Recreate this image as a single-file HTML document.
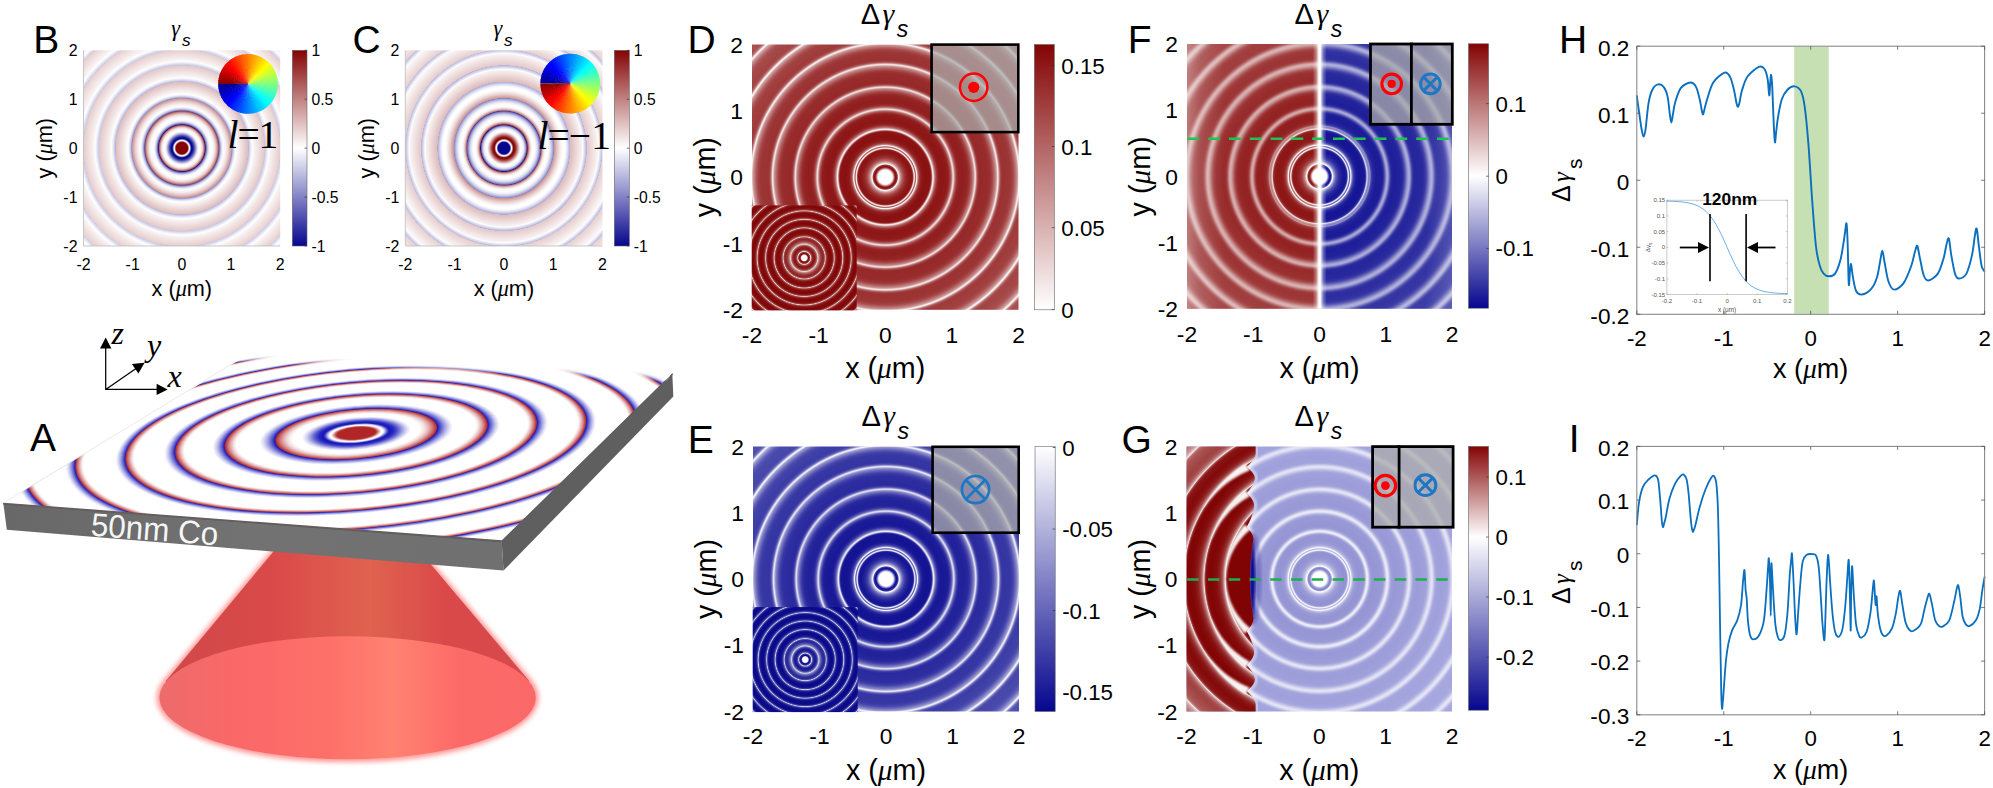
<!DOCTYPE html><html><head><meta charset="utf-8"><title>Figure</title><style>html,body{margin:0;padding:0;background:#fff}svg{display:block}</style></head><body><svg width="1993" height="788" viewBox="0 0 1993 788"><defs><radialGradient id="gB" gradientUnits="userSpaceOnUse" cx="181.85" cy="148.15" r="140.64"><stop offset="0.0000" stop-color="#840404"/><stop offset="0.0412" stop-color="#840404"/><stop offset="0.0427" stop-color="#8c1414"/><stop offset="0.0526" stop-color="#f9f3f3"/><stop offset="0.0540" stop-color="#fdfdfe"/><stop offset="0.0555" stop-color="#f2f2f9"/><stop offset="0.0569" stop-color="#dfdff1"/><stop offset="0.0583" stop-color="#c7c7e6"/><stop offset="0.0640" stop-color="#4d4dae"/><stop offset="0.0654" stop-color="#3232a2"/><stop offset="0.0668" stop-color="#1c1c98"/><stop offset="0.0683" stop-color="#0d0d91"/><stop offset="0.0697" stop-color="#06068e"/><stop offset="0.0739" stop-color="#0a0a90"/><stop offset="0.0796" stop-color="#1c1c98"/><stop offset="0.0867" stop-color="#4242a9"/><stop offset="0.1067" stop-color="#c9c9e7"/><stop offset="0.1138" stop-color="#ededf7"/><stop offset="0.1195" stop-color="#fdfdfe"/><stop offset="0.1280" stop-color="#fefdfd"/><stop offset="0.1365" stop-color="#f9f3f3"/><stop offset="0.1436" stop-color="#eedddd"/><stop offset="0.1493" stop-color="#e0bfbf"/><stop offset="0.1550" stop-color="#cb9494"/><stop offset="0.1593" stop-color="#b66a6a"/><stop offset="0.1635" stop-color="#9c3535"/><stop offset="0.1650" stop-color="#922121"/><stop offset="0.1664" stop-color="#171796"/><stop offset="0.1721" stop-color="#5e5eb6"/><stop offset="0.1778" stop-color="#9696cf"/><stop offset="0.1834" stop-color="#c0c0e2"/><stop offset="0.1891" stop-color="#ddddf0"/><stop offset="0.1962" stop-color="#f4f4fa"/><stop offset="0.2048" stop-color="#fefeff"/><stop offset="0.2190" stop-color="#fdfafa"/><stop offset="0.2304" stop-color="#f5eaea"/><stop offset="0.2403" stop-color="#e7cdcd"/><stop offset="0.2489" stop-color="#d4a7a7"/><stop offset="0.2560" stop-color="#be7b7b"/><stop offset="0.2631" stop-color="#a34343"/><stop offset="0.2645" stop-color="#5252b0"/><stop offset="0.2702" stop-color="#8b8bca"/><stop offset="0.2759" stop-color="#b7b7de"/><stop offset="0.2816" stop-color="#d7d7ed"/><stop offset="0.2887" stop-color="#f0f0f8"/><stop offset="0.2958" stop-color="#fefeff"/><stop offset="0.3157" stop-color="#f5eaea"/><stop offset="0.3328" stop-color="#e5caca"/><stop offset="0.3498" stop-color="#cf9c9c"/><stop offset="0.3541" stop-color="#c88e8e"/><stop offset="0.3555" stop-color="#8c8ccb"/><stop offset="0.3640" stop-color="#c0c0e3"/><stop offset="0.3726" stop-color="#e5e5f3"/><stop offset="0.3811" stop-color="#fafafd"/><stop offset="0.3840" stop-color="#ffffff"/><stop offset="0.4707" stop-color="#debcbc"/><stop offset="0.4721" stop-color="#b5b5dd"/><stop offset="0.4863" stop-color="#e0e0f1"/><stop offset="0.5006" stop-color="#fefeff"/><stop offset="0.5162" stop-color="#f8f1f1"/><stop offset="0.5873" stop-color="#e4c8c8"/><stop offset="0.5887" stop-color="#c4c4e4"/><stop offset="0.6072" stop-color="#ebebf6"/><stop offset="0.6172" stop-color="#fefefe"/><stop offset="0.6314" stop-color="#f8f1f1"/><stop offset="0.6982" stop-color="#e7cdcd"/><stop offset="0.6997" stop-color="#c7c7e5"/><stop offset="0.7181" stop-color="#ebebf6"/><stop offset="0.7295" stop-color="#ffffff"/><stop offset="0.7423" stop-color="#f9f3f3"/><stop offset="0.8134" stop-color="#e8d0d0"/><stop offset="0.8148" stop-color="#c9c9e6"/><stop offset="0.8333" stop-color="#ececf6"/><stop offset="0.8447" stop-color="#ffffff"/><stop offset="0.8575" stop-color="#f9f3f3"/><stop offset="0.9300" stop-color="#e8cfcf"/><stop offset="0.9315" stop-color="#cbcbe8"/><stop offset="0.9499" stop-color="#eeeef7"/><stop offset="0.9599" stop-color="#fefeff"/><stop offset="0.9741" stop-color="#f9f2f2"/><stop offset="0.9997" stop-color="#f2e5e5"/></radialGradient>
<linearGradient id="cbB" gradientUnits="userSpaceOnUse" x1="0.00" y1="50.30" x2="0.00" y2="246.00"><stop offset="0.0000" stop-color="#840404"/><stop offset="0.5000" stop-color="#ffffff"/><stop offset="1.0000" stop-color="#06068e"/></linearGradient>
<radialGradient id="gC" gradientUnits="userSpaceOnUse" cx="503.90" cy="148.15" r="141.00"><stop offset="0.0000" stop-color="#06068e"/><stop offset="0.0411" stop-color="#06068e"/><stop offset="0.0426" stop-color="#131394"/><stop offset="0.0525" stop-color="#f0f0f8"/><stop offset="0.0539" stop-color="#fefefe"/><stop offset="0.0553" stop-color="#f9f3f3"/><stop offset="0.0567" stop-color="#f1e1e1"/><stop offset="0.0582" stop-color="#e5c9c9"/><stop offset="0.0638" stop-color="#a94f4f"/><stop offset="0.0652" stop-color="#9b3434"/><stop offset="0.0667" stop-color="#901d1d"/><stop offset="0.0681" stop-color="#880c0c"/><stop offset="0.0695" stop-color="#840404"/><stop offset="0.0738" stop-color="#860808"/><stop offset="0.0794" stop-color="#8f1a1a"/><stop offset="0.0865" stop-color="#a13f3f"/><stop offset="0.1064" stop-color="#e4c7c7"/><stop offset="0.1135" stop-color="#f6ecec"/><stop offset="0.1192" stop-color="#fefcfc"/><stop offset="0.1262" stop-color="#fefeff"/><stop offset="0.1348" stop-color="#f6f6fb"/><stop offset="0.1418" stop-color="#e4e4f3"/><stop offset="0.1475" stop-color="#cacae7"/><stop offset="0.1532" stop-color="#a4a4d6"/><stop offset="0.1574" stop-color="#7e7ec4"/><stop offset="0.1617" stop-color="#4e4eaf"/><stop offset="0.1660" stop-color="#141494"/><stop offset="0.1674" stop-color="#932222"/><stop offset="0.1731" stop-color="#b56767"/><stop offset="0.1787" stop-color="#cf9d9d"/><stop offset="0.1844" stop-color="#e3c5c5"/><stop offset="0.1901" stop-color="#f0e1e1"/><stop offset="0.1972" stop-color="#faf6f6"/><stop offset="0.2057" stop-color="#ffffff"/><stop offset="0.2199" stop-color="#fafafd"/><stop offset="0.2312" stop-color="#e8e8f5"/><stop offset="0.2411" stop-color="#cbcbe7"/><stop offset="0.2496" stop-color="#a3a3d5"/><stop offset="0.2567" stop-color="#7777c1"/><stop offset="0.2638" stop-color="#3e3ea7"/><stop offset="0.2653" stop-color="#ae5959"/><stop offset="0.2709" stop-color="#c99191"/><stop offset="0.2766" stop-color="#debbbb"/><stop offset="0.2823" stop-color="#eddada"/><stop offset="0.2894" stop-color="#f8f1f1"/><stop offset="0.2979" stop-color="#fefefe"/><stop offset="0.3121" stop-color="#fdfdfe"/><stop offset="0.3234" stop-color="#eeeef7"/><stop offset="0.3362" stop-color="#cdcde8"/><stop offset="0.3489" stop-color="#9d9dd3"/><stop offset="0.3546" stop-color="#8484c7"/><stop offset="0.3560" stop-color="#ca9393"/><stop offset="0.3816" stop-color="#e7cdcd"/><stop offset="0.4028" stop-color="#f8f0f0"/><stop offset="0.4184" stop-color="#ffffff"/><stop offset="0.4355" stop-color="#fdfdfe"/><stop offset="0.4497" stop-color="#e2e2f2"/><stop offset="0.4709" stop-color="#a9a9d8"/><stop offset="0.4723" stop-color="#debbbb"/><stop offset="0.5532" stop-color="#f9f2f2"/><stop offset="0.5589" stop-color="#ffffff"/><stop offset="0.5844" stop-color="#babae0"/><stop offset="0.5872" stop-color="#b2b2dc"/><stop offset="0.5887" stop-color="#e4c8c8"/><stop offset="0.6653" stop-color="#f9f3f3"/><stop offset="0.6709" stop-color="#ffffff"/><stop offset="0.6979" stop-color="#babae0"/><stop offset="0.6993" stop-color="#e6cdcd"/><stop offset="0.7816" stop-color="#fbf8f8"/><stop offset="0.7858" stop-color="#fefefe"/><stop offset="0.8142" stop-color="#babae0"/><stop offset="0.8156" stop-color="#e8d0d0"/><stop offset="0.8965" stop-color="#fbf7f7"/><stop offset="0.9007" stop-color="#fefeff"/><stop offset="0.9291" stop-color="#bcbce0"/><stop offset="0.9305" stop-color="#e8d0d0"/><stop offset="1.0000" stop-color="#f8f0f0"/></radialGradient>
<linearGradient id="cbC" gradientUnits="userSpaceOnUse" x1="0.00" y1="50.30" x2="0.00" y2="246.00"><stop offset="0.0000" stop-color="#840404"/><stop offset="0.5000" stop-color="#ffffff"/><stop offset="1.0000" stop-color="#06068e"/></linearGradient>
<radialGradient id="gD" gradientUnits="userSpaceOnUse" cx="885.25" cy="177.15" r="190.55"><stop offset="0.0000" stop-color="#ffffff"/><stop offset="0.0357" stop-color="#fffefe"/><stop offset="0.0378" stop-color="#f9f3f3"/><stop offset="0.0399" stop-color="#eedcdc"/><stop offset="0.0430" stop-color="#d7acac"/><stop offset="0.0493" stop-color="#a24141"/><stop offset="0.0514" stop-color="#942626"/><stop offset="0.0535" stop-color="#8c1414"/><stop offset="0.0556" stop-color="#890f0f"/><stop offset="0.0598" stop-color="#911f1f"/><stop offset="0.0619" stop-color="#992f2f"/><stop offset="0.0630" stop-color="#9f3a3a"/><stop offset="0.0640" stop-color="#a74b4b"/><stop offset="0.0651" stop-color="#b86f6f"/><stop offset="0.0672" stop-color="#e1c2c2"/><stop offset="0.0682" stop-color="#f3e6e6"/><stop offset="0.0693" stop-color="#fdfbfb"/><stop offset="0.0703" stop-color="#fefefe"/><stop offset="0.0714" stop-color="#f6eded"/><stop offset="0.0766" stop-color="#dbb5b5"/><stop offset="0.0819" stop-color="#c68b8b"/><stop offset="0.0882" stop-color="#b46565"/><stop offset="0.0966" stop-color="#a34343"/><stop offset="0.1071" stop-color="#962a2a"/><stop offset="0.1218" stop-color="#8e1818"/><stop offset="0.1364" stop-color="#8b1212"/><stop offset="0.1417" stop-color="#8f1a1a"/><stop offset="0.1438" stop-color="#932323"/><stop offset="0.1448" stop-color="#992f2f"/><stop offset="0.1459" stop-color="#a44545"/><stop offset="0.1469" stop-color="#b26363"/><stop offset="0.1490" stop-color="#d7acac"/><stop offset="0.1501" stop-color="#e7cece"/><stop offset="0.1511" stop-color="#f2e5e5"/><stop offset="0.1522" stop-color="#f6ecec"/><stop offset="0.1532" stop-color="#f1e2e2"/><stop offset="0.1543" stop-color="#e5caca"/><stop offset="0.1564" stop-color="#c58888"/><stop offset="0.1574" stop-color="#b76c6c"/><stop offset="0.1585" stop-color="#b16060"/><stop offset="0.1595" stop-color="#b46666"/><stop offset="0.1606" stop-color="#c07e7e"/><stop offset="0.1627" stop-color="#e2c4c4"/><stop offset="0.1637" stop-color="#f1e3e3"/><stop offset="0.1648" stop-color="#faf5f5"/><stop offset="0.1658" stop-color="#fbf6f6"/><stop offset="0.1669" stop-color="#f2e5e5"/><stop offset="0.1690" stop-color="#d5a9a9"/><stop offset="0.1721" stop-color="#be7979"/><stop offset="0.1753" stop-color="#ad5858"/><stop offset="0.1795" stop-color="#9f3b3b"/><stop offset="0.1847" stop-color="#952626"/><stop offset="0.1931" stop-color="#8d1717"/><stop offset="0.2099" stop-color="#8a1010"/><stop offset="0.2351" stop-color="#8b1313"/><stop offset="0.2383" stop-color="#8f1b1b"/><stop offset="0.2404" stop-color="#972a2a"/><stop offset="0.2414" stop-color="#9d3636"/><stop offset="0.2425" stop-color="#a54747"/><stop offset="0.2446" stop-color="#bb7474"/><stop offset="0.2477" stop-color="#e3c6c6"/><stop offset="0.2488" stop-color="#eddbdb"/><stop offset="0.2498" stop-color="#f4e8e8"/><stop offset="0.2509" stop-color="#f6ecec"/><stop offset="0.2519" stop-color="#f4e8e8"/><stop offset="0.2530" stop-color="#efdede"/><stop offset="0.2582" stop-color="#c88e8e"/><stop offset="0.2614" stop-color="#b86d6d"/><stop offset="0.2676" stop-color="#a34444"/><stop offset="0.2739" stop-color="#962929"/><stop offset="0.2813" stop-color="#8f1a1a"/><stop offset="0.2960" stop-color="#8d1515"/><stop offset="0.3264" stop-color="#8f1b1b"/><stop offset="0.3338" stop-color="#952626"/><stop offset="0.3401" stop-color="#a13e3e"/><stop offset="0.3453" stop-color="#b15f5f"/><stop offset="0.3485" stop-color="#bf7c7c"/><stop offset="0.3516" stop-color="#d4a8a8"/><stop offset="0.3537" stop-color="#e4c7c7"/><stop offset="0.3548" stop-color="#ead3d3"/><stop offset="0.3558" stop-color="#eddbdb"/><stop offset="0.3569" stop-color="#eedddd"/><stop offset="0.3579" stop-color="#ecd8d8"/><stop offset="0.3600" stop-color="#e1c1c1"/><stop offset="0.3642" stop-color="#c38484"/><stop offset="0.3674" stop-color="#b46565"/><stop offset="0.3726" stop-color="#a34444"/><stop offset="0.3779" stop-color="#992e2e"/><stop offset="0.3852" stop-color="#922121"/><stop offset="0.4041" stop-color="#911e1e"/><stop offset="0.4303" stop-color="#942424"/><stop offset="0.4408" stop-color="#9b3232"/><stop offset="0.4503" stop-color="#a84e4e"/><stop offset="0.4618" stop-color="#c18080"/><stop offset="0.4650" stop-color="#cd9999"/><stop offset="0.4692" stop-color="#e6cccc"/><stop offset="0.4702" stop-color="#ebd7d7"/><stop offset="0.4713" stop-color="#eedddd"/><stop offset="0.4723" stop-color="#efdede"/><stop offset="0.4734" stop-color="#ecd9d9"/><stop offset="0.4744" stop-color="#e7cece"/><stop offset="0.4797" stop-color="#bf7d7d"/><stop offset="0.4828" stop-color="#ae5959"/><stop offset="0.4860" stop-color="#a34343"/><stop offset="0.4902" stop-color="#9a3232"/><stop offset="0.4965" stop-color="#962828"/><stop offset="0.5416" stop-color="#982c2c"/><stop offset="0.5542" stop-color="#9d3636"/><stop offset="0.5636" stop-color="#a74b4b"/><stop offset="0.5783" stop-color="#c18080"/><stop offset="0.5825" stop-color="#cc9797"/><stop offset="0.5857" stop-color="#dcb7b7"/><stop offset="0.5888" stop-color="#eedcdc"/><stop offset="0.5899" stop-color="#f1e3e3"/><stop offset="0.5909" stop-color="#f3e6e6"/><stop offset="0.5920" stop-color="#f1e3e3"/><stop offset="0.5930" stop-color="#eddada"/><stop offset="0.5951" stop-color="#debcbc"/><stop offset="0.5983" stop-color="#c58989"/><stop offset="0.6014" stop-color="#b46565"/><stop offset="0.6046" stop-color="#a84e4e"/><stop offset="0.6088" stop-color="#a03c3c"/><stop offset="0.6151" stop-color="#9b3232"/><stop offset="0.6529" stop-color="#9c3535"/><stop offset="0.6665" stop-color="#a24040"/><stop offset="0.6759" stop-color="#ac5656"/><stop offset="0.6906" stop-color="#c68b8b"/><stop offset="0.6938" stop-color="#ce9c9c"/><stop offset="0.6969" stop-color="#ddb9b9"/><stop offset="0.7001" stop-color="#efdfdf"/><stop offset="0.7011" stop-color="#f4e9e9"/><stop offset="0.7022" stop-color="#f7eeee"/><stop offset="0.7032" stop-color="#f7eeee"/><stop offset="0.7043" stop-color="#f4e9e9"/><stop offset="0.7064" stop-color="#e7cfcf"/><stop offset="0.7106" stop-color="#c78d8d"/><stop offset="0.7137" stop-color="#b66b6b"/><stop offset="0.7179" stop-color="#a95050"/><stop offset="0.7232" stop-color="#a14040"/><stop offset="0.7326" stop-color="#9f3a3a"/><stop offset="0.7725" stop-color="#a24141"/><stop offset="0.7841" stop-color="#a84e4e"/><stop offset="0.7935" stop-color="#b46565"/><stop offset="0.8071" stop-color="#cd9898"/><stop offset="0.8103" stop-color="#d6acac"/><stop offset="0.8134" stop-color="#e7cece"/><stop offset="0.8155" stop-color="#f3e7e7"/><stop offset="0.8166" stop-color="#f8f0f0"/><stop offset="0.8176" stop-color="#faf5f5"/><stop offset="0.8187" stop-color="#faf5f5"/><stop offset="0.8197" stop-color="#f7efef"/><stop offset="0.8218" stop-color="#ead5d5"/><stop offset="0.8260" stop-color="#cb9494"/><stop offset="0.8292" stop-color="#ba7373"/><stop offset="0.8334" stop-color="#ae5959"/><stop offset="0.8386" stop-color="#a64949"/><stop offset="0.8481" stop-color="#a34444"/><stop offset="0.8880" stop-color="#a64a4a"/><stop offset="0.8995" stop-color="#ac5757"/><stop offset="0.9100" stop-color="#b97171"/><stop offset="0.9226" stop-color="#cf9e9e"/><stop offset="0.9258" stop-color="#d9b1b1"/><stop offset="0.9289" stop-color="#e9d1d1"/><stop offset="0.9310" stop-color="#f4e9e9"/><stop offset="0.9331" stop-color="#faf6f6"/><stop offset="0.9342" stop-color="#faf5f5"/><stop offset="0.9352" stop-color="#f7efef"/><stop offset="0.9373" stop-color="#ebd6d6"/><stop offset="0.9415" stop-color="#cd9999"/><stop offset="0.9446" stop-color="#be7a7a"/><stop offset="0.9488" stop-color="#b26161"/><stop offset="0.9541" stop-color="#aa5353"/><stop offset="0.9646" stop-color="#a84e4e"/><stop offset="1.0003" stop-color="#aa5252"/></radialGradient>
<clipPath id="ciD"><rect x="751.70" y="205.40" width="105.00" height="105.00"/></clipPath>
<radialGradient id="giD" gradientUnits="userSpaceOnUse" cx="804.20" cy="257.90" r="75.60"><stop offset="0.0000" stop-color="#ffffff"/><stop offset="0.0337" stop-color="#ffffff"/><stop offset="0.0357" stop-color="#fefcfc"/><stop offset="0.0377" stop-color="#f7efef"/><stop offset="0.0397" stop-color="#ebd8d8"/><stop offset="0.0417" stop-color="#dcbbbb"/><stop offset="0.0476" stop-color="#a85555"/><stop offset="0.0496" stop-color="#993737"/><stop offset="0.0516" stop-color="#8c1e1e"/><stop offset="0.0536" stop-color="#840f0f"/><stop offset="0.0556" stop-color="#820a0a"/><stop offset="0.0635" stop-color="#871515"/><stop offset="0.0694" stop-color="#912727"/><stop offset="0.0734" stop-color="#9c3e3e"/><stop offset="0.0754" stop-color="#a54e4e"/><stop offset="0.0774" stop-color="#b06464"/><stop offset="0.0794" stop-color="#bd7f7f"/><stop offset="0.0813" stop-color="#cfa1a1"/><stop offset="0.0833" stop-color="#e6cece"/><stop offset="0.0853" stop-color="#f3e7e7"/><stop offset="0.0873" stop-color="#e3c7c7"/><stop offset="0.0913" stop-color="#c99595"/><stop offset="0.0952" stop-color="#b67070"/><stop offset="0.0992" stop-color="#a85555"/><stop offset="0.1052" stop-color="#9a3939"/><stop offset="0.1131" stop-color="#8f2424"/><stop offset="0.1230" stop-color="#891818"/><stop offset="0.1349" stop-color="#891818"/><stop offset="0.1468" stop-color="#902525"/><stop offset="0.1567" stop-color="#9c3c3c"/><stop offset="0.1647" stop-color="#ac5c5c"/><stop offset="0.1706" stop-color="#be8181"/><stop offset="0.1746" stop-color="#cfa1a1"/><stop offset="0.1786" stop-color="#e4caca"/><stop offset="0.1806" stop-color="#ead5d5"/><stop offset="0.1885" stop-color="#d2a7a7"/><stop offset="0.1984" stop-color="#bc7b7b"/><stop offset="0.2103" stop-color="#a95656"/><stop offset="0.2242" stop-color="#9a3939"/><stop offset="0.2401" stop-color="#912727"/><stop offset="0.2520" stop-color="#902626"/><stop offset="0.2599" stop-color="#963232"/><stop offset="0.2639" stop-color="#9d4040"/><stop offset="0.2679" stop-color="#a95656"/><stop offset="0.2698" stop-color="#b16666"/><stop offset="0.2718" stop-color="#bb7b7b"/><stop offset="0.2738" stop-color="#c89494"/><stop offset="0.2758" stop-color="#d8b3b3"/><stop offset="0.2778" stop-color="#eddbdb"/><stop offset="0.2817" stop-color="#d1a5a5"/><stop offset="0.2857" stop-color="#bd7d7d"/><stop offset="0.2897" stop-color="#ad5f5f"/><stop offset="0.2956" stop-color="#9d4040"/><stop offset="0.3036" stop-color="#902626"/><stop offset="0.3135" stop-color="#881515"/><stop offset="0.3313" stop-color="#820a0a"/><stop offset="0.3591" stop-color="#810909"/><stop offset="0.3710" stop-color="#861212"/><stop offset="0.3790" stop-color="#8f2323"/><stop offset="0.3829" stop-color="#973434"/><stop offset="0.3869" stop-color="#a44d4d"/><stop offset="0.3889" stop-color="#ad5f5f"/><stop offset="0.3909" stop-color="#b87474"/><stop offset="0.3929" stop-color="#c68f8f"/><stop offset="0.3948" stop-color="#d7b0b0"/><stop offset="0.3968" stop-color="#ecd9d9"/><stop offset="0.3988" stop-color="#dbb9b9"/><stop offset="0.4008" stop-color="#cd9d9d"/><stop offset="0.4048" stop-color="#b77272"/><stop offset="0.4087" stop-color="#a75252"/><stop offset="0.4147" stop-color="#973434"/><stop offset="0.4226" stop-color="#8b1c1c"/><stop offset="0.4345" stop-color="#830d0d"/><stop offset="0.4563" stop-color="#800606"/><stop offset="0.4762" stop-color="#820a0a"/><stop offset="0.4861" stop-color="#881515"/><stop offset="0.4921" stop-color="#902525"/><stop offset="0.4960" stop-color="#993737"/><stop offset="0.5000" stop-color="#a75252"/><stop offset="0.5020" stop-color="#b06565"/><stop offset="0.5040" stop-color="#bc7c7c"/><stop offset="0.5060" stop-color="#cb9999"/><stop offset="0.5079" stop-color="#ddbdbd"/><stop offset="0.5099" stop-color="#e6cece"/><stop offset="0.5119" stop-color="#d6afaf"/><stop offset="0.5139" stop-color="#c99595"/><stop offset="0.5179" stop-color="#b46c6c"/><stop offset="0.5218" stop-color="#a54e4e"/><stop offset="0.5278" stop-color="#963131"/><stop offset="0.5357" stop-color="#8b1b1b"/><stop offset="0.5476" stop-color="#830c0c"/><stop offset="0.5714" stop-color="#800606"/><stop offset="0.5913" stop-color="#830c0c"/><stop offset="0.5992" stop-color="#881717"/><stop offset="0.6052" stop-color="#912828"/><stop offset="0.6091" stop-color="#9b3b3b"/><stop offset="0.6131" stop-color="#aa5858"/><stop offset="0.6151" stop-color="#b46c6c"/><stop offset="0.6171" stop-color="#c18585"/><stop offset="0.6190" stop-color="#d1a4a4"/><stop offset="0.6210" stop-color="#e4cbcb"/><stop offset="0.6230" stop-color="#e0c3c3"/><stop offset="0.6250" stop-color="#d1a6a6"/><stop offset="0.6290" stop-color="#ba7878"/><stop offset="0.6329" stop-color="#a95757"/><stop offset="0.6389" stop-color="#983636"/><stop offset="0.6448" stop-color="#8e2222"/><stop offset="0.6548" stop-color="#861111"/><stop offset="0.6726" stop-color="#800707"/><stop offset="0.6984" stop-color="#810808"/><stop offset="0.7103" stop-color="#861212"/><stop offset="0.7163" stop-color="#8c1f1f"/><stop offset="0.7222" stop-color="#993737"/><stop offset="0.7262" stop-color="#a75252"/><stop offset="0.7282" stop-color="#b06565"/><stop offset="0.7302" stop-color="#bc7c7c"/><stop offset="0.7321" stop-color="#cb9999"/><stop offset="0.7341" stop-color="#ddbdbd"/><stop offset="0.7361" stop-color="#e6cece"/><stop offset="0.7381" stop-color="#d6afaf"/><stop offset="0.7401" stop-color="#c99595"/><stop offset="0.7440" stop-color="#b46c6c"/><stop offset="0.7480" stop-color="#a54e4e"/><stop offset="0.7540" stop-color="#963131"/><stop offset="0.7619" stop-color="#8b1b1b"/><stop offset="0.7738" stop-color="#830c0c"/><stop offset="0.7976" stop-color="#800606"/><stop offset="0.8194" stop-color="#820a0a"/><stop offset="0.8294" stop-color="#871414"/><stop offset="0.8353" stop-color="#8f2323"/><stop offset="0.8393" stop-color="#973434"/><stop offset="0.8433" stop-color="#a44d4d"/><stop offset="0.8452" stop-color="#ad5e5e"/><stop offset="0.8472" stop-color="#b87474"/><stop offset="0.8492" stop-color="#c68f8f"/><stop offset="0.8512" stop-color="#d7b0b0"/><stop offset="0.8532" stop-color="#ecd9d9"/><stop offset="0.8552" stop-color="#dbb9b9"/><stop offset="0.8571" stop-color="#cd9d9d"/><stop offset="0.8611" stop-color="#b77171"/><stop offset="0.8651" stop-color="#a75252"/><stop offset="0.8710" stop-color="#973333"/><stop offset="0.8790" stop-color="#8b1c1c"/><stop offset="0.8909" stop-color="#830d0d"/><stop offset="0.9127" stop-color="#800606"/><stop offset="0.9325" stop-color="#820a0a"/><stop offset="0.9425" stop-color="#881515"/><stop offset="0.9484" stop-color="#902525"/><stop offset="0.9524" stop-color="#993737"/><stop offset="0.9563" stop-color="#a75252"/><stop offset="0.9583" stop-color="#b06565"/><stop offset="0.9603" stop-color="#bc7c7c"/><stop offset="0.9623" stop-color="#cb9999"/><stop offset="0.9643" stop-color="#ddbdbd"/><stop offset="0.9663" stop-color="#e6cece"/><stop offset="0.9683" stop-color="#d6afaf"/><stop offset="0.9702" stop-color="#c99595"/><stop offset="0.9742" stop-color="#b46c6c"/><stop offset="0.9782" stop-color="#a54e4e"/><stop offset="0.9841" stop-color="#963131"/><stop offset="0.9921" stop-color="#8b1b1b"/><stop offset="1.0000" stop-color="#851010"/></radialGradient>
<linearGradient id="cbD" gradientUnits="userSpaceOnUse" x1="0.00" y1="44.50" x2="0.00" y2="309.80"><stop offset="0.0000" stop-color="#840404"/><stop offset="1.0000" stop-color="#ffffff"/></linearGradient>
<radialGradient id="gE" gradientUnits="userSpaceOnUse" cx="886.00" cy="579.00" r="190.19"><stop offset="0.0000" stop-color="#ffffff"/><stop offset="0.0358" stop-color="#fefeff"/><stop offset="0.0379" stop-color="#f2f2f9"/><stop offset="0.0400" stop-color="#dbdbef"/><stop offset="0.0431" stop-color="#acacd9"/><stop offset="0.0484" stop-color="#5151b0"/><stop offset="0.0515" stop-color="#26269d"/><stop offset="0.0536" stop-color="#151595"/><stop offset="0.0557" stop-color="#111193"/><stop offset="0.0599" stop-color="#22229b"/><stop offset="0.0620" stop-color="#3232a2"/><stop offset="0.0631" stop-color="#3d3da7"/><stop offset="0.0641" stop-color="#5050af"/><stop offset="0.0652" stop-color="#7474c0"/><stop offset="0.0673" stop-color="#c8c8e6"/><stop offset="0.0684" stop-color="#e9e9f5"/><stop offset="0.0694" stop-color="#fdfdfe"/><stop offset="0.0705" stop-color="#fdfdfe"/><stop offset="0.0715" stop-color="#ebebf6"/><stop offset="0.0768" stop-color="#b5b5dd"/><stop offset="0.0831" stop-color="#8484c7"/><stop offset="0.0904" stop-color="#5c5cb5"/><stop offset="0.0988" stop-color="#3e3ea7"/><stop offset="0.1104" stop-color="#26269c"/><stop offset="0.1272" stop-color="#161695"/><stop offset="0.1378" stop-color="#151595"/><stop offset="0.1420" stop-color="#1d1d98"/><stop offset="0.1441" stop-color="#26269d"/><stop offset="0.1451" stop-color="#3636a4"/><stop offset="0.1462" stop-color="#4e4eae"/><stop offset="0.1472" stop-color="#6d6dbd"/><stop offset="0.1493" stop-color="#b7b7de"/><stop offset="0.1504" stop-color="#d6d6ec"/><stop offset="0.1514" stop-color="#e9e9f5"/><stop offset="0.1525" stop-color="#ebebf6"/><stop offset="0.1535" stop-color="#ddddf0"/><stop offset="0.1546" stop-color="#c2c2e3"/><stop offset="0.1567" stop-color="#8080c6"/><stop offset="0.1577" stop-color="#6868ba"/><stop offset="0.1588" stop-color="#6161b7"/><stop offset="0.1598" stop-color="#6c6cbc"/><stop offset="0.1609" stop-color="#8888c9"/><stop offset="0.1630" stop-color="#cecee9"/><stop offset="0.1640" stop-color="#eaeaf5"/><stop offset="0.1651" stop-color="#f7f7fb"/><stop offset="0.1661" stop-color="#f3f3fa"/><stop offset="0.1672" stop-color="#dedef0"/><stop offset="0.1683" stop-color="#bcbce1"/><stop offset="0.1693" stop-color="#a4a4d6"/><stop offset="0.1725" stop-color="#7676c1"/><stop offset="0.1756" stop-color="#5757b3"/><stop offset="0.1798" stop-color="#3b3ba6"/><stop offset="0.1851" stop-color="#27279d"/><stop offset="0.1935" stop-color="#181896"/><stop offset="0.2103" stop-color="#121293"/><stop offset="0.2345" stop-color="#141494"/><stop offset="0.2377" stop-color="#1a1a97"/><stop offset="0.2398" stop-color="#26269d"/><stop offset="0.2419" stop-color="#3e3ea8"/><stop offset="0.2429" stop-color="#5151b0"/><stop offset="0.2450" stop-color="#8181c6"/><stop offset="0.2471" stop-color="#b8b8df"/><stop offset="0.2482" stop-color="#d0d0ea"/><stop offset="0.2492" stop-color="#e2e2f2"/><stop offset="0.2503" stop-color="#ebebf6"/><stop offset="0.2513" stop-color="#ebebf6"/><stop offset="0.2524" stop-color="#e4e4f3"/><stop offset="0.2545" stop-color="#c8c8e6"/><stop offset="0.2576" stop-color="#9696d0"/><stop offset="0.2608" stop-color="#7373c0"/><stop offset="0.2660" stop-color="#4f4faf"/><stop offset="0.2724" stop-color="#3030a1"/><stop offset="0.2787" stop-color="#1f1f9a"/><stop offset="0.2892" stop-color="#181896"/><stop offset="0.3260" stop-color="#1c1c98"/><stop offset="0.3334" stop-color="#27279d"/><stop offset="0.3397" stop-color="#3e3ea7"/><stop offset="0.3449" stop-color="#5d5db6"/><stop offset="0.3481" stop-color="#7979c2"/><stop offset="0.3512" stop-color="#a3a3d5"/><stop offset="0.3544" stop-color="#d0d0ea"/><stop offset="0.3554" stop-color="#d9d9ee"/><stop offset="0.3565" stop-color="#ddddf0"/><stop offset="0.3575" stop-color="#dbdbef"/><stop offset="0.3586" stop-color="#d3d3eb"/><stop offset="0.3607" stop-color="#b8b8df"/><stop offset="0.3638" stop-color="#8a8aca"/><stop offset="0.3670" stop-color="#6969bb"/><stop offset="0.3723" stop-color="#4747ac"/><stop offset="0.3786" stop-color="#2e2ea0"/><stop offset="0.3859" stop-color="#22229b"/><stop offset="0.4112" stop-color="#21219a"/><stop offset="0.4322" stop-color="#28289d"/><stop offset="0.4417" stop-color="#3636a4"/><stop offset="0.4511" stop-color="#5252b1"/><stop offset="0.4616" stop-color="#8080c5"/><stop offset="0.4648" stop-color="#9898d0"/><stop offset="0.4701" stop-color="#d6d6ec"/><stop offset="0.4711" stop-color="#dcdcef"/><stop offset="0.4722" stop-color="#dedef0"/><stop offset="0.4732" stop-color="#dadaee"/><stop offset="0.4743" stop-color="#d1d1ea"/><stop offset="0.4764" stop-color="#b2b2dc"/><stop offset="0.4795" stop-color="#8080c5"/><stop offset="0.4827" stop-color="#5c5cb5"/><stop offset="0.4858" stop-color="#4545ab"/><stop offset="0.4900" stop-color="#3434a3"/><stop offset="0.4963" stop-color="#2a2a9e"/><stop offset="0.5416" stop-color="#2e2ea0"/><stop offset="0.5542" stop-color="#3838a5"/><stop offset="0.5636" stop-color="#4c4cae"/><stop offset="0.5784" stop-color="#8181c6"/><stop offset="0.5826" stop-color="#9898d0"/><stop offset="0.5857" stop-color="#b9b9df"/><stop offset="0.5889" stop-color="#ddddf0"/><stop offset="0.5899" stop-color="#e4e4f3"/><stop offset="0.5910" stop-color="#e6e6f4"/><stop offset="0.5920" stop-color="#e3e3f2"/><stop offset="0.5931" stop-color="#d9d9ee"/><stop offset="0.5952" stop-color="#bbbbe0"/><stop offset="0.5983" stop-color="#8989ca"/><stop offset="0.6015" stop-color="#6666b9"/><stop offset="0.6047" stop-color="#4f4faf"/><stop offset="0.6089" stop-color="#3d3da7"/><stop offset="0.6152" stop-color="#3434a3"/><stop offset="0.6530" stop-color="#3737a4"/><stop offset="0.6657" stop-color="#4141a9"/><stop offset="0.6751" stop-color="#5555b2"/><stop offset="0.6898" stop-color="#8989c9"/><stop offset="0.6940" stop-color="#9e9ed3"/><stop offset="0.6972" stop-color="#bdbde1"/><stop offset="0.7004" stop-color="#e2e2f2"/><stop offset="0.7014" stop-color="#ebebf6"/><stop offset="0.7025" stop-color="#efeff8"/><stop offset="0.7035" stop-color="#eeeef7"/><stop offset="0.7046" stop-color="#e7e7f4"/><stop offset="0.7067" stop-color="#cbcbe7"/><stop offset="0.7109" stop-color="#8a8aca"/><stop offset="0.7140" stop-color="#6969bb"/><stop offset="0.7182" stop-color="#5050b0"/><stop offset="0.7235" stop-color="#4141a9"/><stop offset="0.7330" stop-color="#3c3ca6"/><stop offset="0.7719" stop-color="#4242a9"/><stop offset="0.7834" stop-color="#4e4eaf"/><stop offset="0.7929" stop-color="#6565b9"/><stop offset="0.8076" stop-color="#9c9cd2"/><stop offset="0.8108" stop-color="#b1b1dc"/><stop offset="0.8160" stop-color="#ececf6"/><stop offset="0.8171" stop-color="#f3f3f9"/><stop offset="0.8181" stop-color="#f6f6fb"/><stop offset="0.8192" stop-color="#f3f3f9"/><stop offset="0.8202" stop-color="#eaeaf6"/><stop offset="0.8223" stop-color="#cdcde8"/><stop offset="0.8255" stop-color="#9c9cd2"/><stop offset="0.8286" stop-color="#7979c2"/><stop offset="0.8318" stop-color="#6262b8"/><stop offset="0.8360" stop-color="#5151b0"/><stop offset="0.8423" stop-color="#4747ab"/><stop offset="0.8844" stop-color="#4a4aad"/><stop offset="0.8980" stop-color="#5656b2"/><stop offset="0.9086" stop-color="#6d6dbd"/><stop offset="0.9233" stop-color="#a2a2d5"/><stop offset="0.9264" stop-color="#b7b7df"/><stop offset="0.9317" stop-color="#efeff8"/><stop offset="0.9328" stop-color="#f5f5fa"/><stop offset="0.9338" stop-color="#f6f6fb"/><stop offset="0.9349" stop-color="#f2f2f9"/><stop offset="0.9370" stop-color="#dbdbef"/><stop offset="0.9412" stop-color="#9e9ed3"/><stop offset="0.9443" stop-color="#7d7dc4"/><stop offset="0.9485" stop-color="#6464b8"/><stop offset="0.9538" stop-color="#5454b2"/><stop offset="0.9632" stop-color="#4f4faf"/><stop offset="1.0001" stop-color="#5454b1"/></radialGradient>
<clipPath id="ciE"><rect x="752.70" y="607.10" width="105.00" height="105.00"/></clipPath>
<radialGradient id="giE" gradientUnits="userSpaceOnUse" cx="805.20" cy="659.60" r="75.60"><stop offset="0.0000" stop-color="#ffffff"/><stop offset="0.0337" stop-color="#ffffff"/><stop offset="0.0357" stop-color="#fcfcfe"/><stop offset="0.0377" stop-color="#efeff7"/><stop offset="0.0397" stop-color="#d8d8ed"/><stop offset="0.0417" stop-color="#bbbbdf"/><stop offset="0.0476" stop-color="#5656af"/><stop offset="0.0496" stop-color="#3838a0"/><stop offset="0.0516" stop-color="#202095"/><stop offset="0.0536" stop-color="#11118e"/><stop offset="0.0556" stop-color="#0c0c8b"/><stop offset="0.0635" stop-color="#161690"/><stop offset="0.0694" stop-color="#292999"/><stop offset="0.0734" stop-color="#4040a4"/><stop offset="0.0754" stop-color="#5050ac"/><stop offset="0.0774" stop-color="#6565b6"/><stop offset="0.0794" stop-color="#8080c2"/><stop offset="0.0813" stop-color="#a2a2d3"/><stop offset="0.0833" stop-color="#cecee8"/><stop offset="0.0853" stop-color="#e7e7f4"/><stop offset="0.0873" stop-color="#c8c8e5"/><stop offset="0.0913" stop-color="#9696cd"/><stop offset="0.0952" stop-color="#7171bb"/><stop offset="0.1012" stop-color="#4b4ba9"/><stop offset="0.1071" stop-color="#34349e"/><stop offset="0.1151" stop-color="#222296"/><stop offset="0.1270" stop-color="#191991"/><stop offset="0.1409" stop-color="#1f1f94"/><stop offset="0.1508" stop-color="#2e2e9c"/><stop offset="0.1587" stop-color="#4444a6"/><stop offset="0.1647" stop-color="#5e5eb2"/><stop offset="0.1706" stop-color="#8282c3"/><stop offset="0.1746" stop-color="#a2a2d3"/><stop offset="0.1786" stop-color="#cacae6"/><stop offset="0.1806" stop-color="#d5d5eb"/><stop offset="0.1885" stop-color="#a7a7d5"/><stop offset="0.1984" stop-color="#7c7cc1"/><stop offset="0.2103" stop-color="#5757af"/><stop offset="0.2242" stop-color="#3b3ba2"/><stop offset="0.2401" stop-color="#292999"/><stop offset="0.2520" stop-color="#282898"/><stop offset="0.2599" stop-color="#33339e"/><stop offset="0.2639" stop-color="#4141a5"/><stop offset="0.2679" stop-color="#5858af"/><stop offset="0.2698" stop-color="#6868b7"/><stop offset="0.2718" stop-color="#7c7cc0"/><stop offset="0.2738" stop-color="#9595cc"/><stop offset="0.2758" stop-color="#b4b4db"/><stop offset="0.2778" stop-color="#dbdbee"/><stop offset="0.2817" stop-color="#a6a6d5"/><stop offset="0.2857" stop-color="#7e7ec2"/><stop offset="0.2897" stop-color="#6060b3"/><stop offset="0.2956" stop-color="#4141a5"/><stop offset="0.3036" stop-color="#282898"/><stop offset="0.3155" stop-color="#151590"/><stop offset="0.3353" stop-color="#0a0a8a"/><stop offset="0.3611" stop-color="#0b0b8b"/><stop offset="0.3730" stop-color="#171790"/><stop offset="0.3790" stop-color="#252597"/><stop offset="0.3829" stop-color="#35359f"/><stop offset="0.3869" stop-color="#4f4fab"/><stop offset="0.3889" stop-color="#6060b3"/><stop offset="0.3909" stop-color="#7575bd"/><stop offset="0.3929" stop-color="#9090ca"/><stop offset="0.3948" stop-color="#b1b1da"/><stop offset="0.3968" stop-color="#dadaed"/><stop offset="0.3988" stop-color="#b9b9de"/><stop offset="0.4008" stop-color="#9e9ed1"/><stop offset="0.4048" stop-color="#7373bc"/><stop offset="0.4087" stop-color="#5454ad"/><stop offset="0.4147" stop-color="#35359f"/><stop offset="0.4226" stop-color="#1e1e94"/><stop offset="0.4345" stop-color="#0f0f8d"/><stop offset="0.4563" stop-color="#080889"/><stop offset="0.4762" stop-color="#0c0c8b"/><stop offset="0.4861" stop-color="#171791"/><stop offset="0.4921" stop-color="#272798"/><stop offset="0.4960" stop-color="#3939a1"/><stop offset="0.5000" stop-color="#5454ad"/><stop offset="0.5020" stop-color="#6666b6"/><stop offset="0.5040" stop-color="#7d7dc1"/><stop offset="0.5060" stop-color="#9a9acf"/><stop offset="0.5079" stop-color="#bdbde0"/><stop offset="0.5099" stop-color="#cecee8"/><stop offset="0.5119" stop-color="#afafd9"/><stop offset="0.5159" stop-color="#7f7fc2"/><stop offset="0.5198" stop-color="#5d5db2"/><stop offset="0.5258" stop-color="#3b3ba1"/><stop offset="0.5317" stop-color="#262698"/><stop offset="0.5417" stop-color="#14148f"/><stop offset="0.5575" stop-color="#0a0a8a"/><stop offset="0.5833" stop-color="#0a0a8a"/><stop offset="0.5952" stop-color="#12128e"/><stop offset="0.6032" stop-color="#232396"/><stop offset="0.6091" stop-color="#3c3ca2"/><stop offset="0.6131" stop-color="#5959b0"/><stop offset="0.6151" stop-color="#6d6dba"/><stop offset="0.6171" stop-color="#8686c6"/><stop offset="0.6190" stop-color="#a5a5d4"/><stop offset="0.6210" stop-color="#cbcbe6"/><stop offset="0.6230" stop-color="#c3c3e3"/><stop offset="0.6250" stop-color="#a6a6d5"/><stop offset="0.6290" stop-color="#7979bf"/><stop offset="0.6329" stop-color="#5858b0"/><stop offset="0.6389" stop-color="#3838a0"/><stop offset="0.6448" stop-color="#242497"/><stop offset="0.6548" stop-color="#13138f"/><stop offset="0.6726" stop-color="#09098a"/><stop offset="0.6984" stop-color="#0a0a8a"/><stop offset="0.7103" stop-color="#14148f"/><stop offset="0.7163" stop-color="#212195"/><stop offset="0.7222" stop-color="#3939a1"/><stop offset="0.7262" stop-color="#5454ad"/><stop offset="0.7282" stop-color="#6666b6"/><stop offset="0.7302" stop-color="#7d7dc1"/><stop offset="0.7321" stop-color="#9a9acf"/><stop offset="0.7341" stop-color="#bdbde0"/><stop offset="0.7361" stop-color="#cecee8"/><stop offset="0.7381" stop-color="#afafd9"/><stop offset="0.7421" stop-color="#7f7fc2"/><stop offset="0.7460" stop-color="#5d5db2"/><stop offset="0.7520" stop-color="#3b3ba1"/><stop offset="0.7579" stop-color="#262698"/><stop offset="0.7679" stop-color="#14148f"/><stop offset="0.7857" stop-color="#09098a"/><stop offset="0.8155" stop-color="#0a0a8a"/><stop offset="0.8274" stop-color="#13138f"/><stop offset="0.8353" stop-color="#252597"/><stop offset="0.8393" stop-color="#35359f"/><stop offset="0.8433" stop-color="#4e4eab"/><stop offset="0.8452" stop-color="#6060b3"/><stop offset="0.8472" stop-color="#7575bd"/><stop offset="0.8492" stop-color="#9090ca"/><stop offset="0.8512" stop-color="#b1b1da"/><stop offset="0.8532" stop-color="#dadaed"/><stop offset="0.8552" stop-color="#b9b9de"/><stop offset="0.8571" stop-color="#9e9ed1"/><stop offset="0.8611" stop-color="#7373bc"/><stop offset="0.8651" stop-color="#5454ad"/><stop offset="0.8710" stop-color="#35359f"/><stop offset="0.8790" stop-color="#1e1e94"/><stop offset="0.8909" stop-color="#0f0f8d"/><stop offset="0.9127" stop-color="#080889"/><stop offset="0.9325" stop-color="#0c0c8b"/><stop offset="0.9425" stop-color="#171791"/><stop offset="0.9484" stop-color="#272798"/><stop offset="0.9524" stop-color="#3939a1"/><stop offset="0.9563" stop-color="#5454ad"/><stop offset="0.9583" stop-color="#6666b6"/><stop offset="0.9603" stop-color="#7d7dc1"/><stop offset="0.9623" stop-color="#9a9acf"/><stop offset="0.9643" stop-color="#bdbde0"/><stop offset="0.9663" stop-color="#cecee8"/><stop offset="0.9683" stop-color="#afafd9"/><stop offset="0.9722" stop-color="#7f7fc2"/><stop offset="0.9762" stop-color="#5d5db2"/><stop offset="0.9821" stop-color="#3b3ba1"/><stop offset="0.9881" stop-color="#262698"/><stop offset="0.9980" stop-color="#14148f"/><stop offset="1.0000" stop-color="#12128e"/></radialGradient>
<linearGradient id="cbE" gradientUnits="userSpaceOnUse" x1="0.00" y1="446.50" x2="0.00" y2="711.50"><stop offset="0.0000" stop-color="#ffffff"/><stop offset="1.0000" stop-color="#06068e"/></linearGradient>
<radialGradient id="gFr" gradientUnits="userSpaceOnUse" cx="1319.60" cy="176.30" r="189.47"><stop offset="0.0000" stop-color="#ffffff"/><stop offset="0.0359" stop-color="#fefefe"/><stop offset="0.0380" stop-color="#f8f1f1"/><stop offset="0.0401" stop-color="#eddada"/><stop offset="0.0433" stop-color="#d5a9a9"/><stop offset="0.0486" stop-color="#a95050"/><stop offset="0.0507" stop-color="#9b3232"/><stop offset="0.0528" stop-color="#901d1d"/><stop offset="0.0549" stop-color="#8c1414"/><stop offset="0.0570" stop-color="#8f1919"/><stop offset="0.0602" stop-color="#982d2d"/><stop offset="0.0612" stop-color="#9d3838"/><stop offset="0.0623" stop-color="#a84e4e"/><stop offset="0.0633" stop-color="#ba7272"/><stop offset="0.0654" stop-color="#e2c4c4"/><stop offset="0.0665" stop-color="#f3e7e7"/><stop offset="0.0676" stop-color="#fdfcfc"/><stop offset="0.0686" stop-color="#fefdfd"/><stop offset="0.0707" stop-color="#efdede"/><stop offset="0.0749" stop-color="#d8b0b0"/><stop offset="0.0802" stop-color="#c38585"/><stop offset="0.0866" stop-color="#b16060"/><stop offset="0.0950" stop-color="#a14040"/><stop offset="0.1056" stop-color="#962929"/><stop offset="0.1214" stop-color="#8e1919"/><stop offset="0.1351" stop-color="#8d1616"/><stop offset="0.1404" stop-color="#901d1d"/><stop offset="0.1436" stop-color="#972a2a"/><stop offset="0.1446" stop-color="#9b3232"/><stop offset="0.1457" stop-color="#a34343"/><stop offset="0.1467" stop-color="#b15f5f"/><stop offset="0.1499" stop-color="#e5c9c9"/><stop offset="0.1509" stop-color="#f1e2e2"/><stop offset="0.1520" stop-color="#f6ecec"/><stop offset="0.1531" stop-color="#f3e6e6"/><stop offset="0.1541" stop-color="#e8d1d1"/><stop offset="0.1562" stop-color="#ca9292"/><stop offset="0.1573" stop-color="#bc7676"/><stop offset="0.1583" stop-color="#b36464"/><stop offset="0.1594" stop-color="#b56868"/><stop offset="0.1604" stop-color="#c07f7f"/><stop offset="0.1636" stop-color="#f0e0e0"/><stop offset="0.1647" stop-color="#faf4f4"/><stop offset="0.1657" stop-color="#fbf7f7"/><stop offset="0.1668" stop-color="#f4e9e9"/><stop offset="0.1689" stop-color="#d7adad"/><stop offset="0.1721" stop-color="#c07e7e"/><stop offset="0.1752" stop-color="#b05d5d"/><stop offset="0.1794" stop-color="#a14040"/><stop offset="0.1847" stop-color="#972b2b"/><stop offset="0.1932" stop-color="#901c1c"/><stop offset="0.2101" stop-color="#8c1515"/><stop offset="0.2333" stop-color="#8e1919"/><stop offset="0.2396" stop-color="#942424"/><stop offset="0.2428" stop-color="#9c3434"/><stop offset="0.2438" stop-color="#a03d3d"/><stop offset="0.2449" stop-color="#aa5151"/><stop offset="0.2459" stop-color="#b86e6e"/><stop offset="0.2481" stop-color="#d8b0b0"/><stop offset="0.2491" stop-color="#e6cbcb"/><stop offset="0.2502" stop-color="#eddada"/><stop offset="0.2512" stop-color="#eddada"/><stop offset="0.2523" stop-color="#e6cccc"/><stop offset="0.2533" stop-color="#dcb7b7"/><stop offset="0.2565" stop-color="#cb9595"/><stop offset="0.2586" stop-color="#c48686"/><stop offset="0.2607" stop-color="#c28383"/><stop offset="0.2649" stop-color="#c88f8f"/><stop offset="0.2660" stop-color="#c78d8d"/><stop offset="0.2671" stop-color="#c48787"/><stop offset="0.2702" stop-color="#b16060"/><stop offset="0.2723" stop-color="#a54848"/><stop offset="0.2766" stop-color="#9c3636"/><stop offset="0.2839" stop-color="#952727"/><stop offset="0.2998" stop-color="#911e1e"/><stop offset="0.3272" stop-color="#911f1f"/><stop offset="0.3346" stop-color="#962929"/><stop offset="0.3399" stop-color="#a13f3f"/><stop offset="0.3452" stop-color="#b46565"/><stop offset="0.3515" stop-color="#cd9898"/><stop offset="0.3547" stop-color="#d4a7a7"/><stop offset="0.3578" stop-color="#d5a9a9"/><stop offset="0.3610" stop-color="#cf9d9d"/><stop offset="0.3663" stop-color="#bc7676"/><stop offset="0.3726" stop-color="#a44646"/><stop offset="0.3768" stop-color="#9a3232"/><stop offset="0.3832" stop-color="#942525"/><stop offset="0.4022" stop-color="#932222"/><stop offset="0.4317" stop-color="#962828"/><stop offset="0.4412" stop-color="#9c3535"/><stop offset="0.4486" stop-color="#a84d4d"/><stop offset="0.4644" stop-color="#cf9d9d"/><stop offset="0.4697" stop-color="#d6abab"/><stop offset="0.4729" stop-color="#d7adad"/><stop offset="0.4761" stop-color="#d2a3a3"/><stop offset="0.4803" stop-color="#c48686"/><stop offset="0.4866" stop-color="#ac5656"/><stop offset="0.4908" stop-color="#a13f3f"/><stop offset="0.4961" stop-color="#9a3030"/><stop offset="0.5056" stop-color="#972b2b"/><stop offset="0.5468" stop-color="#9a3030"/><stop offset="0.5573" stop-color="#a03d3d"/><stop offset="0.5658" stop-color="#ac5555"/><stop offset="0.5827" stop-color="#d1a0a0"/><stop offset="0.5879" stop-color="#d7aeae"/><stop offset="0.5922" stop-color="#d8b0b0"/><stop offset="0.5964" stop-color="#d1a2a2"/><stop offset="0.6080" stop-color="#ae5959"/><stop offset="0.6133" stop-color="#a34343"/><stop offset="0.6196" stop-color="#9d3737"/><stop offset="0.6365" stop-color="#9c3434"/><stop offset="0.6608" stop-color="#9e3a3a"/><stop offset="0.6703" stop-color="#a54747"/><stop offset="0.6787" stop-color="#b15f5f"/><stop offset="0.6946" stop-color="#d3a4a4"/><stop offset="0.6998" stop-color="#d9b2b2"/><stop offset="0.7041" stop-color="#dab3b3"/><stop offset="0.7083" stop-color="#d3a6a6"/><stop offset="0.7209" stop-color="#ae5b5b"/><stop offset="0.7262" stop-color="#a54848"/><stop offset="0.7336" stop-color="#a03e3e"/><stop offset="0.7674" stop-color="#a13f3f"/><stop offset="0.7811" stop-color="#a54747"/><stop offset="0.7896" stop-color="#ad5959"/><stop offset="0.7980" stop-color="#bd7878"/><stop offset="0.8096" stop-color="#d6aaaa"/><stop offset="0.8159" stop-color="#ddbaba"/><stop offset="0.8202" stop-color="#ddb9b9"/><stop offset="0.8244" stop-color="#d5aaaa"/><stop offset="0.8360" stop-color="#b36464"/><stop offset="0.8413" stop-color="#aa5151"/><stop offset="0.8487" stop-color="#a54747"/><stop offset="0.8814" stop-color="#a54747"/><stop offset="0.8962" stop-color="#a95050"/><stop offset="0.9046" stop-color="#b16060"/><stop offset="0.9130" stop-color="#c07e7e"/><stop offset="0.9257" stop-color="#dab4b4"/><stop offset="0.9310" stop-color="#e0c0c0"/><stop offset="0.9352" stop-color="#e0c0c0"/><stop offset="0.9394" stop-color="#d9b2b2"/><stop offset="0.9510" stop-color="#b86e6e"/><stop offset="0.9563" stop-color="#ae5b5b"/><stop offset="0.9637" stop-color="#a95050"/><stop offset="0.9943" stop-color="#a94f4f"/><stop offset="0.9996" stop-color="#a95050"/></radialGradient>
<radialGradient id="gFb" gradientUnits="userSpaceOnUse" cx="1319.60" cy="176.30" r="189.47"><stop offset="0.0000" stop-color="#ffffff"/><stop offset="0.0359" stop-color="#fefefe"/><stop offset="0.0380" stop-color="#f1f1f9"/><stop offset="0.0401" stop-color="#dadaee"/><stop offset="0.0433" stop-color="#aaaad8"/><stop offset="0.0486" stop-color="#5151b0"/><stop offset="0.0507" stop-color="#3333a2"/><stop offset="0.0528" stop-color="#1e1e99"/><stop offset="0.0549" stop-color="#151595"/><stop offset="0.0570" stop-color="#1b1b97"/><stop offset="0.0602" stop-color="#2e2ea0"/><stop offset="0.0612" stop-color="#3838a5"/><stop offset="0.0623" stop-color="#4f4faf"/><stop offset="0.0633" stop-color="#7272bf"/><stop offset="0.0654" stop-color="#c5c5e4"/><stop offset="0.0665" stop-color="#e7e7f4"/><stop offset="0.0676" stop-color="#fcfcfd"/><stop offset="0.0686" stop-color="#fdfdfe"/><stop offset="0.0707" stop-color="#dedef0"/><stop offset="0.0749" stop-color="#b1b1db"/><stop offset="0.0802" stop-color="#8585c8"/><stop offset="0.0866" stop-color="#6060b7"/><stop offset="0.0950" stop-color="#4040a8"/><stop offset="0.1056" stop-color="#29299e"/><stop offset="0.1214" stop-color="#191997"/><stop offset="0.1351" stop-color="#161695"/><stop offset="0.1404" stop-color="#1d1d98"/><stop offset="0.1436" stop-color="#2a2a9e"/><stop offset="0.1446" stop-color="#3232a2"/><stop offset="0.1457" stop-color="#4343aa"/><stop offset="0.1467" stop-color="#5f5fb6"/><stop offset="0.1499" stop-color="#c9c9e7"/><stop offset="0.1509" stop-color="#e2e2f2"/><stop offset="0.1520" stop-color="#ececf7"/><stop offset="0.1531" stop-color="#e6e6f4"/><stop offset="0.1541" stop-color="#d1d1ea"/><stop offset="0.1562" stop-color="#9292cd"/><stop offset="0.1573" stop-color="#7676c1"/><stop offset="0.1583" stop-color="#6464b9"/><stop offset="0.1594" stop-color="#6868ba"/><stop offset="0.1604" stop-color="#7f7fc5"/><stop offset="0.1636" stop-color="#e0e0f1"/><stop offset="0.1647" stop-color="#f4f4fa"/><stop offset="0.1657" stop-color="#f7f7fb"/><stop offset="0.1668" stop-color="#e9e9f5"/><stop offset="0.1689" stop-color="#adadda"/><stop offset="0.1721" stop-color="#7d7dc4"/><stop offset="0.1752" stop-color="#5c5cb5"/><stop offset="0.1794" stop-color="#4040a8"/><stop offset="0.1847" stop-color="#2b2b9f"/><stop offset="0.1932" stop-color="#1b1b98"/><stop offset="0.2101" stop-color="#141494"/><stop offset="0.2333" stop-color="#171796"/><stop offset="0.2396" stop-color="#23239b"/><stop offset="0.2428" stop-color="#3333a2"/><stop offset="0.2438" stop-color="#3c3ca6"/><stop offset="0.2449" stop-color="#4f4faf"/><stop offset="0.2459" stop-color="#6d6dbd"/><stop offset="0.2481" stop-color="#afafdb"/><stop offset="0.2491" stop-color="#cbcbe7"/><stop offset="0.2502" stop-color="#dadaee"/><stop offset="0.2512" stop-color="#dadaee"/><stop offset="0.2523" stop-color="#cbcbe7"/><stop offset="0.2533" stop-color="#b6b6de"/><stop offset="0.2565" stop-color="#9494ce"/><stop offset="0.2586" stop-color="#8585c8"/><stop offset="0.2607" stop-color="#8282c6"/><stop offset="0.2649" stop-color="#8e8ecc"/><stop offset="0.2660" stop-color="#8c8ccb"/><stop offset="0.2671" stop-color="#8686c8"/><stop offset="0.2692" stop-color="#6d6dbd"/><stop offset="0.2723" stop-color="#4747ab"/><stop offset="0.2766" stop-color="#3434a3"/><stop offset="0.2839" stop-color="#25259c"/><stop offset="0.2998" stop-color="#1c1c98"/><stop offset="0.3272" stop-color="#1c1c98"/><stop offset="0.3346" stop-color="#26269d"/><stop offset="0.3388" stop-color="#3737a4"/><stop offset="0.3441" stop-color="#5a5ab4"/><stop offset="0.3515" stop-color="#9797d0"/><stop offset="0.3547" stop-color="#a6a6d7"/><stop offset="0.3578" stop-color="#a8a8d7"/><stop offset="0.3610" stop-color="#9c9cd2"/><stop offset="0.3663" stop-color="#7474c0"/><stop offset="0.3716" stop-color="#4a4aad"/><stop offset="0.3758" stop-color="#3232a2"/><stop offset="0.3811" stop-color="#24249b"/><stop offset="0.3916" stop-color="#1e1e99"/><stop offset="0.4307" stop-color="#23239b"/><stop offset="0.4402" stop-color="#2e2ea0"/><stop offset="0.4476" stop-color="#4444aa"/><stop offset="0.4560" stop-color="#6e6ebd"/><stop offset="0.4644" stop-color="#9a9ad1"/><stop offset="0.4697" stop-color="#aaaad8"/><stop offset="0.4729" stop-color="#ababd9"/><stop offset="0.4761" stop-color="#a0a0d4"/><stop offset="0.4803" stop-color="#8383c7"/><stop offset="0.4866" stop-color="#5151b0"/><stop offset="0.4908" stop-color="#3a3aa6"/><stop offset="0.4961" stop-color="#2b2b9f"/><stop offset="0.5056" stop-color="#25259c"/><stop offset="0.5457" stop-color="#2a2a9e"/><stop offset="0.5563" stop-color="#3535a3"/><stop offset="0.5647" stop-color="#4b4bae"/><stop offset="0.5742" stop-color="#7676c1"/><stop offset="0.5827" stop-color="#9d9dd3"/><stop offset="0.5879" stop-color="#acacd9"/><stop offset="0.5922" stop-color="#adadda"/><stop offset="0.5953" stop-color="#a4a4d6"/><stop offset="0.6006" stop-color="#8585c7"/><stop offset="0.6080" stop-color="#5353b1"/><stop offset="0.6133" stop-color="#3d3da7"/><stop offset="0.6196" stop-color="#3030a1"/><stop offset="0.6354" stop-color="#2d2d9f"/><stop offset="0.6608" stop-color="#3232a2"/><stop offset="0.6703" stop-color="#3f3fa8"/><stop offset="0.6787" stop-color="#5959b4"/><stop offset="0.6946" stop-color="#a1a1d4"/><stop offset="0.6998" stop-color="#aeaeda"/><stop offset="0.7041" stop-color="#b0b0db"/><stop offset="0.7083" stop-color="#a2a2d5"/><stop offset="0.7199" stop-color="#5959b4"/><stop offset="0.7252" stop-color="#4343aa"/><stop offset="0.7315" stop-color="#3737a4"/><stop offset="0.7484" stop-color="#3333a3"/><stop offset="0.7758" stop-color="#3939a5"/><stop offset="0.7853" stop-color="#4545ab"/><stop offset="0.7938" stop-color="#5f5fb6"/><stop offset="0.8107" stop-color="#aaaad8"/><stop offset="0.8159" stop-color="#b6b6de"/><stop offset="0.8202" stop-color="#b5b5de"/><stop offset="0.8244" stop-color="#a5a5d6"/><stop offset="0.8360" stop-color="#5c5cb5"/><stop offset="0.8413" stop-color="#4848ac"/><stop offset="0.8487" stop-color="#3c3ca7"/><stop offset="0.8793" stop-color="#3c3ca6"/><stop offset="0.8951" stop-color="#4444aa"/><stop offset="0.9035" stop-color="#5353b1"/><stop offset="0.9120" stop-color="#7171bf"/><stop offset="0.9257" stop-color="#afafdb"/><stop offset="0.9310" stop-color="#bcbce1"/><stop offset="0.9352" stop-color="#bcbce1"/><stop offset="0.9394" stop-color="#adadda"/><stop offset="0.9510" stop-color="#6464b9"/><stop offset="0.9563" stop-color="#4f4faf"/><stop offset="0.9637" stop-color="#4444aa"/><stop offset="0.9912" stop-color="#4242a9"/><stop offset="0.9996" stop-color="#4444aa"/></radialGradient>
<linearGradient id="gFo" gradientUnits="userSpaceOnUse" x1="1187.00" y1="0.00" x2="1452.00" y2="0.00"><stop offset="0.0000" stop-color="#fff" stop-opacity="0.3"/><stop offset="0.0500" stop-color="#fff" stop-opacity="0.12"/><stop offset="0.1400" stop-color="#fff" stop-opacity="0.0"/><stop offset="0.4740" stop-color="#fff" stop-opacity="0.0"/><stop offset="0.4872" stop-color="#fff" stop-opacity="0.35"/><stop offset="0.4951" stop-color="#fff" stop-opacity="0.85"/><stop offset="0.4977" stop-color="#fff" stop-opacity="1.0"/><stop offset="0.5030" stop-color="#fff" stop-opacity="1.0"/><stop offset="0.5057" stop-color="#fff" stop-opacity="0.85"/><stop offset="0.5136" stop-color="#fff" stop-opacity="0.35"/><stop offset="0.5268" stop-color="#fff" stop-opacity="0.0"/><stop offset="0.9000" stop-color="#fff" stop-opacity="0.0"/><stop offset="1.0000" stop-color="#fff" stop-opacity="0.14"/></linearGradient>
<linearGradient id="cbF" gradientUnits="userSpaceOnUse" x1="0.00" y1="43.80" x2="0.00" y2="308.20"><stop offset="0.0000" stop-color="#840404"/><stop offset="0.5000" stop-color="#ffffff"/><stop offset="1.0000" stop-color="#06068e"/></linearGradient>
<radialGradient id="gGb" gradientUnits="userSpaceOnUse" cx="1319.60" cy="579.00" r="189.83"><stop offset="0.0000" stop-color="#ffffff"/><stop offset="0.0358" stop-color="#fefeff"/><stop offset="0.0390" stop-color="#f3f3fa"/><stop offset="0.0432" stop-color="#d3d3ed"/><stop offset="0.0495" stop-color="#9d9dd7"/><stop offset="0.0527" stop-color="#8a8ad0"/><stop offset="0.0558" stop-color="#8585cd"/><stop offset="0.0601" stop-color="#8e8ed1"/><stop offset="0.0611" stop-color="#9696d4"/><stop offset="0.0622" stop-color="#a4a4da"/><stop offset="0.0643" stop-color="#cacae9"/><stop offset="0.0664" stop-color="#f1f1f9"/><stop offset="0.0674" stop-color="#fcfcfe"/><stop offset="0.0685" stop-color="#ffffff"/><stop offset="0.0727" stop-color="#e3e3f4"/><stop offset="0.0801" stop-color="#c3c3e7"/><stop offset="0.0896" stop-color="#aaaadd"/><stop offset="0.1032" stop-color="#9999d6"/><stop offset="0.1264" stop-color="#9191d3"/><stop offset="0.1401" stop-color="#9494d4"/><stop offset="0.1443" stop-color="#9d9dd7"/><stop offset="0.1464" stop-color="#b1b1df"/><stop offset="0.1496" stop-color="#e1e1f3"/><stop offset="0.1507" stop-color="#ededf8"/><stop offset="0.1517" stop-color="#f4f4fa"/><stop offset="0.1528" stop-color="#f3f3fa"/><stop offset="0.1538" stop-color="#ebebf7"/><stop offset="0.1570" stop-color="#c1c1e6"/><stop offset="0.1580" stop-color="#b9b9e3"/><stop offset="0.1591" stop-color="#b8b8e2"/><stop offset="0.1601" stop-color="#bfbfe5"/><stop offset="0.1633" stop-color="#ebebf7"/><stop offset="0.1644" stop-color="#f6f6fb"/><stop offset="0.1654" stop-color="#fafafd"/><stop offset="0.1665" stop-color="#f5f5fb"/><stop offset="0.1675" stop-color="#eaeaf7"/><stop offset="0.1686" stop-color="#dadaf0"/><stop offset="0.1728" stop-color="#bfbfe5"/><stop offset="0.1781" stop-color="#ababdd"/><stop offset="0.1865" stop-color="#9c9cd7"/><stop offset="0.2044" stop-color="#9494d4"/><stop offset="0.2307" stop-color="#9696d5"/><stop offset="0.2360" stop-color="#a1a1d9"/><stop offset="0.2402" stop-color="#b5b5e2"/><stop offset="0.2476" stop-color="#e7e7f6"/><stop offset="0.2507" stop-color="#efeff9"/><stop offset="0.2539" stop-color="#e9e9f6"/><stop offset="0.2592" stop-color="#cccceb"/><stop offset="0.2655" stop-color="#aaaadd"/><stop offset="0.2708" stop-color="#9b9bd7"/><stop offset="0.2813" stop-color="#9595d5"/><stop offset="0.3298" stop-color="#9999d6"/><stop offset="0.3371" stop-color="#a3a3db"/><stop offset="0.3435" stop-color="#b9b9e3"/><stop offset="0.3519" stop-color="#e1e1f3"/><stop offset="0.3561" stop-color="#eaeaf7"/><stop offset="0.3603" stop-color="#e5e5f5"/><stop offset="0.3666" stop-color="#c9c9ea"/><stop offset="0.3740" stop-color="#a9a9dd"/><stop offset="0.3803" stop-color="#9d9dd8"/><stop offset="0.3961" stop-color="#9898d7"/><stop offset="0.4425" stop-color="#9c9cd8"/><stop offset="0.4509" stop-color="#a6a6dd"/><stop offset="0.4583" stop-color="#bdbde6"/><stop offset="0.4678" stop-color="#e1e1f3"/><stop offset="0.4720" stop-color="#e6e6f5"/><stop offset="0.4762" stop-color="#dfdff3"/><stop offset="0.4889" stop-color="#adaddf"/><stop offset="0.4962" stop-color="#9f9fda"/><stop offset="0.5173" stop-color="#9c9cd9"/><stop offset="0.5594" stop-color="#a0a0db"/><stop offset="0.5689" stop-color="#acacdf"/><stop offset="0.5795" stop-color="#cbcbeb"/><stop offset="0.5868" stop-color="#e0e0f3"/><stop offset="0.5921" stop-color="#e3e3f4"/><stop offset="0.5974" stop-color="#d6d6f0"/><stop offset="0.6079" stop-color="#aeaee0"/><stop offset="0.6153" stop-color="#a2a2dc"/><stop offset="0.6416" stop-color="#9f9fdb"/><stop offset="0.6722" stop-color="#a3a3dd"/><stop offset="0.6817" stop-color="#b0b0e2"/><stop offset="0.6985" stop-color="#e1e1f4"/><stop offset="0.7038" stop-color="#e4e4f5"/><stop offset="0.7090" stop-color="#d9d9f1"/><stop offset="0.7196" stop-color="#b2b2e2"/><stop offset="0.7270" stop-color="#a5a5de"/><stop offset="0.7522" stop-color="#a3a3dd"/><stop offset="0.7870" stop-color="#a6a6df"/><stop offset="0.7965" stop-color="#b2b2e3"/><stop offset="0.8133" stop-color="#e1e1f4"/><stop offset="0.8186" stop-color="#e6e6f6"/><stop offset="0.8239" stop-color="#dcdcf2"/><stop offset="0.8355" stop-color="#b3b3e3"/><stop offset="0.8428" stop-color="#a8a8e0"/><stop offset="0.8829" stop-color="#a6a6df"/><stop offset="0.9040" stop-color="#aaaae0"/><stop offset="0.9134" stop-color="#b7b7e5"/><stop offset="0.9292" stop-color="#e2e2f5"/><stop offset="0.9345" stop-color="#e6e6f6"/><stop offset="0.9398" stop-color="#dbdbf2"/><stop offset="0.9503" stop-color="#b5b5e4"/><stop offset="0.9577" stop-color="#a9a9e0"/><stop offset="0.9851" stop-color="#a6a6df"/><stop offset="0.9998" stop-color="#a6a6df"/></radialGradient>
<radialGradient id="gGr" gradientUnits="userSpaceOnUse" cx="1319.60" cy="579.00" r="189.83"><stop offset="0.0000" stop-color="#800202"/><stop offset="0.4762" stop-color="#810404"/><stop offset="0.4836" stop-color="#850d0d"/><stop offset="0.4867" stop-color="#8b1919"/><stop offset="0.4889" stop-color="#932828"/><stop offset="0.4910" stop-color="#9f4040"/><stop offset="0.4920" stop-color="#a85252"/><stop offset="0.4931" stop-color="#b46969"/><stop offset="0.4941" stop-color="#c28686"/><stop offset="0.4952" stop-color="#d5acac"/><stop offset="0.4962" stop-color="#eddcdc"/><stop offset="0.4973" stop-color="#efe0e0"/><stop offset="0.5015" stop-color="#d5abab"/><stop offset="0.5068" stop-color="#bd7b7b"/><stop offset="0.5120" stop-color="#ac5959"/><stop offset="0.5194" stop-color="#9b3838"/><stop offset="0.5289" stop-color="#8f2020"/><stop offset="0.5426" stop-color="#860e0e"/><stop offset="0.5679" stop-color="#810505"/><stop offset="0.5900" stop-color="#820606"/><stop offset="0.5963" stop-color="#870f0f"/><stop offset="0.5995" stop-color="#8e1e1e"/><stop offset="0.6016" stop-color="#973030"/><stop offset="0.6037" stop-color="#a64e4e"/><stop offset="0.6047" stop-color="#b16464"/><stop offset="0.6058" stop-color="#bf8080"/><stop offset="0.6069" stop-color="#d1a3a3"/><stop offset="0.6079" stop-color="#e8d1d1"/><stop offset="0.6090" stop-color="#f1e3e3"/><stop offset="0.6132" stop-color="#d6aeae"/><stop offset="0.6184" stop-color="#be7d7d"/><stop offset="0.6237" stop-color="#ac5a5a"/><stop offset="0.6311" stop-color="#9c3939"/><stop offset="0.6406" stop-color="#8f2020"/><stop offset="0.6543" stop-color="#860f0f"/><stop offset="0.6795" stop-color="#810505"/><stop offset="0.6985" stop-color="#820606"/><stop offset="0.7048" stop-color="#871010"/><stop offset="0.7080" stop-color="#8f1f1f"/><stop offset="0.7101" stop-color="#983232"/><stop offset="0.7122" stop-color="#a75050"/><stop offset="0.7133" stop-color="#b36767"/><stop offset="0.7143" stop-color="#c18383"/><stop offset="0.7154" stop-color="#d3a8a8"/><stop offset="0.7164" stop-color="#ebd8d8"/><stop offset="0.7175" stop-color="#f0e1e1"/><stop offset="0.7217" stop-color="#d6acac"/><stop offset="0.7270" stop-color="#bd7c7c"/><stop offset="0.7322" stop-color="#ac5959"/><stop offset="0.7396" stop-color="#9b3939"/><stop offset="0.7491" stop-color="#8f2020"/><stop offset="0.7617" stop-color="#871010"/><stop offset="0.7817" stop-color="#840a0a"/><stop offset="0.8081" stop-color="#881313"/><stop offset="0.8155" stop-color="#8e1e1e"/><stop offset="0.8197" stop-color="#972f2f"/><stop offset="0.8218" stop-color="#9f4141"/><stop offset="0.8239" stop-color="#ad5c5c"/><stop offset="0.8249" stop-color="#b77070"/><stop offset="0.8260" stop-color="#c48989"/><stop offset="0.8270" stop-color="#d4a9a9"/><stop offset="0.8281" stop-color="#e8d2d2"/><stop offset="0.8292" stop-color="#f3e6e6"/><stop offset="0.8334" stop-color="#dbb7b7"/><stop offset="0.8386" stop-color="#c68d8d"/><stop offset="0.8450" stop-color="#b56c6c"/><stop offset="0.8523" stop-color="#aa5555"/><stop offset="0.8629" stop-color="#a24646"/><stop offset="0.8787" stop-color="#a04242"/><stop offset="0.9198" stop-color="#a95454"/><stop offset="0.9303" stop-color="#af5f5f"/><stop offset="0.9345" stop-color="#b56b6b"/><stop offset="0.9377" stop-color="#be7d7d"/><stop offset="0.9398" stop-color="#c99393"/><stop offset="0.9408" stop-color="#d1a3a3"/><stop offset="0.9419" stop-color="#dbb7b7"/><stop offset="0.9429" stop-color="#e7d0d0"/><stop offset="0.9440" stop-color="#f7f0f0"/><stop offset="0.9503" stop-color="#e1c3c3"/><stop offset="0.9566" stop-color="#d2a5a5"/><stop offset="0.9651" stop-color="#c58c8c"/><stop offset="0.9777" stop-color="#bd7b7b"/><stop offset="0.9998" stop-color="#b77070"/></radialGradient>
<filter id="blG"><feGaussianBlur stdDeviation="0.8"/></filter>
<filter id="blG2"><feGaussianBlur stdDeviation="1.8"/></filter>
<filter id="blG3"><feGaussianBlur stdDeviation="0.9 0.5"/></filter>
<linearGradient id="cbG" gradientUnits="userSpaceOnUse" x1="0.00" y1="446.40" x2="0.00" y2="710.20"><stop offset="0.0000" stop-color="#840404"/><stop offset="0.3430" stop-color="#ffffff"/><stop offset="1.0000" stop-color="#06068e"/></linearGradient>
<filter id="blA" x="-10%" y="-10%" width="120%" height="120%"><feGaussianBlur stdDeviation="2.6"/></filter>
<filter id="blA2" x="-10%" y="-10%" width="120%" height="120%"><feGaussianBlur stdDeviation="0.7"/></filter>
<linearGradient id="gCone" gradientUnits="userSpaceOnUse" x1="160.00" y1="0.00" x2="536.00" y2="0.00"><stop offset="0.0000" stop-color="#ce484a"/><stop offset="0.3000" stop-color="#da4a4a"/><stop offset="0.5600" stop-color="#e06250"/><stop offset="0.7500" stop-color="#da4a4a"/><stop offset="1.0000" stop-color="#d64a4c"/></linearGradient>
<linearGradient id="gBase" gradientUnits="userSpaceOnUse" x1="160.00" y1="0.00" x2="536.00" y2="0.00"><stop offset="0.0000" stop-color="#ec6c6c"/><stop offset="0.2000" stop-color="#fa6868"/><stop offset="0.4500" stop-color="#fd706a"/><stop offset="0.6200" stop-color="#ff8270"/><stop offset="0.8000" stop-color="#fc6a68"/><stop offset="1.0000" stop-color="#fa6868"/></linearGradient>
<linearGradient id="gFront" gradientUnits="userSpaceOnUse" x1="0.00" y1="0.00" x2="503.00" y2="0.00"><stop offset="0.0000" stop-color="#686868"/><stop offset="0.5000" stop-color="#727272"/><stop offset="1.0000" stop-color="#707070"/></linearGradient>
<clipPath id="cA"><path d="M3.30 502.90L501.70 540.60L672.30 373.30L247.50 354.70Z"/></clipPath>
<linearGradient id="gFade" gradientUnits="userSpaceOnUse" x1="247.50" y1="354.20" x2="247.10" y2="363.20"><stop offset="0.0000" stop-color="#fff" stop-opacity="1.0"/><stop offset="0.3000" stop-color="#fff" stop-opacity="0.85"/><stop offset="1.0000" stop-color="#fff" stop-opacity="0.0"/></linearGradient></defs><rect width="1993" height="788" fill="#fff"/><rect x="83.50" y="50.30" width="196.70" height="195.70" fill="url(#gB)"/>
<path d="M83.50 50.30V246.00H280.20" fill="none" stroke="#bbb" stroke-width="0.8"/>
<text x="83.50" y="269.70" font-size="15.90" text-anchor="middle" font-family="Liberation Sans, Arial, sans-serif" fill="#000" >-2</text>
<text x="77.50" y="251.72" font-size="15.90" text-anchor="end" font-family="Liberation Sans, Arial, sans-serif" fill="#000" >-2</text>
<text x="132.68" y="269.70" font-size="15.90" text-anchor="middle" font-family="Liberation Sans, Arial, sans-serif" fill="#000" >-1</text>
<text x="77.50" y="202.80" font-size="15.90" text-anchor="end" font-family="Liberation Sans, Arial, sans-serif" fill="#000" >-1</text>
<text x="181.85" y="269.70" font-size="15.90" text-anchor="middle" font-family="Liberation Sans, Arial, sans-serif" fill="#000" >0</text>
<text x="77.50" y="153.87" font-size="15.90" text-anchor="end" font-family="Liberation Sans, Arial, sans-serif" fill="#000" >0</text>
<text x="231.02" y="269.70" font-size="15.90" text-anchor="middle" font-family="Liberation Sans, Arial, sans-serif" fill="#000" >1</text>
<text x="77.50" y="104.95" font-size="15.90" text-anchor="end" font-family="Liberation Sans, Arial, sans-serif" fill="#000" >1</text>
<text x="280.20" y="269.70" font-size="15.90" text-anchor="middle" font-family="Liberation Sans, Arial, sans-serif" fill="#000" >2</text>
<text x="77.50" y="56.02" font-size="15.90" text-anchor="end" font-family="Liberation Sans, Arial, sans-serif" fill="#000" >2</text>
<text x="181.85" y="295.80" font-size="21.70" text-anchor="middle" font-family="Liberation Sans, Arial, sans-serif" fill="#000">x (<tspan font-family="Liberation Serif, serif" font-style="italic" font-size="22.13">μ</tspan>m)</text>
<text transform="translate(52.30 148.15) rotate(-90)" font-size="21.70" text-anchor="middle" font-family="Liberation Sans, Arial, sans-serif" fill="#000">y (<tspan font-family="Liberation Serif, serif" font-style="italic" font-size="22.13">μ</tspan>m)</text>
<text x="181.85" y="36.10" font-size="20.50" text-anchor="middle" fill="#000" letter-spacing="1.84" font-family="Liberation Serif, Times New Roman, serif"><tspan font-style="italic" font-size="22.14">γ</tspan><tspan font-family="Liberation Sans, Arial, sans-serif" font-style="italic" font-size="17.22" dy="9.84">s</tspan></text>
<g><path d="M248.00 83.90L218.20 83.90A29.80 29.80 0 0 0 218.34 86.74Z" fill="#000094"/><path d="M248.00 83.90L218.26 85.85A29.80 29.80 0 0 0 218.58 88.67Z" fill="#00009d"/><path d="M248.00 83.90L218.45 87.79A29.80 29.80 0 0 0 218.96 90.59Z" fill="#0000a6"/><path d="M248.00 83.90L218.77 89.71A29.80 29.80 0 0 0 219.46 92.47Z" fill="#0000b0"/><path d="M248.00 83.90L219.22 91.61A29.80 29.80 0 0 0 220.08 94.32Z" fill="#0000b9"/><path d="M248.00 83.90L219.78 93.48A29.80 29.80 0 0 0 220.82 96.12Z" fill="#0000c2"/><path d="M248.00 83.90L220.47 95.30A29.80 29.80 0 0 0 221.68 97.88Z" fill="#0000cc"/><path d="M248.00 83.90L221.27 97.08A29.80 29.80 0 0 0 222.65 99.57Z" fill="#0000d5"/><path d="M248.00 83.90L222.19 98.80A29.80 29.80 0 0 0 223.73 101.19Z" fill="#0000de"/><path d="M248.00 83.90L223.22 100.46A29.80 29.80 0 0 0 224.91 102.74Z" fill="#0000e8"/><path d="M248.00 83.90L224.36 102.04A29.80 29.80 0 0 0 226.19 104.21Z" fill="#0000f1"/><path d="M248.00 83.90L225.60 103.55A29.80 29.80 0 0 0 227.57 105.59Z" fill="#0000fa"/><path d="M248.00 83.90L226.93 104.97A29.80 29.80 0 0 0 229.03 106.88Z" fill="#0005ff"/><path d="M248.00 83.90L228.35 106.30A29.80 29.80 0 0 0 230.58 108.08Z" fill="#0010ff"/><path d="M248.00 83.90L229.86 107.54A29.80 29.80 0 0 0 232.19 109.16Z" fill="#001bff"/><path d="M248.00 83.90L231.44 108.68A29.80 29.80 0 0 0 233.88 110.14Z" fill="#0025ff"/><path d="M248.00 83.90L233.10 109.71A29.80 29.80 0 0 0 235.63 111.01Z" fill="#0030ff"/><path d="M248.00 83.90L234.82 110.63A29.80 29.80 0 0 0 237.43 111.76Z" fill="#003aff"/><path d="M248.00 83.90L236.60 111.43A29.80 29.80 0 0 0 239.27 112.39Z" fill="#0045ff"/><path d="M248.00 83.90L238.42 112.12A29.80 29.80 0 0 0 241.15 112.90Z" fill="#0050ff"/><path d="M248.00 83.90L240.29 112.68A29.80 29.80 0 0 0 243.07 113.29Z" fill="#005aff"/><path d="M248.00 83.90L242.19 113.13A29.80 29.80 0 0 0 245.00 113.55Z" fill="#0065ff"/><path d="M248.00 83.90L244.11 113.45A29.80 29.80 0 0 0 246.94 113.68Z" fill="#0070ff"/><path d="M248.00 83.90L246.05 113.64A29.80 29.80 0 0 0 248.89 113.69Z" fill="#007aff"/><path d="M248.00 83.90L248.00 113.70A29.80 29.80 0 0 0 250.84 113.56Z" fill="#0085ff"/><path d="M248.00 83.90L249.95 113.64A29.80 29.80 0 0 0 252.77 113.32Z" fill="#008fff"/><path d="M248.00 83.90L251.89 113.45A29.80 29.80 0 0 0 254.69 112.94Z" fill="#009aff"/><path d="M248.00 83.90L253.81 113.13A29.80 29.80 0 0 0 256.57 112.44Z" fill="#00a5ff"/><path d="M248.00 83.90L255.71 112.68A29.80 29.80 0 0 0 258.42 111.82Z" fill="#00afff"/><path d="M248.00 83.90L257.58 112.12A29.80 29.80 0 0 0 260.22 111.08Z" fill="#00baff"/><path d="M248.00 83.90L259.40 111.43A29.80 29.80 0 0 0 261.98 110.22Z" fill="#00c5ff"/><path d="M248.00 83.90L261.18 110.63A29.80 29.80 0 0 0 263.67 109.25Z" fill="#00cfff"/><path d="M248.00 83.90L262.90 109.71A29.80 29.80 0 0 0 265.29 108.17Z" fill="#00daff"/><path d="M248.00 83.90L264.56 108.68A29.80 29.80 0 0 0 266.84 106.99Z" fill="#00e4ff"/><path d="M248.00 83.90L266.14 107.54A29.80 29.80 0 0 0 268.31 105.71Z" fill="#00efff"/><path d="M248.00 83.90L267.65 106.30A29.80 29.80 0 0 0 269.69 104.33Z" fill="#00faff"/><path d="M248.00 83.90L269.07 104.97A29.80 29.80 0 0 0 270.98 102.87Z" fill="#05fffa"/><path d="M248.00 83.90L270.40 103.55A29.80 29.80 0 0 0 272.18 101.32Z" fill="#10ffef"/><path d="M248.00 83.90L271.64 102.04A29.80 29.80 0 0 0 273.26 99.71Z" fill="#1bffe4"/><path d="M248.00 83.90L272.78 100.46A29.80 29.80 0 0 0 274.24 98.02Z" fill="#25ffda"/><path d="M248.00 83.90L273.81 98.80A29.80 29.80 0 0 0 275.11 96.27Z" fill="#30ffcf"/><path d="M248.00 83.90L274.73 97.08A29.80 29.80 0 0 0 275.86 94.47Z" fill="#3affc5"/><path d="M248.00 83.90L275.53 95.30A29.80 29.80 0 0 0 276.49 92.63Z" fill="#45ffba"/><path d="M248.00 83.90L276.22 93.48A29.80 29.80 0 0 0 277.00 90.75Z" fill="#50ffaf"/><path d="M248.00 83.90L276.78 91.61A29.80 29.80 0 0 0 277.39 88.83Z" fill="#5affa5"/><path d="M248.00 83.90L277.23 89.71A29.80 29.80 0 0 0 277.65 86.90Z" fill="#65ff9a"/><path d="M248.00 83.90L277.55 87.79A29.80 29.80 0 0 0 277.78 84.96Z" fill="#70ff8f"/><path d="M248.00 83.90L277.74 85.85A29.80 29.80 0 0 0 277.79 83.01Z" fill="#7aff85"/><path d="M248.00 83.90L277.80 83.90A29.80 29.80 0 0 0 277.66 81.06Z" fill="#85ff7a"/><path d="M248.00 83.90L277.74 81.95A29.80 29.80 0 0 0 277.42 79.13Z" fill="#8fff70"/><path d="M248.00 83.90L277.55 80.01A29.80 29.80 0 0 0 277.04 77.21Z" fill="#9aff65"/><path d="M248.00 83.90L277.23 78.09A29.80 29.80 0 0 0 276.54 75.33Z" fill="#a5ff5a"/><path d="M248.00 83.90L276.78 76.19A29.80 29.80 0 0 0 275.92 73.48Z" fill="#afff50"/><path d="M248.00 83.90L276.22 74.32A29.80 29.80 0 0 0 275.18 71.68Z" fill="#baff45"/><path d="M248.00 83.90L275.53 72.50A29.80 29.80 0 0 0 274.32 69.92Z" fill="#c5ff3a"/><path d="M248.00 83.90L274.73 70.72A29.80 29.80 0 0 0 273.35 68.23Z" fill="#cfff30"/><path d="M248.00 83.90L273.81 69.00A29.80 29.80 0 0 0 272.27 66.61Z" fill="#daff25"/><path d="M248.00 83.90L272.78 67.34A29.80 29.80 0 0 0 271.09 65.06Z" fill="#e4ff1b"/><path d="M248.00 83.90L271.64 65.76A29.80 29.80 0 0 0 269.81 63.59Z" fill="#efff10"/><path d="M248.00 83.90L270.40 64.25A29.80 29.80 0 0 0 268.43 62.21Z" fill="#faff05"/><path d="M248.00 83.90L269.07 62.83A29.80 29.80 0 0 0 266.97 60.92Z" fill="#fffa00"/><path d="M248.00 83.90L267.65 61.50A29.80 29.80 0 0 0 265.42 59.72Z" fill="#ffef00"/><path d="M248.00 83.90L266.14 60.26A29.80 29.80 0 0 0 263.81 58.64Z" fill="#ffe400"/><path d="M248.00 83.90L264.56 59.12A29.80 29.80 0 0 0 262.12 57.66Z" fill="#ffda00"/><path d="M248.00 83.90L262.90 58.09A29.80 29.80 0 0 0 260.37 56.79Z" fill="#ffcf00"/><path d="M248.00 83.90L261.18 57.17A29.80 29.80 0 0 0 258.57 56.04Z" fill="#ffc500"/><path d="M248.00 83.90L259.40 56.37A29.80 29.80 0 0 0 256.73 55.41Z" fill="#ffba00"/><path d="M248.00 83.90L257.58 55.68A29.80 29.80 0 0 0 254.85 54.90Z" fill="#ffaf00"/><path d="M248.00 83.90L255.71 55.12A29.80 29.80 0 0 0 252.93 54.51Z" fill="#ffa500"/><path d="M248.00 83.90L253.81 54.67A29.80 29.80 0 0 0 251.00 54.25Z" fill="#ff9a00"/><path d="M248.00 83.90L251.89 54.35A29.80 29.80 0 0 0 249.06 54.12Z" fill="#ff8f00"/><path d="M248.00 83.90L249.95 54.16A29.80 29.80 0 0 0 247.11 54.11Z" fill="#ff8500"/><path d="M248.00 83.90L248.00 54.10A29.80 29.80 0 0 0 245.16 54.24Z" fill="#ff7a00"/><path d="M248.00 83.90L246.05 54.16A29.80 29.80 0 0 0 243.23 54.48Z" fill="#ff7000"/><path d="M248.00 83.90L244.11 54.35A29.80 29.80 0 0 0 241.31 54.86Z" fill="#ff6500"/><path d="M248.00 83.90L242.19 54.67A29.80 29.80 0 0 0 239.43 55.36Z" fill="#ff5a00"/><path d="M248.00 83.90L240.29 55.12A29.80 29.80 0 0 0 237.58 55.98Z" fill="#ff5000"/><path d="M248.00 83.90L238.42 55.68A29.80 29.80 0 0 0 235.78 56.72Z" fill="#ff4500"/><path d="M248.00 83.90L236.60 56.37A29.80 29.80 0 0 0 234.02 57.58Z" fill="#ff3a00"/><path d="M248.00 83.90L234.82 57.17A29.80 29.80 0 0 0 232.33 58.55Z" fill="#ff3000"/><path d="M248.00 83.90L233.10 58.09A29.80 29.80 0 0 0 230.71 59.63Z" fill="#ff2500"/><path d="M248.00 83.90L231.44 59.12A29.80 29.80 0 0 0 229.16 60.81Z" fill="#ff1b00"/><path d="M248.00 83.90L229.86 60.26A29.80 29.80 0 0 0 227.69 62.09Z" fill="#ff1000"/><path d="M248.00 83.90L228.35 61.50A29.80 29.80 0 0 0 226.31 63.47Z" fill="#ff0500"/><path d="M248.00 83.90L226.93 62.83A29.80 29.80 0 0 0 225.02 64.93Z" fill="#fa0000"/><path d="M248.00 83.90L225.60 64.25A29.80 29.80 0 0 0 223.82 66.48Z" fill="#ef0000"/><path d="M248.00 83.90L224.36 65.76A29.80 29.80 0 0 0 222.74 68.09Z" fill="#e50000"/><path d="M248.00 83.90L223.22 67.34A29.80 29.80 0 0 0 221.76 69.78Z" fill="#da0000"/><path d="M248.00 83.90L222.19 69.00A29.80 29.80 0 0 0 220.89 71.53Z" fill="#cf0000"/><path d="M248.00 83.90L221.27 70.72A29.80 29.80 0 0 0 220.14 73.33Z" fill="#c50000"/><path d="M248.00 83.90L220.47 72.50A29.80 29.80 0 0 0 219.51 75.17Z" fill="#ba0000"/><path d="M248.00 83.90L219.78 74.32A29.80 29.80 0 0 0 219.00 77.05Z" fill="#b00000"/><path d="M248.00 83.90L219.22 76.19A29.80 29.80 0 0 0 218.61 78.97Z" fill="#a50000"/><path d="M248.00 83.90L218.77 78.09A29.80 29.80 0 0 0 218.35 80.90Z" fill="#9a0000"/><path d="M248.00 83.90L218.45 80.01A29.80 29.80 0 0 0 218.22 82.84Z" fill="#900000"/><path d="M248.00 83.90L218.26 81.95A29.80 29.80 0 0 0 218.20 83.90Z" fill="#850000"/></g>
<text x="33.20" y="52.60" font-size="39.00" text-anchor="start" font-family="Liberation Sans, Arial, sans-serif" fill="#000" >B</text>
<text y="148.3" font-size="39.5" font-family="Liberation Serif, Times New Roman, serif" fill="#000"><tspan x="227.6" font-style="italic">l</tspan><tspan x="237.6">=</tspan><tspan x="258.6">1</tspan></text>
<rect x="292.30" y="50.30" width="14.70" height="195.70" fill="url(#cbB)"/>
<rect x="292.30" y="50.30" width="14.70" height="195.70" fill="none" stroke="#666" stroke-width="0.6"/>
<path d="M307.00 50.30h-2.5" stroke="#333" stroke-width="0.7"/>
<text x="311.50" y="55.95" font-size="15.70" text-anchor="start" font-family="Liberation Sans, Arial, sans-serif" fill="#000" >1</text>
<path d="M307.00 99.22h-2.5" stroke="#333" stroke-width="0.7"/>
<text x="311.50" y="104.88" font-size="15.70" text-anchor="start" font-family="Liberation Sans, Arial, sans-serif" fill="#000" >0.5</text>
<path d="M307.00 148.15h-2.5" stroke="#333" stroke-width="0.7"/>
<text x="311.50" y="153.80" font-size="15.70" text-anchor="start" font-family="Liberation Sans, Arial, sans-serif" fill="#000" >0</text>
<path d="M307.00 197.07h-2.5" stroke="#333" stroke-width="0.7"/>
<text x="311.50" y="202.73" font-size="15.70" text-anchor="start" font-family="Liberation Sans, Arial, sans-serif" fill="#000" >-0.5</text>
<path d="M307.00 246.00h-2.5" stroke="#333" stroke-width="0.7"/>
<text x="311.50" y="251.65" font-size="15.70" text-anchor="start" font-family="Liberation Sans, Arial, sans-serif" fill="#000" >-1</text>
<rect x="405.30" y="50.30" width="197.20" height="195.70" fill="url(#gC)"/>
<path d="M405.30 50.30V246.00H602.50" fill="none" stroke="#bbb" stroke-width="0.8"/>
<text x="405.30" y="269.70" font-size="15.90" text-anchor="middle" font-family="Liberation Sans, Arial, sans-serif" fill="#000" >-2</text>
<text x="399.30" y="251.72" font-size="15.90" text-anchor="end" font-family="Liberation Sans, Arial, sans-serif" fill="#000" >-2</text>
<text x="454.60" y="269.70" font-size="15.90" text-anchor="middle" font-family="Liberation Sans, Arial, sans-serif" fill="#000" >-1</text>
<text x="399.30" y="202.80" font-size="15.90" text-anchor="end" font-family="Liberation Sans, Arial, sans-serif" fill="#000" >-1</text>
<text x="503.90" y="269.70" font-size="15.90" text-anchor="middle" font-family="Liberation Sans, Arial, sans-serif" fill="#000" >0</text>
<text x="399.30" y="153.87" font-size="15.90" text-anchor="end" font-family="Liberation Sans, Arial, sans-serif" fill="#000" >0</text>
<text x="553.20" y="269.70" font-size="15.90" text-anchor="middle" font-family="Liberation Sans, Arial, sans-serif" fill="#000" >1</text>
<text x="399.30" y="104.95" font-size="15.90" text-anchor="end" font-family="Liberation Sans, Arial, sans-serif" fill="#000" >1</text>
<text x="602.50" y="269.70" font-size="15.90" text-anchor="middle" font-family="Liberation Sans, Arial, sans-serif" fill="#000" >2</text>
<text x="399.30" y="56.02" font-size="15.90" text-anchor="end" font-family="Liberation Sans, Arial, sans-serif" fill="#000" >2</text>
<text x="503.90" y="295.80" font-size="21.70" text-anchor="middle" font-family="Liberation Sans, Arial, sans-serif" fill="#000">x (<tspan font-family="Liberation Serif, serif" font-style="italic" font-size="22.13">μ</tspan>m)</text>
<text transform="translate(374.10 148.15) rotate(-90)" font-size="21.70" text-anchor="middle" font-family="Liberation Sans, Arial, sans-serif" fill="#000">y (<tspan font-family="Liberation Serif, serif" font-style="italic" font-size="22.13">μ</tspan>m)</text>
<text x="503.90" y="36.10" font-size="20.50" text-anchor="middle" fill="#000" letter-spacing="1.84" font-family="Liberation Serif, Times New Roman, serif"><tspan font-style="italic" font-size="22.14">γ</tspan><tspan font-family="Liberation Sans, Arial, sans-serif" font-style="italic" font-size="17.22" dy="9.84">s</tspan></text>
<g><path d="M570.20 83.60L540.40 83.60A29.80 29.80 0 0 1 540.54 80.76Z" fill="#000094"/><path d="M570.20 83.60L540.46 81.65A29.80 29.80 0 0 1 540.78 78.83Z" fill="#00009d"/><path d="M570.20 83.60L540.65 79.71A29.80 29.80 0 0 1 541.16 76.91Z" fill="#0000a6"/><path d="M570.20 83.60L540.97 77.79A29.80 29.80 0 0 1 541.66 75.03Z" fill="#0000b0"/><path d="M570.20 83.60L541.42 75.89A29.80 29.80 0 0 1 542.28 73.18Z" fill="#0000b9"/><path d="M570.20 83.60L541.98 74.02A29.80 29.80 0 0 1 543.02 71.38Z" fill="#0000c2"/><path d="M570.20 83.60L542.67 72.20A29.80 29.80 0 0 1 543.88 69.62Z" fill="#0000cc"/><path d="M570.20 83.60L543.47 70.42A29.80 29.80 0 0 1 544.85 67.93Z" fill="#0000d5"/><path d="M570.20 83.60L544.39 68.70A29.80 29.80 0 0 1 545.93 66.31Z" fill="#0000de"/><path d="M570.20 83.60L545.42 67.04A29.80 29.80 0 0 1 547.11 64.76Z" fill="#0000e8"/><path d="M570.20 83.60L546.56 65.46A29.80 29.80 0 0 1 548.39 63.29Z" fill="#0000f1"/><path d="M570.20 83.60L547.80 63.95A29.80 29.80 0 0 1 549.77 61.91Z" fill="#0000fa"/><path d="M570.20 83.60L549.13 62.53A29.80 29.80 0 0 1 551.23 60.62Z" fill="#0005ff"/><path d="M570.20 83.60L550.55 61.20A29.80 29.80 0 0 1 552.78 59.42Z" fill="#0010ff"/><path d="M570.20 83.60L552.06 59.96A29.80 29.80 0 0 1 554.39 58.34Z" fill="#001bff"/><path d="M570.20 83.60L553.64 58.82A29.80 29.80 0 0 1 556.08 57.36Z" fill="#0025ff"/><path d="M570.20 83.60L555.30 57.79A29.80 29.80 0 0 1 557.83 56.49Z" fill="#0030ff"/><path d="M570.20 83.60L557.02 56.87A29.80 29.80 0 0 1 559.63 55.74Z" fill="#003aff"/><path d="M570.20 83.60L558.80 56.07A29.80 29.80 0 0 1 561.47 55.11Z" fill="#0045ff"/><path d="M570.20 83.60L560.62 55.38A29.80 29.80 0 0 1 563.35 54.60Z" fill="#0050ff"/><path d="M570.20 83.60L562.49 54.82A29.80 29.80 0 0 1 565.27 54.21Z" fill="#005aff"/><path d="M570.20 83.60L564.39 54.37A29.80 29.80 0 0 1 567.20 53.95Z" fill="#0065ff"/><path d="M570.20 83.60L566.31 54.05A29.80 29.80 0 0 1 569.14 53.82Z" fill="#0070ff"/><path d="M570.20 83.60L568.25 53.86A29.80 29.80 0 0 1 571.09 53.81Z" fill="#007aff"/><path d="M570.20 83.60L570.20 53.80A29.80 29.80 0 0 1 573.04 53.94Z" fill="#0085ff"/><path d="M570.20 83.60L572.15 53.86A29.80 29.80 0 0 1 574.97 54.18Z" fill="#008fff"/><path d="M570.20 83.60L574.09 54.05A29.80 29.80 0 0 1 576.89 54.56Z" fill="#009aff"/><path d="M570.20 83.60L576.01 54.37A29.80 29.80 0 0 1 578.77 55.06Z" fill="#00a5ff"/><path d="M570.20 83.60L577.91 54.82A29.80 29.80 0 0 1 580.62 55.68Z" fill="#00afff"/><path d="M570.20 83.60L579.78 55.38A29.80 29.80 0 0 1 582.42 56.42Z" fill="#00baff"/><path d="M570.20 83.60L581.60 56.07A29.80 29.80 0 0 1 584.18 57.28Z" fill="#00c5ff"/><path d="M570.20 83.60L583.38 56.87A29.80 29.80 0 0 1 585.87 58.25Z" fill="#00cfff"/><path d="M570.20 83.60L585.10 57.79A29.80 29.80 0 0 1 587.49 59.33Z" fill="#00daff"/><path d="M570.20 83.60L586.76 58.82A29.80 29.80 0 0 1 589.04 60.51Z" fill="#00e4ff"/><path d="M570.20 83.60L588.34 59.96A29.80 29.80 0 0 1 590.51 61.79Z" fill="#00efff"/><path d="M570.20 83.60L589.85 61.20A29.80 29.80 0 0 1 591.89 63.17Z" fill="#00faff"/><path d="M570.20 83.60L591.27 62.53A29.80 29.80 0 0 1 593.18 64.63Z" fill="#05fffa"/><path d="M570.20 83.60L592.60 63.95A29.80 29.80 0 0 1 594.38 66.18Z" fill="#10ffef"/><path d="M570.20 83.60L593.84 65.46A29.80 29.80 0 0 1 595.46 67.79Z" fill="#1bffe4"/><path d="M570.20 83.60L594.98 67.04A29.80 29.80 0 0 1 596.44 69.48Z" fill="#25ffda"/><path d="M570.20 83.60L596.01 68.70A29.80 29.80 0 0 1 597.31 71.23Z" fill="#30ffcf"/><path d="M570.20 83.60L596.93 70.42A29.80 29.80 0 0 1 598.06 73.03Z" fill="#3affc5"/><path d="M570.20 83.60L597.73 72.20A29.80 29.80 0 0 1 598.69 74.87Z" fill="#45ffba"/><path d="M570.20 83.60L598.42 74.02A29.80 29.80 0 0 1 599.20 76.75Z" fill="#50ffaf"/><path d="M570.20 83.60L598.98 75.89A29.80 29.80 0 0 1 599.59 78.67Z" fill="#5affa5"/><path d="M570.20 83.60L599.43 77.79A29.80 29.80 0 0 1 599.85 80.60Z" fill="#65ff9a"/><path d="M570.20 83.60L599.75 79.71A29.80 29.80 0 0 1 599.98 82.54Z" fill="#70ff8f"/><path d="M570.20 83.60L599.94 81.65A29.80 29.80 0 0 1 599.99 84.49Z" fill="#7aff85"/><path d="M570.20 83.60L600.00 83.60A29.80 29.80 0 0 1 599.86 86.44Z" fill="#85ff7a"/><path d="M570.20 83.60L599.94 85.55A29.80 29.80 0 0 1 599.62 88.37Z" fill="#8fff70"/><path d="M570.20 83.60L599.75 87.49A29.80 29.80 0 0 1 599.24 90.29Z" fill="#9aff65"/><path d="M570.20 83.60L599.43 89.41A29.80 29.80 0 0 1 598.74 92.17Z" fill="#a5ff5a"/><path d="M570.20 83.60L598.98 91.31A29.80 29.80 0 0 1 598.12 94.02Z" fill="#afff50"/><path d="M570.20 83.60L598.42 93.18A29.80 29.80 0 0 1 597.38 95.82Z" fill="#baff45"/><path d="M570.20 83.60L597.73 95.00A29.80 29.80 0 0 1 596.52 97.58Z" fill="#c5ff3a"/><path d="M570.20 83.60L596.93 96.78A29.80 29.80 0 0 1 595.55 99.27Z" fill="#cfff30"/><path d="M570.20 83.60L596.01 98.50A29.80 29.80 0 0 1 594.47 100.89Z" fill="#daff25"/><path d="M570.20 83.60L594.98 100.16A29.80 29.80 0 0 1 593.29 102.44Z" fill="#e4ff1b"/><path d="M570.20 83.60L593.84 101.74A29.80 29.80 0 0 1 592.01 103.91Z" fill="#efff10"/><path d="M570.20 83.60L592.60 103.25A29.80 29.80 0 0 1 590.63 105.29Z" fill="#faff05"/><path d="M570.20 83.60L591.27 104.67A29.80 29.80 0 0 1 589.17 106.58Z" fill="#fffa00"/><path d="M570.20 83.60L589.85 106.00A29.80 29.80 0 0 1 587.62 107.78Z" fill="#ffef00"/><path d="M570.20 83.60L588.34 107.24A29.80 29.80 0 0 1 586.01 108.86Z" fill="#ffe400"/><path d="M570.20 83.60L586.76 108.38A29.80 29.80 0 0 1 584.32 109.84Z" fill="#ffda00"/><path d="M570.20 83.60L585.10 109.41A29.80 29.80 0 0 1 582.57 110.71Z" fill="#ffcf00"/><path d="M570.20 83.60L583.38 110.33A29.80 29.80 0 0 1 580.77 111.46Z" fill="#ffc500"/><path d="M570.20 83.60L581.60 111.13A29.80 29.80 0 0 1 578.93 112.09Z" fill="#ffba00"/><path d="M570.20 83.60L579.78 111.82A29.80 29.80 0 0 1 577.05 112.60Z" fill="#ffaf00"/><path d="M570.20 83.60L577.91 112.38A29.80 29.80 0 0 1 575.13 112.99Z" fill="#ffa500"/><path d="M570.20 83.60L576.01 112.83A29.80 29.80 0 0 1 573.20 113.25Z" fill="#ff9a00"/><path d="M570.20 83.60L574.09 113.15A29.80 29.80 0 0 1 571.26 113.38Z" fill="#ff8f00"/><path d="M570.20 83.60L572.15 113.34A29.80 29.80 0 0 1 569.31 113.39Z" fill="#ff8500"/><path d="M570.20 83.60L570.20 113.40A29.80 29.80 0 0 1 567.36 113.26Z" fill="#ff7a00"/><path d="M570.20 83.60L568.25 113.34A29.80 29.80 0 0 1 565.43 113.02Z" fill="#ff7000"/><path d="M570.20 83.60L566.31 113.15A29.80 29.80 0 0 1 563.51 112.64Z" fill="#ff6500"/><path d="M570.20 83.60L564.39 112.83A29.80 29.80 0 0 1 561.63 112.14Z" fill="#ff5a00"/><path d="M570.20 83.60L562.49 112.38A29.80 29.80 0 0 1 559.78 111.52Z" fill="#ff5000"/><path d="M570.20 83.60L560.62 111.82A29.80 29.80 0 0 1 557.98 110.78Z" fill="#ff4500"/><path d="M570.20 83.60L558.80 111.13A29.80 29.80 0 0 1 556.22 109.92Z" fill="#ff3a00"/><path d="M570.20 83.60L557.02 110.33A29.80 29.80 0 0 1 554.53 108.95Z" fill="#ff3000"/><path d="M570.20 83.60L555.30 109.41A29.80 29.80 0 0 1 552.91 107.87Z" fill="#ff2500"/><path d="M570.20 83.60L553.64 108.38A29.80 29.80 0 0 1 551.36 106.69Z" fill="#ff1b00"/><path d="M570.20 83.60L552.06 107.24A29.80 29.80 0 0 1 549.89 105.41Z" fill="#ff1000"/><path d="M570.20 83.60L550.55 106.00A29.80 29.80 0 0 1 548.51 104.03Z" fill="#ff0500"/><path d="M570.20 83.60L549.13 104.67A29.80 29.80 0 0 1 547.22 102.57Z" fill="#fa0000"/><path d="M570.20 83.60L547.80 103.25A29.80 29.80 0 0 1 546.02 101.02Z" fill="#ef0000"/><path d="M570.20 83.60L546.56 101.74A29.80 29.80 0 0 1 544.94 99.41Z" fill="#e50000"/><path d="M570.20 83.60L545.42 100.16A29.80 29.80 0 0 1 543.96 97.72Z" fill="#da0000"/><path d="M570.20 83.60L544.39 98.50A29.80 29.80 0 0 1 543.09 95.97Z" fill="#cf0000"/><path d="M570.20 83.60L543.47 96.78A29.80 29.80 0 0 1 542.34 94.17Z" fill="#c50000"/><path d="M570.20 83.60L542.67 95.00A29.80 29.80 0 0 1 541.71 92.33Z" fill="#ba0000"/><path d="M570.20 83.60L541.98 93.18A29.80 29.80 0 0 1 541.20 90.45Z" fill="#b00000"/><path d="M570.20 83.60L541.42 91.31A29.80 29.80 0 0 1 540.81 88.53Z" fill="#a50000"/><path d="M570.20 83.60L540.97 89.41A29.80 29.80 0 0 1 540.55 86.60Z" fill="#9a0000"/><path d="M570.20 83.60L540.65 87.49A29.80 29.80 0 0 1 540.42 84.66Z" fill="#900000"/><path d="M570.20 83.60L540.46 85.55A29.80 29.80 0 0 1 540.40 83.60Z" fill="#850000"/></g>
<text x="352.40" y="52.60" font-size="39.00" text-anchor="start" font-family="Liberation Sans, Arial, sans-serif" fill="#000" >C</text>
<text y="148.7" font-size="39.5" font-family="Liberation Serif, Times New Roman, serif" fill="#000"><tspan x="537.6" font-style="italic">l</tspan><tspan x="547.4">=</tspan><tspan x="568.8">−</tspan><tspan x="591.2">1</tspan></text>
<rect x="614.30" y="50.30" width="15.00" height="195.70" fill="url(#cbC)"/>
<rect x="614.30" y="50.30" width="15.00" height="195.70" fill="none" stroke="#666" stroke-width="0.6"/>
<path d="M629.30 50.30h-2.5" stroke="#333" stroke-width="0.7"/>
<text x="633.80" y="55.95" font-size="15.70" text-anchor="start" font-family="Liberation Sans, Arial, sans-serif" fill="#000" >1</text>
<path d="M629.30 99.22h-2.5" stroke="#333" stroke-width="0.7"/>
<text x="633.80" y="104.88" font-size="15.70" text-anchor="start" font-family="Liberation Sans, Arial, sans-serif" fill="#000" >0.5</text>
<path d="M629.30 148.15h-2.5" stroke="#333" stroke-width="0.7"/>
<text x="633.80" y="153.80" font-size="15.70" text-anchor="start" font-family="Liberation Sans, Arial, sans-serif" fill="#000" >0</text>
<path d="M629.30 197.07h-2.5" stroke="#333" stroke-width="0.7"/>
<text x="633.80" y="202.73" font-size="15.70" text-anchor="start" font-family="Liberation Sans, Arial, sans-serif" fill="#000" >-0.5</text>
<path d="M629.30 246.00h-2.5" stroke="#333" stroke-width="0.7"/>
<text x="633.80" y="251.65" font-size="15.70" text-anchor="start" font-family="Liberation Sans, Arial, sans-serif" fill="#000" >-1</text>
<rect x="752.00" y="44.50" width="266.50" height="265.30" fill="url(#gD)"/>
<rect x="751.70" y="205.40" width="105.00" height="105.00" fill="url(#giD)"/>
<text x="752.00" y="342.60" font-size="22.80" text-anchor="middle" font-family="Liberation Sans, Arial, sans-serif" fill="#000" >-2</text>
<text x="743.00" y="318.01" font-size="22.80" text-anchor="end" font-family="Liberation Sans, Arial, sans-serif" fill="#000" >-2</text>
<text x="818.62" y="342.60" font-size="22.80" text-anchor="middle" font-family="Liberation Sans, Arial, sans-serif" fill="#000" >-1</text>
<text x="743.00" y="251.68" font-size="22.80" text-anchor="end" font-family="Liberation Sans, Arial, sans-serif" fill="#000" >-1</text>
<text x="885.25" y="342.60" font-size="22.80" text-anchor="middle" font-family="Liberation Sans, Arial, sans-serif" fill="#000" >0</text>
<text x="743.00" y="185.36" font-size="22.80" text-anchor="end" font-family="Liberation Sans, Arial, sans-serif" fill="#000" >0</text>
<text x="951.88" y="342.60" font-size="22.80" text-anchor="middle" font-family="Liberation Sans, Arial, sans-serif" fill="#000" >1</text>
<text x="743.00" y="119.03" font-size="22.80" text-anchor="end" font-family="Liberation Sans, Arial, sans-serif" fill="#000" >1</text>
<text x="1018.50" y="342.60" font-size="22.80" text-anchor="middle" font-family="Liberation Sans, Arial, sans-serif" fill="#000" >2</text>
<text x="743.00" y="52.71" font-size="22.80" text-anchor="end" font-family="Liberation Sans, Arial, sans-serif" fill="#000" >2</text>
<text x="885.25" y="378.40" font-size="28.70" text-anchor="middle" font-family="Liberation Sans, Arial, sans-serif" fill="#000">x (<tspan font-family="Liberation Serif, serif" font-style="italic" font-size="29.27">μ</tspan>m)</text>
<text transform="translate(715.00 177.15) rotate(-90)" font-size="28.70" text-anchor="middle" font-family="Liberation Sans, Arial, sans-serif" fill="#000">y (<tspan font-family="Liberation Serif, serif" font-style="italic" font-size="29.27">μ</tspan>m)</text>
<text x="885.75" y="24.00" font-size="27.50" text-anchor="middle" fill="#000" letter-spacing="2.48" font-family="Liberation Serif, Times New Roman, serif"><tspan font-family="Liberation Sans, Arial, sans-serif" font-size="29.15">Δ</tspan><tspan font-style="italic" font-size="29.70">γ</tspan><tspan font-family="Liberation Sans, Arial, sans-serif" font-style="italic" font-size="23.10" dy="13.20">s</tspan></text>
<text x="687.50" y="52.70" font-size="39.00" text-anchor="start" font-family="Liberation Sans, Arial, sans-serif" fill="#000" >D</text>
<rect x="1034.30" y="44.50" width="20.00" height="265.30" fill="url(#cbD)"/>
<rect x="1034.30" y="44.50" width="20.00" height="265.30" fill="none" stroke="#666" stroke-width="0.6"/>
<path d="M1054.30 65.50h-2.5" stroke="#333" stroke-width="0.7"/>
<text x="1061.30" y="73.53" font-size="22.30" text-anchor="start" font-family="Liberation Sans, Arial, sans-serif" fill="#000" >0.15</text>
<path d="M1054.30 146.60h-2.5" stroke="#333" stroke-width="0.7"/>
<text x="1061.30" y="154.63" font-size="22.30" text-anchor="start" font-family="Liberation Sans, Arial, sans-serif" fill="#000" >0.1</text>
<path d="M1054.30 227.70h-2.5" stroke="#333" stroke-width="0.7"/>
<text x="1061.30" y="235.73" font-size="22.30" text-anchor="start" font-family="Liberation Sans, Arial, sans-serif" fill="#000" >0.05</text>
<path d="M1054.30 309.50h-2.5" stroke="#333" stroke-width="0.7"/>
<text x="1061.30" y="317.53" font-size="22.30" text-anchor="start" font-family="Liberation Sans, Arial, sans-serif" fill="#000" >0</text>
<rect x="931.60" y="44.60" width="86.70" height="87.50" fill="#aaaaaa" fill-opacity="0.74" stroke="#000" stroke-width="2.60"/>
<circle cx="973.70" cy="87.30" r="13.70" fill="none" stroke="#ff0000" stroke-width="2.50"/><circle cx="973.70" cy="87.30" r="5.60" fill="#ff0000"/>
<rect x="753.00" y="446.50" width="266.00" height="265.00" fill="url(#gE)"/>
<rect x="752.70" y="607.10" width="105.00" height="105.00" fill="url(#giE)"/>
<text x="753.00" y="744.30" font-size="22.80" text-anchor="middle" font-family="Liberation Sans, Arial, sans-serif" fill="#000" >-2</text>
<text x="744.00" y="719.71" font-size="22.80" text-anchor="end" font-family="Liberation Sans, Arial, sans-serif" fill="#000" >-2</text>
<text x="819.50" y="744.30" font-size="22.80" text-anchor="middle" font-family="Liberation Sans, Arial, sans-serif" fill="#000" >-1</text>
<text x="744.00" y="653.46" font-size="22.80" text-anchor="end" font-family="Liberation Sans, Arial, sans-serif" fill="#000" >-1</text>
<text x="886.00" y="744.30" font-size="22.80" text-anchor="middle" font-family="Liberation Sans, Arial, sans-serif" fill="#000" >0</text>
<text x="744.00" y="587.21" font-size="22.80" text-anchor="end" font-family="Liberation Sans, Arial, sans-serif" fill="#000" >0</text>
<text x="952.50" y="744.30" font-size="22.80" text-anchor="middle" font-family="Liberation Sans, Arial, sans-serif" fill="#000" >1</text>
<text x="744.00" y="520.96" font-size="22.80" text-anchor="end" font-family="Liberation Sans, Arial, sans-serif" fill="#000" >1</text>
<text x="1019.00" y="744.30" font-size="22.80" text-anchor="middle" font-family="Liberation Sans, Arial, sans-serif" fill="#000" >2</text>
<text x="744.00" y="454.71" font-size="22.80" text-anchor="end" font-family="Liberation Sans, Arial, sans-serif" fill="#000" >2</text>
<text x="886.00" y="780.10" font-size="28.70" text-anchor="middle" font-family="Liberation Sans, Arial, sans-serif" fill="#000">x (<tspan font-family="Liberation Serif, serif" font-style="italic" font-size="29.27">μ</tspan>m)</text>
<text transform="translate(716.00 579.00) rotate(-90)" font-size="28.70" text-anchor="middle" font-family="Liberation Sans, Arial, sans-serif" fill="#000">y (<tspan font-family="Liberation Serif, serif" font-style="italic" font-size="29.27">μ</tspan>m)</text>
<text x="886.50" y="426.00" font-size="27.50" text-anchor="middle" fill="#000" letter-spacing="2.48" font-family="Liberation Serif, Times New Roman, serif"><tspan font-family="Liberation Sans, Arial, sans-serif" font-size="29.15">Δ</tspan><tspan font-style="italic" font-size="29.70">γ</tspan><tspan font-family="Liberation Sans, Arial, sans-serif" font-style="italic" font-size="23.10" dy="13.20">s</tspan></text>
<text x="687.70" y="452.70" font-size="39.00" text-anchor="start" font-family="Liberation Sans, Arial, sans-serif" fill="#000" >E</text>
<rect x="1035.00" y="446.50" width="20.20" height="265.00" fill="url(#cbE)"/>
<rect x="1035.00" y="446.50" width="20.20" height="265.00" fill="none" stroke="#666" stroke-width="0.6"/>
<path d="M1055.20 447.50h-2.5" stroke="#333" stroke-width="0.7"/>
<text x="1062.20" y="455.53" font-size="22.30" text-anchor="start" font-family="Liberation Sans, Arial, sans-serif" fill="#000" >0</text>
<path d="M1055.20 529.00h-2.5" stroke="#333" stroke-width="0.7"/>
<text x="1062.20" y="537.03" font-size="22.30" text-anchor="start" font-family="Liberation Sans, Arial, sans-serif" fill="#000" >-0.05</text>
<path d="M1055.20 610.60h-2.5" stroke="#333" stroke-width="0.7"/>
<text x="1062.20" y="618.63" font-size="22.30" text-anchor="start" font-family="Liberation Sans, Arial, sans-serif" fill="#000" >-0.1</text>
<path d="M1055.20 692.20h-2.5" stroke="#333" stroke-width="0.7"/>
<text x="1062.20" y="700.23" font-size="22.30" text-anchor="start" font-family="Liberation Sans, Arial, sans-serif" fill="#000" >-0.15</text>
<rect x="932.60" y="446.80" width="86.10" height="85.90" fill="#aaaaaa" fill-opacity="0.74" stroke="#000" stroke-width="2.60"/>
<circle cx="975.50" cy="489.60" r="13.60" fill="none" stroke="#1f77c4" stroke-width="2.70"/><path d="M965.88 479.98L985.12 499.22M965.88 499.22L985.12 479.98" stroke="#1f77c4" stroke-width="2.70"/>
<rect x="1187.00" y="44.00" width="132.60" height="264.80" fill="url(#gFr)"/>
<rect x="1319.60" y="44.00" width="132.40" height="264.80" fill="url(#gFb)"/>
<rect x="1187.00" y="44.00" width="265.00" height="264.80" fill="url(#gFo)"/>
<path d="M1187.4 138.8H1452.00" stroke="#1cc552" stroke-width="2.6" stroke-dasharray="11.8 9"/>
<text x="1187.00" y="342.40" font-size="22.80" text-anchor="middle" font-family="Liberation Sans, Arial, sans-serif" fill="#000" >-2</text>
<text x="1178.00" y="317.01" font-size="22.80" text-anchor="end" font-family="Liberation Sans, Arial, sans-serif" fill="#000" >-2</text>
<text x="1253.25" y="342.40" font-size="22.80" text-anchor="middle" font-family="Liberation Sans, Arial, sans-serif" fill="#000" >-1</text>
<text x="1178.00" y="250.81" font-size="22.80" text-anchor="end" font-family="Liberation Sans, Arial, sans-serif" fill="#000" >-1</text>
<text x="1319.50" y="342.40" font-size="22.80" text-anchor="middle" font-family="Liberation Sans, Arial, sans-serif" fill="#000" >0</text>
<text x="1178.00" y="184.61" font-size="22.80" text-anchor="end" font-family="Liberation Sans, Arial, sans-serif" fill="#000" >0</text>
<text x="1385.75" y="342.40" font-size="22.80" text-anchor="middle" font-family="Liberation Sans, Arial, sans-serif" fill="#000" >1</text>
<text x="1178.00" y="118.41" font-size="22.80" text-anchor="end" font-family="Liberation Sans, Arial, sans-serif" fill="#000" >1</text>
<text x="1452.00" y="342.40" font-size="22.80" text-anchor="middle" font-family="Liberation Sans, Arial, sans-serif" fill="#000" >2</text>
<text x="1178.00" y="52.21" font-size="22.80" text-anchor="end" font-family="Liberation Sans, Arial, sans-serif" fill="#000" >2</text>
<text x="1319.50" y="378.20" font-size="28.70" text-anchor="middle" font-family="Liberation Sans, Arial, sans-serif" fill="#000">x (<tspan font-family="Liberation Serif, serif" font-style="italic" font-size="29.27">μ</tspan>m)</text>
<text transform="translate(1150.00 176.40) rotate(-90)" font-size="28.70" text-anchor="middle" font-family="Liberation Sans, Arial, sans-serif" fill="#000">y (<tspan font-family="Liberation Serif, serif" font-style="italic" font-size="29.27">μ</tspan>m)</text>
<text x="1319.60" y="24.00" font-size="27.50" text-anchor="middle" fill="#000" letter-spacing="2.48" font-family="Liberation Serif, Times New Roman, serif"><tspan font-family="Liberation Sans, Arial, sans-serif" font-size="29.15">Δ</tspan><tspan font-style="italic" font-size="29.70">γ</tspan><tspan font-family="Liberation Sans, Arial, sans-serif" font-style="italic" font-size="23.10" dy="13.20">s</tspan></text>
<text x="1127.70" y="52.70" font-size="39.00" text-anchor="start" font-family="Liberation Sans, Arial, sans-serif" fill="#000" >F</text>
<rect x="1468.50" y="43.80" width="20.10" height="264.40" fill="url(#cbF)"/>
<rect x="1468.50" y="43.80" width="20.10" height="264.40" fill="none" stroke="#666" stroke-width="0.6"/>
<path d="M1488.60 103.60h-2.5" stroke="#333" stroke-width="0.7"/>
<text x="1495.50" y="111.63" font-size="22.30" text-anchor="start" font-family="Liberation Sans, Arial, sans-serif" fill="#000" >0.1</text>
<path d="M1488.60 176.20h-2.5" stroke="#333" stroke-width="0.7"/>
<text x="1495.50" y="184.23" font-size="22.30" text-anchor="start" font-family="Liberation Sans, Arial, sans-serif" fill="#000" >0</text>
<path d="M1488.60 248.40h-2.5" stroke="#333" stroke-width="0.7"/>
<text x="1495.50" y="256.43" font-size="22.30" text-anchor="start" font-family="Liberation Sans, Arial, sans-serif" fill="#000" >-0.1</text>
<rect x="1370.50" y="44.00" width="81.80" height="80.30" fill="#aaaaaa" fill-opacity="0.74" stroke="#000" stroke-width="2.80"/>
<path d="M1411.40 42.60V125.70" stroke="#000" stroke-width="2.80"/>
<circle cx="1391.70" cy="83.90" r="9.80" fill="none" stroke="#ff0000" stroke-width="3.10"/><circle cx="1391.70" cy="83.90" r="4.10" fill="#ff0000"/>
<circle cx="1430.40" cy="83.90" r="9.80" fill="none" stroke="#1f77c4" stroke-width="3.00"/><path d="M1423.47 76.97L1437.33 90.83M1423.47 90.83L1437.33 76.97" stroke="#1f77c4" stroke-width="3.00"/>
<rect x="1186.50" y="446.50" width="265.50" height="265.00" fill="url(#gGb)"/>
<path d="M1248.04 529.00L1249.61 531.00L1250.93 533.00L1251.97 535.00L1252.70 537.00L1253.02 539.00L1252.68 541.00L1252.36 543.00L1252.05 545.00L1251.76 547.00L1251.49 549.00L1251.24 551.00L1251.00 553.00L1250.78 555.00L1250.58 557.00L1250.40 559.00L1250.23 561.00L1250.08 563.00L1249.95 565.00L1249.84 567.00L1249.74 569.00L1249.66 571.00L1249.60 573.00L1249.56 575.00L1249.53 577.00L1249.52 579.00L1249.53 581.00L1249.56 583.00L1249.60 585.00L1249.66 587.00L1249.74 589.00L1249.84 591.00L1249.95 593.00L1250.08 595.00L1250.23 597.00L1250.40 599.00L1250.58 601.00L1250.78 603.00L1251.00 605.00L1251.24 607.00L1251.49 609.00L1251.76 611.00L1252.05 613.00L1252.36 615.00L1252.68 617.00L1253.02 619.00L1252.70 621.00L1251.97 623.00L1250.93 625.00L1249.61 627.00L1248.04 629.00L1248.54 629.00L1251.01 627.00L1253.20 625.00L1255.07 623.00L1256.59 621.00L1257.66 619.00L1258.04 617.00L1258.40 615.00L1258.74 613.00L1259.05 611.00L1259.35 609.00L1259.63 607.00L1259.89 605.00L1260.14 603.00L1260.36 601.00L1260.56 599.00L1260.74 597.00L1260.91 595.00L1261.05 593.00L1261.18 591.00L1261.28 589.00L1261.37 587.00L1261.44 585.00L1261.49 583.00L1261.52 581.00L1261.52 579.00L1261.52 577.00L1261.49 575.00L1261.44 573.00L1261.37 571.00L1261.28 569.00L1261.18 567.00L1261.05 565.00L1260.91 563.00L1260.74 561.00L1260.56 559.00L1260.36 557.00L1260.14 555.00L1259.89 553.00L1259.63 551.00L1259.35 549.00L1259.05 547.00L1258.74 545.00L1258.40 543.00L1258.04 541.00L1257.66 539.00L1256.59 537.00L1255.07 535.00L1253.20 533.00L1251.01 531.00L1248.54 529.00 Z" fill="#5a5ab8" fill-opacity="0.55" filter="url(#blG2)"/>
<path d="M1253.02 539.00L1252.68 541.00L1252.36 543.00L1252.05 545.00L1251.76 547.00L1251.49 549.00L1251.24 551.00L1251.00 553.00L1250.78 555.00L1250.58 557.00L1250.40 559.00L1250.23 561.00L1250.08 563.00L1249.95 565.00L1249.84 567.00L1249.74 569.00L1249.66 571.00L1249.60 573.00L1249.56 575.00L1249.53 577.00L1249.52 579.00L1249.53 581.00L1249.56 583.00L1249.60 585.00L1249.66 587.00L1249.74 589.00L1249.84 591.00L1249.95 593.00L1250.08 595.00L1250.23 597.00L1250.40 599.00L1250.58 601.00L1250.78 603.00L1251.00 605.00L1251.24 607.00L1251.49 609.00L1251.76 611.00L1252.05 613.00L1252.36 615.00L1252.68 617.00L1253.02 619.00L1253.52 619.00L1253.50 617.00L1253.57 615.00L1253.67 613.00L1253.79 611.00L1253.92 609.00L1254.06 607.00L1254.19 605.00L1254.33 603.00L1254.46 601.00L1254.58 599.00L1254.70 597.00L1254.80 595.00L1254.90 593.00L1254.98 591.00L1255.06 589.00L1255.12 587.00L1255.16 585.00L1255.20 583.00L1255.22 581.00L1255.22 579.00L1255.22 577.00L1255.20 575.00L1255.16 573.00L1255.12 571.00L1255.06 569.00L1254.98 567.00L1254.90 565.00L1254.80 563.00L1254.70 561.00L1254.58 559.00L1254.46 557.00L1254.33 555.00L1254.19 553.00L1254.06 551.00L1253.92 549.00L1253.79 547.00L1253.67 545.00L1253.57 543.00L1253.50 541.00L1253.52 539.00 Z" fill="#0a0a94" filter="url(#blG3)"/>
<path d="M1257.12 446.50L1257.12 447.50L1257.12 448.50L1257.12 449.50L1257.12 450.50L1257.12 451.50L1257.12 452.50L1257.12 453.50L1257.00 454.50L1256.75 455.50L1256.40 456.50L1255.97 457.50L1255.45 458.50L1254.85 459.50L1254.18 460.50L1253.44 461.50L1252.63 462.50L1251.76 463.50L1250.82 464.50L1249.83 465.50L1248.77 466.50L1248.84 467.50L1250.01 468.50L1251.10 469.50L1252.10 470.50L1253.01 471.50L1253.83 472.50L1254.55 473.50L1255.17 474.50L1255.67 475.50L1256.05 476.50L1256.28 477.50L1256.30 478.50L1256.16 479.50L1255.94 480.50L1255.64 481.50L1255.28 482.50L1254.85 483.50L1254.37 484.50L1253.83 485.50L1253.24 486.50L1252.60 487.50L1251.91 488.50L1251.17 489.50L1250.38 490.50L1249.55 491.50L1248.68 492.50L1248.73 493.50L1249.71 494.50L1250.62 495.50L1251.46 496.50L1252.24 497.50L1252.95 498.50L1253.59 499.50L1254.15 500.50L1254.63 501.50L1255.02 502.50L1255.31 503.50L1255.49 504.50L1255.51 505.50L1255.45 506.50L1255.34 507.50L1255.20 508.50L1255.03 509.50L1254.83 510.50L1254.61 511.50L1254.35 512.50L1254.08 513.50L1253.77 514.50L1253.45 515.50L1253.10 516.50L1252.73 517.50L1252.34 518.50L1251.93 519.50L1251.50 520.50L1251.05 521.50L1250.58 522.50L1250.09 523.50L1249.58 524.50L1249.05 525.50L1248.50 526.50L1248.70 527.50L1249.61 528.50L1250.45 529.50L1251.24 530.50L1251.97 531.50L1252.63 532.50M1252.63 625.50L1251.97 626.50L1251.24 627.50L1250.45 628.50L1249.61 629.50L1248.70 630.50L1248.50 631.50L1249.05 632.50L1249.58 633.50L1250.09 634.50L1250.58 635.50L1251.05 636.50L1251.50 637.50L1251.93 638.50L1252.34 639.50L1252.73 640.50L1253.10 641.50L1253.45 642.50L1253.77 643.50L1254.08 644.50L1254.35 645.50L1254.61 646.50L1254.83 647.50L1255.03 648.50L1255.20 649.50L1255.34 650.50L1255.45 651.50L1255.51 652.50L1255.49 653.50L1255.31 654.50L1255.02 655.50L1254.63 656.50L1254.15 657.50L1253.59 658.50L1252.95 659.50L1252.24 660.50L1251.46 661.50L1250.62 662.50L1249.71 663.50L1248.73 664.50L1248.68 665.50L1249.55 666.50L1250.38 667.50L1251.17 668.50L1251.91 669.50L1252.60 670.50L1253.24 671.50L1253.83 672.50L1254.37 673.50L1254.85 674.50L1255.28 675.50L1255.64 676.50L1255.94 677.50L1256.16 678.50L1256.30 679.50L1256.28 680.50L1256.05 681.50L1255.67 682.50L1255.17 683.50L1254.55 684.50L1253.83 685.50L1253.01 686.50L1252.10 687.50L1251.10 688.50L1250.01 689.50L1248.84 690.50L1248.77 691.50L1249.83 692.50L1250.82 693.50L1251.76 694.50L1252.63 695.50L1253.44 696.50L1254.18 697.50L1254.85 698.50L1255.45 699.50L1255.97 700.50L1256.40 701.50L1256.75 702.50L1257.00 703.50L1257.12 704.50L1257.12 705.50L1257.12 706.50L1257.12 707.50L1257.12 708.50L1257.12 709.50L1257.12 710.50L1257.12 711.50" fill="none" stroke="#fff" stroke-opacity="0.55" stroke-width="3" filter="url(#blG2)"/>
<path d="M1186.50 446.50L1255.62 446.50L1255.62 447.50L1255.62 448.50L1255.62 449.50L1255.62 450.50L1255.62 451.50L1255.62 452.50L1255.62 453.50L1255.50 454.50L1255.25 455.50L1254.90 456.50L1254.47 457.50L1253.95 458.50L1253.35 459.50L1252.68 460.50L1251.94 461.50L1251.13 462.50L1250.26 463.50L1249.32 464.50L1248.33 465.50L1247.27 466.50L1247.34 467.50L1248.51 468.50L1249.60 469.50L1250.60 470.50L1251.51 471.50L1252.33 472.50L1253.05 473.50L1253.67 474.50L1254.17 475.50L1254.55 476.50L1254.78 477.50L1254.80 478.50L1254.66 479.50L1254.44 480.50L1254.14 481.50L1253.78 482.50L1253.35 483.50L1252.87 484.50L1252.33 485.50L1251.74 486.50L1251.10 487.50L1250.41 488.50L1249.67 489.50L1248.88 490.50L1248.05 491.50L1247.18 492.50L1247.23 493.50L1248.21 494.50L1249.12 495.50L1249.96 496.50L1250.74 497.50L1251.45 498.50L1252.09 499.50L1252.65 500.50L1253.13 501.50L1253.52 502.50L1253.81 503.50L1253.99 504.50L1254.01 505.50L1253.95 506.50L1253.84 507.50L1253.70 508.50L1253.53 509.50L1253.33 510.50L1253.11 511.50L1252.85 512.50L1252.58 513.50L1252.27 514.50L1251.95 515.50L1251.60 516.50L1251.23 517.50L1250.84 518.50L1250.43 519.50L1250.00 520.50L1249.55 521.50L1249.08 522.50L1248.59 523.50L1248.08 524.50L1247.55 525.50L1247.00 526.50L1247.20 527.50L1248.11 528.50L1248.95 529.50L1249.74 530.50L1250.47 531.50L1251.13 532.50L1251.72 533.50L1252.24 534.50L1252.69 535.50L1253.05 536.50L1253.33 537.50L1253.49 538.50L1253.44 539.50L1253.27 540.50L1253.10 541.50L1252.94 542.50L1252.78 543.50L1252.63 544.50L1252.48 545.50L1252.34 546.50L1252.20 547.50L1252.06 548.50L1251.93 549.50L1251.80 550.50L1251.68 551.50L1251.56 552.50L1251.45 553.50L1251.34 554.50L1251.23 555.50L1251.13 556.50L1251.04 557.50L1250.94 558.50L1250.86 559.50L1250.77 560.50L1250.69 561.50L1250.62 562.50L1250.55 563.50L1250.48 564.50L1250.42 565.50L1250.37 566.50L1250.31 567.50L1250.27 568.50L1250.22 569.50L1250.18 570.50L1250.15 571.50L1250.12 572.50L1250.09 573.50L1250.07 574.50L1250.05 575.50L1250.04 576.50L1250.03 577.50L1250.03 578.50L1250.03 579.50L1250.03 580.50L1250.04 581.50L1250.05 582.50L1250.07 583.50L1250.09 584.50L1250.12 585.50L1250.15 586.50L1250.18 587.50L1250.22 588.50L1250.27 589.50L1250.31 590.50L1250.37 591.50L1250.42 592.50L1250.48 593.50L1250.55 594.50L1250.62 595.50L1250.69 596.50L1250.77 597.50L1250.86 598.50L1250.94 599.50L1251.04 600.50L1251.13 601.50L1251.23 602.50L1251.34 603.50L1251.45 604.50L1251.56 605.50L1251.68 606.50L1251.80 607.50L1251.93 608.50L1252.06 609.50L1252.20 610.50L1252.34 611.50L1252.48 612.50L1252.63 613.50L1252.78 614.50L1252.94 615.50L1253.10 616.50L1253.27 617.50L1253.44 618.50L1253.49 619.50L1253.33 620.50L1253.05 621.50L1252.69 622.50L1252.24 623.50L1251.72 624.50L1251.13 625.50L1250.47 626.50L1249.74 627.50L1248.95 628.50L1248.11 629.50L1247.20 630.50L1247.00 631.50L1247.55 632.50L1248.08 633.50L1248.59 634.50L1249.08 635.50L1249.55 636.50L1250.00 637.50L1250.43 638.50L1250.84 639.50L1251.23 640.50L1251.60 641.50L1251.95 642.50L1252.27 643.50L1252.58 644.50L1252.85 645.50L1253.11 646.50L1253.33 647.50L1253.53 648.50L1253.70 649.50L1253.84 650.50L1253.95 651.50L1254.01 652.50L1253.99 653.50L1253.81 654.50L1253.52 655.50L1253.13 656.50L1252.65 657.50L1252.09 658.50L1251.45 659.50L1250.74 660.50L1249.96 661.50L1249.12 662.50L1248.21 663.50L1247.23 664.50L1247.18 665.50L1248.05 666.50L1248.88 667.50L1249.67 668.50L1250.41 669.50L1251.10 670.50L1251.74 671.50L1252.33 672.50L1252.87 673.50L1253.35 674.50L1253.78 675.50L1254.14 676.50L1254.44 677.50L1254.66 678.50L1254.80 679.50L1254.78 680.50L1254.55 681.50L1254.17 682.50L1253.67 683.50L1253.05 684.50L1252.33 685.50L1251.51 686.50L1250.60 687.50L1249.60 688.50L1248.51 689.50L1247.34 690.50L1247.27 691.50L1248.33 692.50L1249.32 693.50L1250.26 694.50L1251.13 695.50L1251.94 696.50L1252.68 697.50L1253.35 698.50L1253.95 699.50L1254.47 700.50L1254.90 701.50L1255.25 702.50L1255.50 703.50L1255.62 704.50L1255.62 705.50L1255.62 706.50L1255.62 707.50L1255.62 708.50L1255.62 709.50L1255.62 710.50L1255.62 711.50L1186.50 711.50Z" fill="url(#gGr)"/>
<path d="M1244.57 524.71L1241.37 528.50L1238.43 532.50L1235.75 536.71L1233.35 541.09L1231.24 545.63L1229.42 550.31L1227.92 555.10L1226.73 559.99L1225.85 564.94L1225.29 569.94L1225.03 574.95L1225.05 579.97L1225.65 579.97L1225.91 574.99L1226.58 570.06L1227.62 565.20L1229.00 560.45L1230.73 555.84L1232.78 551.38L1235.14 547.11L1237.79 543.04L1240.71 539.21L1243.88 535.62L1247.28 532.31L1250.88 529.29ZM1244.57 633.29L1241.37 629.50L1238.43 625.50L1235.75 621.29L1233.35 616.91L1231.24 612.37L1229.42 607.69L1227.92 602.90L1226.73 598.01L1225.85 593.06L1225.29 588.06L1225.03 583.05L1225.05 578.03L1225.65 578.03L1225.91 583.01L1226.58 587.94L1227.62 592.80L1229.00 597.55L1230.73 602.16L1232.78 606.62L1235.14 610.89L1237.79 614.96L1240.71 618.79L1243.88 622.38L1247.28 625.69L1250.88 628.71ZM1245.22 490.01L1241.33 493.19L1237.61 496.57L1234.05 500.14L1230.68 503.88L1227.50 507.79L1224.52 511.85L1221.74 516.06L1219.18 520.39L1216.82 524.84L1214.69 529.39L1212.77 534.03L1211.03 538.74L1211.59 538.95L1213.58 534.38L1215.87 529.95L1218.41 525.67L1221.18 521.56L1224.19 517.63L1227.40 513.89L1230.80 510.34L1234.39 507.01L1238.14 503.90L1242.04 501.02L1246.07 498.39L1250.23 495.99ZM1245.22 667.99L1241.33 664.81L1237.61 661.43L1234.05 657.86L1230.68 654.12L1227.50 650.21L1224.52 646.15L1221.74 641.94L1219.18 637.61L1216.82 633.16L1214.69 628.61L1212.77 623.97L1211.03 619.26L1211.59 619.05L1213.58 623.62L1215.87 628.05L1218.41 632.33L1221.18 636.44L1224.19 640.37L1227.40 644.11L1230.80 647.66L1234.39 650.99L1238.14 654.10L1242.04 656.98L1246.07 659.61L1250.23 662.01ZM1245.62 463.72L1241.38 466.44L1237.26 469.34L1233.27 472.41L1229.41 475.66L1225.69 479.06L1222.12 482.61L1218.71 486.31L1215.45 490.15L1212.35 494.11L1209.42 498.19L1206.65 502.38L1204.01 506.64L1204.52 506.96L1207.38 502.87L1210.47 498.96L1213.75 495.22L1217.22 491.66L1220.85 488.28L1224.63 485.09L1228.55 482.10L1232.60 479.31L1236.76 476.73L1241.03 474.36L1245.39 472.21L1249.83 470.28ZM1245.62 694.28L1241.38 691.56L1237.26 688.66L1233.27 685.59L1229.41 682.34L1225.69 678.94L1222.12 675.39L1218.71 671.69L1215.45 667.85L1212.35 663.89L1209.42 659.81L1206.65 655.62L1204.01 651.36L1204.52 651.04L1207.38 655.13L1210.47 659.04L1213.75 662.78L1217.22 666.34L1220.85 669.72L1224.63 672.91L1228.55 675.90L1232.60 678.69L1236.76 681.27L1241.03 683.64L1245.39 685.79L1249.83 687.72Z" fill="#fff" fill-opacity="0.95" filter="url(#blG)"/>
<path d="M1187.2 579.5H1452.00" stroke="#1fae4d" stroke-width="2.5" stroke-dasharray="11.5 9.25"/>
<text x="1186.50" y="744.00" font-size="22.80" text-anchor="middle" font-family="Liberation Sans, Arial, sans-serif" fill="#000" >-2</text>
<text x="1177.50" y="719.71" font-size="22.80" text-anchor="end" font-family="Liberation Sans, Arial, sans-serif" fill="#000" >-2</text>
<text x="1252.88" y="744.00" font-size="22.80" text-anchor="middle" font-family="Liberation Sans, Arial, sans-serif" fill="#000" >-1</text>
<text x="1177.50" y="653.46" font-size="22.80" text-anchor="end" font-family="Liberation Sans, Arial, sans-serif" fill="#000" >-1</text>
<text x="1319.25" y="744.00" font-size="22.80" text-anchor="middle" font-family="Liberation Sans, Arial, sans-serif" fill="#000" >0</text>
<text x="1177.50" y="587.21" font-size="22.80" text-anchor="end" font-family="Liberation Sans, Arial, sans-serif" fill="#000" >0</text>
<text x="1385.62" y="744.00" font-size="22.80" text-anchor="middle" font-family="Liberation Sans, Arial, sans-serif" fill="#000" >1</text>
<text x="1177.50" y="520.96" font-size="22.80" text-anchor="end" font-family="Liberation Sans, Arial, sans-serif" fill="#000" >1</text>
<text x="1452.00" y="744.00" font-size="22.80" text-anchor="middle" font-family="Liberation Sans, Arial, sans-serif" fill="#000" >2</text>
<text x="1177.50" y="454.71" font-size="22.80" text-anchor="end" font-family="Liberation Sans, Arial, sans-serif" fill="#000" >2</text>
<text x="1319.25" y="779.50" font-size="28.70" text-anchor="middle" font-family="Liberation Sans, Arial, sans-serif" fill="#000">x (<tspan font-family="Liberation Serif, serif" font-style="italic" font-size="29.27">μ</tspan>m)</text>
<text transform="translate(1149.50 579.00) rotate(-90)" font-size="28.70" text-anchor="middle" font-family="Liberation Sans, Arial, sans-serif" fill="#000">y (<tspan font-family="Liberation Serif, serif" font-style="italic" font-size="29.27">μ</tspan>m)</text>
<text x="1319.60" y="426.00" font-size="27.50" text-anchor="middle" fill="#000" letter-spacing="2.48" font-family="Liberation Serif, Times New Roman, serif"><tspan font-family="Liberation Sans, Arial, sans-serif" font-size="29.15">Δ</tspan><tspan font-style="italic" font-size="29.70">γ</tspan><tspan font-family="Liberation Sans, Arial, sans-serif" font-style="italic" font-size="23.10" dy="13.20">s</tspan></text>
<text x="1121.50" y="452.60" font-size="39.00" text-anchor="start" font-family="Liberation Sans, Arial, sans-serif" fill="#000" >G</text>
<rect x="1468.50" y="446.40" width="20.10" height="263.80" fill="url(#cbG)"/>
<rect x="1468.50" y="446.40" width="20.10" height="263.80" fill="none" stroke="#666" stroke-width="0.6"/>
<path d="M1488.60 477.00h-2.5" stroke="#333" stroke-width="0.7"/>
<text x="1495.50" y="485.03" font-size="22.30" text-anchor="start" font-family="Liberation Sans, Arial, sans-serif" fill="#000" >0.1</text>
<path d="M1488.60 537.00h-2.5" stroke="#333" stroke-width="0.7"/>
<text x="1495.50" y="545.03" font-size="22.30" text-anchor="start" font-family="Liberation Sans, Arial, sans-serif" fill="#000" >0</text>
<path d="M1488.60 597.00h-2.5" stroke="#333" stroke-width="0.7"/>
<text x="1495.50" y="605.03" font-size="22.30" text-anchor="start" font-family="Liberation Sans, Arial, sans-serif" fill="#000" >-0.1</text>
<path d="M1488.60 657.20h-2.5" stroke="#333" stroke-width="0.7"/>
<text x="1495.50" y="665.23" font-size="22.30" text-anchor="start" font-family="Liberation Sans, Arial, sans-serif" fill="#000" >-0.2</text>
<rect x="1372.60" y="446.60" width="80.50" height="80.60" fill="#aaaaaa" fill-opacity="0.74" stroke="#000" stroke-width="2.80"/>
<path d="M1399.10 445.20V528.60" stroke="#000" stroke-width="2.80"/>
<circle cx="1385.40" cy="485.60" r="10.30" fill="none" stroke="#ff0000" stroke-width="3.20"/><circle cx="1385.40" cy="485.60" r="4.40" fill="#ff0000"/>
<circle cx="1425.40" cy="485.20" r="10.40" fill="none" stroke="#1f77c4" stroke-width="3.00"/><path d="M1418.05 477.85L1432.75 492.55M1418.05 492.55L1432.75 477.85" stroke="#1f77c4" stroke-width="3.00"/>
<rect x="1794.2" y="46.70" width="34.5" height="267.10" fill="#c6e0b4"/>
<path d="M1636.75 95.47C1637.11 98.09 1638.24 106.36 1639.03 111.84C1639.82 117.32 1640.97 125.77 1641.70 129.73C1642.43 133.69 1642.99 136.59 1643.60 136.59C1644.21 136.59 1644.71 135.09 1645.50 129.73C1646.30 124.37 1647.45 109.48 1648.55 103.09C1649.65 96.69 1650.83 92.75 1652.36 89.76C1653.88 86.78 1656.24 84.86 1658.07 84.43C1659.89 84.01 1662.25 85.15 1663.78 87.10C1665.30 89.05 1666.61 92.23 1667.58 96.62C1668.56 101.00 1669.26 110.37 1669.87 114.51C1670.48 118.65 1670.90 122.50 1671.39 122.50C1671.88 122.50 1672.30 117.74 1672.91 114.51C1673.52 111.28 1673.92 106.59 1675.20 102.33C1676.48 98.06 1678.47 91.03 1680.91 87.86C1683.34 84.69 1687.99 82.65 1690.42 82.53C1692.86 82.41 1694.61 84.24 1696.13 87.10C1697.66 89.96 1699.03 96.65 1699.94 100.42C1700.85 104.20 1701.36 108.45 1701.84 110.70C1702.33 112.95 1702.62 114.51 1702.98 114.51C1703.35 114.51 1703.52 112.95 1704.13 110.70C1704.74 108.45 1705.33 104.93 1706.79 100.42C1708.25 95.92 1710.40 86.98 1713.26 82.53C1716.12 78.09 1721.94 73.43 1724.68 72.63C1727.42 71.84 1728.87 74.66 1730.39 77.58C1731.91 80.51 1733.22 86.83 1734.20 90.91C1735.17 94.99 1735.87 100.53 1736.48 103.09C1737.09 105.65 1737.52 107.02 1738.01 106.89C1738.49 106.77 1738.92 104.88 1739.53 102.33C1740.14 99.77 1740.53 95.05 1741.81 90.91C1743.09 86.76 1744.78 80.28 1747.52 76.44C1750.26 72.60 1756.20 68.08 1758.94 66.92C1761.68 65.77 1763.25 67.20 1764.65 69.21C1766.05 71.22 1766.97 75.28 1767.70 79.49C1768.43 83.69 1768.79 95.17 1769.22 95.47C1769.65 95.78 1770.06 84.68 1770.36 81.39C1770.67 78.10 1770.82 74.00 1771.12 74.92C1771.43 75.83 1771.84 79.06 1772.26 87.10C1772.69 95.14 1773.36 116.33 1773.79 125.17C1774.21 134.00 1774.56 141.08 1774.93 142.30C1775.30 143.51 1775.58 136.74 1776.07 132.78C1776.56 128.82 1777.06 122.91 1777.97 117.55C1778.89 112.19 1780.26 103.73 1781.78 99.28C1783.30 94.83 1785.48 91.83 1787.49 89.76C1789.50 87.69 1792.21 86.16 1794.34 86.34C1796.48 86.52 1799.17 87.74 1800.81 90.91C1802.46 94.07 1803.40 97.61 1804.62 106.13C1805.84 114.66 1807.21 128.97 1808.43 144.20C1809.65 159.43 1811.02 184.85 1812.23 201.30C1813.45 217.74 1814.82 236.62 1816.04 246.98C1817.26 257.33 1818.63 261.75 1819.85 266.01C1821.07 270.27 1822.25 271.98 1823.65 273.62C1825.06 275.27 1826.78 276.29 1828.60 276.29C1830.43 276.29 1833.13 276.49 1835.07 273.62C1837.02 270.76 1839.26 264.49 1840.78 258.40C1842.31 252.31 1843.68 241.16 1844.59 235.56C1845.50 229.95 1846.01 222.16 1846.49 223.38C1846.98 224.59 1847.27 233.43 1847.64 243.17C1848.00 252.92 1848.41 279.71 1848.78 284.28C1849.14 288.85 1849.55 274.95 1849.92 271.72C1850.29 268.49 1850.57 263.19 1851.06 264.11C1851.55 265.02 1852.17 273.17 1852.97 277.43C1853.76 281.69 1854.61 288.01 1856.01 290.75C1857.41 293.49 1859.28 294.86 1861.72 294.56C1864.16 294.26 1868.80 291.59 1871.24 288.85C1873.67 286.11 1875.55 281.69 1876.95 277.43C1878.35 273.17 1879.14 266.47 1879.99 262.20C1880.85 257.94 1881.55 250.78 1882.28 250.78C1883.01 250.78 1883.59 257.33 1884.56 262.20C1885.53 267.08 1886.84 276.85 1888.37 281.24C1889.89 285.62 1891.64 289.31 1894.08 289.61C1896.51 289.92 1900.85 286.92 1903.59 283.14C1906.33 279.36 1909.38 271.07 1911.21 266.01C1913.03 260.96 1914.04 254.77 1915.01 251.55C1915.99 248.32 1916.51 244.74 1917.30 245.84C1918.09 246.93 1918.93 253.65 1919.96 258.40C1921.00 263.15 1922.43 271.99 1923.77 275.53C1925.11 279.06 1926.08 280.78 1928.34 280.48C1930.59 280.17 1935.42 277.16 1937.85 273.62C1940.29 270.09 1942.16 263.15 1943.56 258.40C1944.96 253.65 1945.76 247.10 1946.61 243.93C1947.46 240.77 1948.16 236.90 1948.89 238.60C1949.62 240.31 1950.20 248.99 1951.18 254.59C1952.15 260.19 1953.76 269.79 1954.98 273.62C1956.20 277.46 1956.96 278.57 1958.79 278.57C1960.62 278.57 1964.27 277.46 1966.40 273.62C1968.53 269.79 1970.77 260.56 1972.11 254.59C1973.45 248.62 1974.05 240.46 1974.78 236.32C1975.51 232.18 1976.01 227.00 1976.68 228.71C1977.35 230.41 1978.17 241.01 1978.96 246.98C1979.76 252.95 1980.72 262.05 1981.63 266.01C1982.54 269.97 1984.19 270.81 1984.67 271.72" fill="none" stroke="#0b6fbf" stroke-width="1.9" stroke-linejoin="round"/>
<rect x="1636.80" y="46.20" width="347.80" height="268.10" fill="none" stroke="#8a8a8a" stroke-width="1.1"/>
<text x="1636.80" y="345.50" font-size="22.30" text-anchor="middle" font-family="Liberation Sans, Arial, sans-serif" fill="#000" >-2</text>
<text x="1723.75" y="345.50" font-size="22.30" text-anchor="middle" font-family="Liberation Sans, Arial, sans-serif" fill="#000" >-1</text>
<text x="1810.70" y="345.50" font-size="22.30" text-anchor="middle" font-family="Liberation Sans, Arial, sans-serif" fill="#000" >0</text>
<text x="1897.65" y="345.50" font-size="22.30" text-anchor="middle" font-family="Liberation Sans, Arial, sans-serif" fill="#000" >1</text>
<text x="1984.60" y="345.50" font-size="22.30" text-anchor="middle" font-family="Liberation Sans, Arial, sans-serif" fill="#000" >2</text>
<text x="1629.30" y="55.50" font-size="22.60" text-anchor="end" font-family="Liberation Sans, Arial, sans-serif" fill="#000" >0.2</text>
<text x="1629.30" y="122.53" font-size="22.60" text-anchor="end" font-family="Liberation Sans, Arial, sans-serif" fill="#000" >0.1</text>
<text x="1629.30" y="189.55" font-size="22.60" text-anchor="end" font-family="Liberation Sans, Arial, sans-serif" fill="#000" >0</text>
<text x="1629.30" y="256.58" font-size="22.60" text-anchor="end" font-family="Liberation Sans, Arial, sans-serif" fill="#000" >-0.1</text>
<text x="1629.30" y="323.60" font-size="22.60" text-anchor="end" font-family="Liberation Sans, Arial, sans-serif" fill="#000" >-0.2</text>
<path d="M1636.80 314.30v-3.5M1636.80 46.20v3.5M1723.75 314.30v-3.5M1723.75 46.20v3.5M1810.70 314.30v-3.5M1810.70 46.20v3.5M1897.65 314.30v-3.5M1897.65 46.20v3.5M1984.60 314.30v-3.5M1984.60 46.20v3.5M1636.80 46.20h3.5M1984.60 46.20h-3.5M1636.80 113.23h3.5M1984.60 113.23h-3.5M1636.80 180.25h3.5M1984.60 180.25h-3.5M1636.80 247.28h3.5M1984.60 247.28h-3.5M1636.80 314.30h3.5M1984.60 314.30h-3.5" stroke="#555" stroke-width="0.8" fill="none"/>
<text x="1810.70" y="378.30" font-size="27.00" text-anchor="middle" font-family="Liberation Sans, Arial, sans-serif" fill="#000">x (<tspan font-family="Liberation Serif, serif" font-style="italic" font-size="27.54">μ</tspan>m)</text>
<text x="1558.90" y="52.70" font-size="39.00" text-anchor="start" font-family="Liberation Sans, Arial, sans-serif" fill="#000" >H</text>
<text transform="translate(1569.70 178.60) rotate(-90)" font-size="25.00" text-anchor="middle" fill="#000" letter-spacing="3.2" font-family="Liberation Serif, Times New Roman, serif"><tspan font-family="Liberation Sans, Arial, sans-serif">Δ</tspan><tspan font-style="italic">γ</tspan><tspan font-family="Liberation Sans, Arial, sans-serif" font-size="21.00" dy="12.00">s</tspan></text>
<rect x="1666.90" y="200.20" width="120.40" height="94.30" fill="#fff" stroke="#b5b5b5" stroke-width="0.7"/>
<path d="M1666.90 201.09L1669.91 201.18L1672.92 201.29L1675.93 201.45L1678.94 201.66L1681.95 201.94L1684.96 202.32L1687.97 202.82L1690.98 203.48L1693.99 204.35L1697.00 205.50L1700.01 206.99L1703.02 208.91L1706.03 211.36L1709.04 214.43L1712.05 218.21L1715.06 222.76L1718.07 228.06L1721.08 234.05L1724.09 240.56L1727.10 247.35L1730.11 254.14L1733.12 260.65L1736.13 266.64L1739.14 271.94L1742.15 276.49L1745.16 280.27L1748.17 283.34L1751.18 285.79L1754.19 287.71L1757.20 289.20L1760.21 290.35L1763.22 291.22L1766.23 291.88L1769.24 292.38L1772.25 292.76L1775.26 293.04L1778.27 293.25L1781.28 293.41L1784.29 293.52L1787.30 293.61" fill="none" stroke="#6db1e6" stroke-width="1.0"/>
<text x="1665.10" y="202.30" font-size="6.00" text-anchor="end" font-family="Liberation Sans, Arial, sans-serif" fill="#555" >0.15</text>
<text x="1665.10" y="218.02" font-size="6.00" text-anchor="end" font-family="Liberation Sans, Arial, sans-serif" fill="#555" >0.1</text>
<text x="1665.10" y="233.73" font-size="6.00" text-anchor="end" font-family="Liberation Sans, Arial, sans-serif" fill="#555" >0.05</text>
<text x="1665.10" y="249.45" font-size="6.00" text-anchor="end" font-family="Liberation Sans, Arial, sans-serif" fill="#555" >0</text>
<text x="1665.10" y="265.17" font-size="6.00" text-anchor="end" font-family="Liberation Sans, Arial, sans-serif" fill="#555" >-0.05</text>
<text x="1665.10" y="280.88" font-size="6.00" text-anchor="end" font-family="Liberation Sans, Arial, sans-serif" fill="#555" >-0.1</text>
<text x="1665.10" y="296.60" font-size="6.00" text-anchor="end" font-family="Liberation Sans, Arial, sans-serif" fill="#555" >-0.15</text>
<text x="1666.90" y="302.90" font-size="6.00" text-anchor="middle" font-family="Liberation Sans, Arial, sans-serif" fill="#555" >-0.2</text>
<text x="1697.00" y="302.90" font-size="6.00" text-anchor="middle" font-family="Liberation Sans, Arial, sans-serif" fill="#555" >-0.1</text>
<text x="1727.10" y="302.90" font-size="6.00" text-anchor="middle" font-family="Liberation Sans, Arial, sans-serif" fill="#555" >0</text>
<text x="1757.20" y="302.90" font-size="6.00" text-anchor="middle" font-family="Liberation Sans, Arial, sans-serif" fill="#555" >0.1</text>
<text x="1787.30" y="302.90" font-size="6.00" text-anchor="middle" font-family="Liberation Sans, Arial, sans-serif" fill="#555" >0.2</text>
<path d="M1666.90 200.20h1.5M1787.30 200.20h-1.5M1666.90 215.92h1.5M1787.30 215.92h-1.5M1666.90 231.63h1.5M1787.30 231.63h-1.5M1666.90 247.35h1.5M1787.30 247.35h-1.5M1666.90 263.07h1.5M1787.30 263.07h-1.5M1666.90 278.78h1.5M1787.30 278.78h-1.5M1666.90 294.50h1.5M1787.30 294.50h-1.5M1666.90 294.50v-1.5M1666.90 200.20v1.5M1697.00 294.50v-1.5M1697.00 200.20v1.5M1727.10 294.50v-1.5M1727.10 200.20v1.5M1757.20 294.50v-1.5M1757.20 200.20v1.5M1787.30 294.50v-1.5M1787.30 200.20v1.5" stroke="#999" stroke-width="0.5" fill="none"/>
<text x="1727.10" y="312.10" font-size="6.4" text-anchor="middle" font-family="Liberation Sans, Arial, sans-serif" fill="#555">x (μm)</text>
<text transform="translate(1650.40 247.35) rotate(-90)" font-size="6.2" text-anchor="middle" font-family="Liberation Sans, Arial, sans-serif" fill="#555">Δγ<tspan font-size="4.8" dy="1.6">s</tspan></text>
<path d="M1710 213.9V281.3M1746.1 213.9V281.3" stroke="#000" stroke-width="1.6"/>
<path d="M1679.8 247.5H1700" stroke="#000" stroke-width="1.8"/><path d="M1709 247.5l-11 -5.4v10.8z" fill="#000"/>
<path d="M1775.5 247.5H1756" stroke="#000" stroke-width="1.8"/><path d="M1747 247.5l11 -5.4v10.8z" fill="#000"/>
<text x="1729.70" y="205.20" font-size="15.90" text-anchor="middle" font-family="Liberation Sans, Arial, sans-serif" fill="#000" font-weight="bold" textLength="55" lengthAdjust="spacingAndGlyphs">120nm</text>
<path d="M1636.75 525.17C1637.11 521.51 1638.06 508.42 1639.03 502.33C1640.01 496.24 1641.32 490.75 1642.84 487.10C1644.36 483.44 1646.60 481.37 1648.55 479.49C1650.50 477.60 1653.50 475.30 1655.02 475.30C1656.54 475.30 1657.34 476.68 1658.07 479.49C1658.80 482.29 1659.16 488.55 1659.59 492.81C1660.02 497.07 1660.37 501.56 1660.73 506.13C1661.10 510.70 1661.51 518.01 1661.87 521.36C1662.24 524.71 1662.65 526.76 1663.01 527.07C1663.38 527.37 1663.73 524.78 1664.16 523.26C1664.58 521.74 1664.83 521.51 1665.68 517.55C1666.53 513.59 1667.96 504.00 1669.49 498.52C1671.01 493.04 1673.37 486.95 1675.20 483.29C1677.02 479.64 1679.57 477.08 1680.91 475.68C1682.25 474.28 1682.66 473.93 1683.57 474.54C1684.48 475.15 1685.82 476.56 1686.62 479.49C1687.41 482.41 1688.03 488.55 1688.52 492.81C1689.01 497.07 1689.23 501.26 1689.66 506.13C1690.09 511.00 1690.70 519.18 1691.18 523.26C1691.67 527.34 1692.28 530.60 1692.71 531.64C1693.13 532.67 1693.42 530.77 1693.85 529.73C1694.27 528.70 1694.40 528.94 1695.37 525.17C1696.35 521.39 1698.29 511.92 1699.94 506.13C1701.58 500.35 1703.82 493.57 1705.65 489.00C1707.48 484.43 1710.02 479.65 1711.36 477.58C1712.70 475.51 1713.23 475.15 1714.02 476.06C1714.82 476.97 1715.70 478.48 1716.31 483.29C1716.92 488.10 1717.40 494.56 1717.83 506.13C1718.26 517.70 1718.61 536.13 1718.97 555.62C1719.34 575.11 1719.75 606.02 1720.11 627.94C1720.48 649.87 1720.95 679.74 1721.26 692.66C1721.56 705.57 1721.77 707.12 1722.02 708.64C1722.26 710.17 1722.54 704.73 1722.78 702.17C1723.02 699.62 1723.05 699.05 1723.54 692.66C1724.03 686.26 1725.03 670.12 1725.82 662.20C1726.62 654.29 1727.45 648.35 1728.49 643.17C1729.52 637.99 1730.89 633.50 1732.30 629.85C1733.70 626.19 1735.84 624.29 1737.24 620.33C1738.64 616.37 1740.14 611.20 1741.05 605.10C1741.96 599.01 1742.41 587.87 1742.95 582.26C1743.50 576.66 1744.05 568.87 1744.48 570.08C1744.90 571.30 1745.25 585.19 1745.62 589.88C1745.98 594.57 1746.40 594.52 1746.76 599.39C1747.13 604.27 1747.35 614.55 1747.90 620.33C1748.45 626.12 1749.33 632.51 1750.19 635.56C1751.04 638.60 1751.83 639.36 1753.23 639.36C1754.63 639.36 1757.24 638.60 1758.94 635.56C1760.65 632.51 1762.67 627.64 1763.89 620.33C1765.11 613.02 1765.89 598.41 1766.56 589.88C1767.22 581.35 1767.71 572.03 1768.08 567.04C1768.44 562.04 1768.53 556.23 1768.84 558.66C1769.14 561.10 1769.68 573.13 1769.98 582.26C1770.29 591.40 1770.56 615.76 1770.74 615.76C1770.93 615.76 1771.00 590.67 1771.12 582.26C1771.24 573.86 1771.20 562.01 1771.50 563.23C1771.81 564.45 1772.42 580.13 1773.03 589.88C1773.64 599.62 1774.52 616.52 1775.31 624.14C1776.10 631.75 1777.12 634.90 1777.97 637.46C1778.83 640.02 1779.60 640.43 1780.64 640.13C1781.67 639.82 1783.35 639.94 1784.45 635.56C1785.54 631.17 1786.64 622.46 1787.49 612.72C1788.34 602.97 1789.17 583.30 1789.78 574.65C1790.38 566.00 1790.93 561.89 1791.30 558.66C1791.66 555.44 1791.69 550.70 1792.06 554.48C1792.42 558.25 1793.09 572.34 1793.58 582.26C1794.07 592.19 1794.62 608.18 1795.10 616.52C1795.59 624.87 1796.14 635.02 1796.63 634.42C1797.11 633.81 1797.54 621.06 1798.15 612.72C1798.76 604.37 1799.70 590.49 1800.43 582.26C1801.16 574.04 1801.74 565.71 1802.72 561.33C1803.69 556.94 1805.00 556.01 1806.52 554.86C1808.05 553.70 1810.71 553.97 1812.23 554.10C1813.76 554.22 1815.01 553.55 1816.04 555.62C1817.08 557.69 1817.97 560.95 1818.71 567.04C1819.44 573.13 1820.00 584.55 1820.61 593.68C1821.22 602.82 1821.90 616.71 1822.51 624.14C1823.12 631.57 1823.93 641.95 1824.42 640.13C1824.90 638.30 1825.19 622.58 1825.56 612.72C1825.92 602.85 1826.27 587.72 1826.70 578.46C1827.13 569.20 1827.67 554.25 1828.22 554.86C1828.77 555.47 1829.46 573.01 1830.13 582.26C1830.80 591.52 1831.62 604.80 1832.41 612.72C1833.20 620.64 1834.04 627.91 1835.07 631.75C1836.11 635.59 1837.66 637.31 1838.88 636.70C1840.10 636.09 1841.65 633.00 1842.69 627.94C1843.72 622.89 1844.62 613.02 1845.35 605.10C1846.08 597.19 1846.71 585.65 1847.26 578.46C1847.80 571.27 1848.35 557.14 1848.78 560.19C1849.20 563.23 1849.62 586.22 1849.92 597.49C1850.22 608.76 1850.50 630.00 1850.68 630.61C1850.86 631.22 1850.94 609.03 1851.06 601.30C1851.18 593.56 1851.26 587.87 1851.44 582.26C1851.63 576.66 1851.84 564.45 1852.20 566.28C1852.57 568.10 1853.12 584.43 1853.73 593.68C1854.34 602.94 1855.16 617.44 1856.01 624.14C1856.86 630.84 1858.14 633.43 1859.06 635.56C1859.97 637.69 1860.50 638.07 1861.72 637.46C1862.94 636.85 1865.27 635.71 1866.67 631.75C1868.07 627.79 1869.56 618.81 1870.48 612.72C1871.39 606.63 1871.83 598.86 1872.38 593.68C1872.93 588.51 1873.48 579.75 1873.90 580.36C1874.33 580.97 1874.74 593.53 1875.04 597.49C1875.35 601.45 1875.56 605.29 1875.81 605.10C1876.05 604.92 1876.26 595.13 1876.57 596.35C1876.87 597.57 1877.16 607.66 1877.71 612.72C1878.26 617.77 1879.20 624.41 1879.99 627.94C1880.78 631.48 1881.62 633.58 1882.66 634.80C1883.69 636.01 1884.94 636.65 1886.46 635.56C1887.99 634.46 1890.65 631.60 1892.17 627.94C1893.70 624.29 1895.01 617.59 1895.98 612.72C1896.95 607.85 1897.59 600.96 1898.26 597.49C1898.93 594.02 1899.50 589.80 1900.17 591.02C1900.84 592.24 1901.60 600.11 1902.45 605.10C1903.30 610.10 1904.40 618.28 1905.50 622.23C1906.59 626.19 1908.09 628.45 1909.30 629.85C1910.52 631.25 1911.28 631.90 1913.11 630.99C1914.94 630.08 1918.90 627.67 1920.72 624.14C1922.55 620.61 1923.43 613.17 1924.53 608.91C1925.63 604.65 1926.78 599.87 1927.58 597.49C1928.37 595.12 1928.75 592.85 1929.48 594.07C1930.21 595.28 1931.23 600.90 1932.14 605.10C1933.06 609.31 1934.09 616.98 1935.19 620.33C1936.28 623.68 1937.78 625.07 1939.00 626.04C1940.21 627.02 1941.16 627.34 1942.80 626.42C1944.45 625.51 1947.45 624.35 1949.27 620.33C1951.10 616.31 1953.00 606.48 1954.22 601.30C1955.44 596.12 1956.22 590.47 1956.89 587.97C1957.56 585.48 1957.86 584.17 1958.41 585.69C1958.96 587.21 1959.64 592.56 1960.31 597.49C1960.98 602.42 1961.74 612.26 1962.60 616.52C1963.45 620.79 1964.55 622.62 1965.64 624.14C1966.74 625.66 1967.80 626.65 1969.45 626.04C1971.09 625.43 1974.27 623.07 1975.92 620.33C1977.56 617.59 1978.69 613.78 1979.73 608.91C1980.76 604.04 1981.60 595.06 1982.39 589.88C1983.18 584.70 1984.31 578.69 1984.67 576.56" fill="none" stroke="#0b6fbf" stroke-width="1.8" stroke-linejoin="round"/>
<rect x="1636.80" y="446.40" width="347.80" height="268.40" fill="none" stroke="#8a8a8a" stroke-width="1.1"/>
<text x="1636.80" y="746.00" font-size="22.30" text-anchor="middle" font-family="Liberation Sans, Arial, sans-serif" fill="#000" >-2</text>
<text x="1723.75" y="746.00" font-size="22.30" text-anchor="middle" font-family="Liberation Sans, Arial, sans-serif" fill="#000" >-1</text>
<text x="1810.70" y="746.00" font-size="22.30" text-anchor="middle" font-family="Liberation Sans, Arial, sans-serif" fill="#000" >0</text>
<text x="1897.65" y="746.00" font-size="22.30" text-anchor="middle" font-family="Liberation Sans, Arial, sans-serif" fill="#000" >1</text>
<text x="1984.60" y="746.00" font-size="22.30" text-anchor="middle" font-family="Liberation Sans, Arial, sans-serif" fill="#000" >2</text>
<text x="1629.30" y="455.70" font-size="22.60" text-anchor="end" font-family="Liberation Sans, Arial, sans-serif" fill="#000" >0.2</text>
<text x="1629.30" y="509.38" font-size="22.60" text-anchor="end" font-family="Liberation Sans, Arial, sans-serif" fill="#000" >0.1</text>
<text x="1629.30" y="563.06" font-size="22.60" text-anchor="end" font-family="Liberation Sans, Arial, sans-serif" fill="#000" >0</text>
<text x="1629.30" y="616.74" font-size="22.60" text-anchor="end" font-family="Liberation Sans, Arial, sans-serif" fill="#000" >-0.1</text>
<text x="1629.30" y="670.42" font-size="22.60" text-anchor="end" font-family="Liberation Sans, Arial, sans-serif" fill="#000" >-0.2</text>
<text x="1629.30" y="724.10" font-size="22.60" text-anchor="end" font-family="Liberation Sans, Arial, sans-serif" fill="#000" >-0.3</text>
<path d="M1636.80 714.80v-3.5M1636.80 446.40v3.5M1723.75 714.80v-3.5M1723.75 446.40v3.5M1810.70 714.80v-3.5M1810.70 446.40v3.5M1897.65 714.80v-3.5M1897.65 446.40v3.5M1984.60 714.80v-3.5M1984.60 446.40v3.5M1636.80 446.40h3.5M1984.60 446.40h-3.5M1636.80 500.08h3.5M1984.60 500.08h-3.5M1636.80 553.76h3.5M1984.60 553.76h-3.5M1636.80 607.44h3.5M1984.60 607.44h-3.5M1636.80 661.12h3.5M1984.60 661.12h-3.5M1636.80 714.80h3.5M1984.60 714.80h-3.5" stroke="#555" stroke-width="0.8" fill="none"/>
<text x="1810.70" y="778.80" font-size="27.00" text-anchor="middle" font-family="Liberation Sans, Arial, sans-serif" fill="#000">x (<tspan font-family="Liberation Serif, serif" font-style="italic" font-size="27.54">μ</tspan>m)</text>
<text x="1568.70" y="451.90" font-size="39.00" text-anchor="start" font-family="Liberation Sans, Arial, sans-serif" fill="#000" >I</text>
<text transform="translate(1569.70 580.60) rotate(-90)" font-size="25.00" text-anchor="middle" fill="#000" letter-spacing="3.2" font-family="Liberation Serif, Times New Roman, serif"><tspan font-family="Liberation Sans, Arial, sans-serif">Δ</tspan><tspan font-style="italic">γ</tspan><tspan font-family="Liberation Sans, Arial, sans-serif" font-size="21.00" dy="12.00">s</tspan></text>
<g filter="url(#blA)"><path d="M281.20 542.30L423.80 555.90L528.81 680.40A188.70 62.00 0 0 1 165.68 681.24Z" fill="#ff8e8e" stroke="#ff9a9a" stroke-width="5"/><ellipse cx="347.60" cy="697.70" rx="188.70" ry="62.00" fill="#ff8e8e" stroke="#ff9a9a" stroke-width="5"/></g>
<g filter="url(#blA2)"><path d="M281.20 542.30L423.80 555.90L528.81 680.40A188.70 62.00 0 0 1 165.68 681.24Z" fill="url(#gCone)"/><ellipse cx="347.60" cy="697.70" rx="188.20" ry="61.50" fill="url(#gBase)"/></g>
<path d="M3.30 502.90L501.70 540.60L503.50 570.60L6.80 529.70Z" fill="url(#gFront)"/>
<path d="M501.70 540.60L672.30 373.30L673.30 396.50L503.50 570.60Z" fill="#5f5f5f"/>
<path d="M3.30 503.70L501.70 541.40" stroke="#5a5252" stroke-width="1.6" opacity="0.7"/>
<path d="M3.30 502.90L501.70 540.60L672.30 373.30L247.50 354.70Z" fill="#fff"/>
<g clip-path="url(#cA)"><ellipse rx="362.29" ry="110.16" transform="translate(355.23 450.18) rotate(174.92)" fill="#ffffff"/><ellipse rx="340.39" ry="103.36" transform="translate(355.35 448.19) rotate(174.92)" fill="#f6f6fc"/><ellipse rx="339.61" ry="103.12" transform="translate(355.36 448.12) rotate(174.92)" fill="#eaeaf9"/><ellipse rx="338.83" ry="102.88" transform="translate(355.36 448.05) rotate(174.92)" fill="#dcdcf4"/><ellipse rx="338.05" ry="102.63" transform="translate(355.37 447.98) rotate(174.92)" fill="#cbcbef"/><ellipse rx="337.27" ry="102.39" transform="translate(355.37 447.92) rotate(174.92)" fill="#b8b8ea"/><ellipse rx="336.49" ry="102.15" transform="translate(355.37 447.85) rotate(174.92)" fill="#a3a3e3"/><ellipse rx="335.71" ry="101.91" transform="translate(355.38 447.78) rotate(174.92)" fill="#8c8cdd"/><ellipse rx="334.93" ry="101.67" transform="translate(355.38 447.71) rotate(174.92)" fill="#7474d5"/><ellipse rx="334.15" ry="101.43" transform="translate(355.39 447.64) rotate(174.92)" fill="#5a5ace"/><ellipse rx="333.37" ry="101.19" transform="translate(355.39 447.58) rotate(174.92)" fill="#3e3ec5"/><ellipse rx="332.59" ry="100.94" transform="translate(355.40 447.51) rotate(174.92)" fill="#2222bd"/><ellipse rx="331.81" ry="100.70" transform="translate(355.40 447.44) rotate(174.92)" fill="#b42f2f"/><ellipse rx="331.03" ry="100.46" transform="translate(355.40 447.38) rotate(174.92)" fill="#bf4e4e"/><ellipse rx="330.25" ry="100.22" transform="translate(355.41 447.31) rotate(174.92)" fill="#c96b6b"/><ellipse rx="329.47" ry="99.98" transform="translate(355.41 447.24) rotate(174.92)" fill="#d38686"/><ellipse rx="328.69" ry="99.74" transform="translate(355.42 447.18) rotate(174.92)" fill="#dda0a0"/><ellipse rx="327.92" ry="99.50" transform="translate(355.42 447.11) rotate(174.92)" fill="#e5b8b8"/><ellipse rx="327.14" ry="99.26" transform="translate(355.43 447.04) rotate(174.92)" fill="#edcece"/><ellipse rx="326.36" ry="99.02" transform="translate(355.43 446.98) rotate(174.92)" fill="#f4e1e1"/><ellipse rx="325.58" ry="98.78" transform="translate(355.43 446.91) rotate(174.92)" fill="#faf1f1"/><ellipse rx="324.80" ry="98.54" transform="translate(355.44 446.85) rotate(174.92)" fill="#ffffff"/><ellipse rx="290.65" ry="88.01" transform="translate(355.61 444.13) rotate(174.93)" fill="#f7f7fd"/><ellipse rx="289.88" ry="87.77" transform="translate(355.61 444.07) rotate(174.93)" fill="#ededfa"/><ellipse rx="289.10" ry="87.53" transform="translate(355.62 444.01) rotate(174.93)" fill="#e0e0f6"/><ellipse rx="288.33" ry="87.30" transform="translate(355.62 443.95) rotate(174.93)" fill="#d1d1f1"/><ellipse rx="287.56" ry="87.06" transform="translate(355.63 443.90) rotate(174.93)" fill="#c0c0ec"/><ellipse rx="286.78" ry="86.82" transform="translate(355.63 443.84) rotate(174.93)" fill="#adade7"/><ellipse rx="286.01" ry="86.58" transform="translate(355.63 443.78) rotate(174.93)" fill="#9999e1"/><ellipse rx="285.24" ry="86.35" transform="translate(355.64 443.72) rotate(174.93)" fill="#8484da"/><ellipse rx="284.46" ry="86.11" transform="translate(355.64 443.67) rotate(174.93)" fill="#6d6dd3"/><ellipse rx="283.69" ry="85.87" transform="translate(355.64 443.61) rotate(174.93)" fill="#5555cc"/><ellipse rx="282.92" ry="85.63" transform="translate(355.65 443.55) rotate(174.93)" fill="#3b3bc5"/><ellipse rx="282.14" ry="85.40" transform="translate(355.65 443.50) rotate(174.93)" fill="#2121bd"/><ellipse rx="281.37" ry="85.16" transform="translate(355.65 443.44) rotate(174.93)" fill="#b32e2e"/><ellipse rx="280.60" ry="84.92" transform="translate(355.66 443.38) rotate(174.93)" fill="#be4a4a"/><ellipse rx="279.83" ry="84.68" transform="translate(355.66 443.33) rotate(174.93)" fill="#c86666"/><ellipse rx="279.05" ry="84.45" transform="translate(355.66 443.27) rotate(174.93)" fill="#d18080"/><ellipse rx="278.28" ry="84.21" transform="translate(355.67 443.22) rotate(174.93)" fill="#da9999"/><ellipse rx="277.51" ry="83.97" transform="translate(355.67 443.16) rotate(174.93)" fill="#e2b0b0"/><ellipse rx="276.74" ry="83.74" transform="translate(355.68 443.10) rotate(174.93)" fill="#eac5c5"/><ellipse rx="275.96" ry="83.50" transform="translate(355.68 443.05) rotate(174.93)" fill="#f1d8d8"/><ellipse rx="275.19" ry="83.26" transform="translate(355.68 442.99) rotate(174.93)" fill="#f7e9e9"/><ellipse rx="274.42" ry="83.03" transform="translate(355.69 442.94) rotate(174.93)" fill="#fcf7f7"/><ellipse rx="273.65" ry="82.79" transform="translate(355.69 442.88) rotate(174.93)" fill="#ffffff"/><ellipse rx="240.53" ry="72.66" transform="translate(355.83 440.68) rotate(174.93)" fill="#f2f2fb"/><ellipse rx="239.76" ry="72.43" transform="translate(355.83 440.63) rotate(174.93)" fill="#e6e6f8"/><ellipse rx="238.99" ry="72.19" transform="translate(355.84 440.59) rotate(174.93)" fill="#d9d9f4"/><ellipse rx="238.23" ry="71.96" transform="translate(355.84 440.54) rotate(174.93)" fill="#cacaef"/><ellipse rx="237.46" ry="71.72" transform="translate(355.84 440.49) rotate(174.93)" fill="#b9b9ea"/><ellipse rx="236.69" ry="71.49" transform="translate(355.84 440.44) rotate(174.93)" fill="#a7a7e5"/><ellipse rx="235.92" ry="71.25" transform="translate(355.85 440.40) rotate(174.93)" fill="#9494df"/><ellipse rx="235.15" ry="71.02" transform="translate(355.85 440.35) rotate(174.93)" fill="#7f7fd9"/><ellipse rx="234.39" ry="70.78" transform="translate(355.85 440.30) rotate(174.93)" fill="#6969d2"/><ellipse rx="233.62" ry="70.55" transform="translate(355.86 440.26) rotate(174.93)" fill="#5252cb"/><ellipse rx="232.85" ry="70.32" transform="translate(355.86 440.21) rotate(174.93)" fill="#3a3ac4"/><ellipse rx="232.08" ry="70.08" transform="translate(355.86 440.16) rotate(174.93)" fill="#2121bd"/><ellipse rx="231.31" ry="69.85" transform="translate(355.86 440.12) rotate(174.93)" fill="#b32c2c"/><ellipse rx="230.55" ry="69.61" transform="translate(355.87 440.07) rotate(174.93)" fill="#bc4646"/><ellipse rx="229.78" ry="69.38" transform="translate(355.87 440.03) rotate(174.93)" fill="#c56060"/><ellipse rx="229.01" ry="69.15" transform="translate(355.87 439.98) rotate(174.93)" fill="#ce7878"/><ellipse rx="228.25" ry="68.91" transform="translate(355.88 439.94) rotate(174.93)" fill="#d68f8f"/><ellipse rx="227.48" ry="68.68" transform="translate(355.88 439.89) rotate(174.93)" fill="#dea5a5"/><ellipse rx="226.71" ry="68.45" transform="translate(355.88 439.85) rotate(174.93)" fill="#e6b9b9"/><ellipse rx="225.94" ry="68.21" transform="translate(355.89 439.80) rotate(174.93)" fill="#eccccc"/><ellipse rx="225.18" ry="67.98" transform="translate(355.89 439.76) rotate(174.93)" fill="#f3dddd"/><ellipse rx="224.41" ry="67.74" transform="translate(355.89 439.71) rotate(174.93)" fill="#f8ecec"/><ellipse rx="223.64" ry="67.51" transform="translate(355.89 439.67) rotate(174.93)" fill="#fcf8f8"/><ellipse rx="222.88" ry="67.28" transform="translate(355.90 439.62) rotate(174.93)" fill="#ffffff"/><ellipse rx="192.26" ry="57.97" transform="translate(356.00 437.98) rotate(174.93)" fill="#f6f6fc"/><ellipse rx="191.50" ry="57.74" transform="translate(356.00 437.94) rotate(174.93)" fill="#eeeefa"/><ellipse rx="190.73" ry="57.51" transform="translate(356.01 437.90) rotate(174.93)" fill="#e3e3f7"/><ellipse rx="189.97" ry="57.27" transform="translate(356.01 437.86) rotate(174.93)" fill="#d7d7f3"/><ellipse rx="189.21" ry="57.04" transform="translate(356.01 437.83) rotate(174.93)" fill="#c9c9ef"/><ellipse rx="188.44" ry="56.81" transform="translate(356.01 437.79) rotate(174.93)" fill="#bbbbeb"/><ellipse rx="187.68" ry="56.58" transform="translate(356.02 437.75) rotate(174.93)" fill="#ababe6"/><ellipse rx="186.92" ry="56.35" transform="translate(356.02 437.71) rotate(174.93)" fill="#9a9ae1"/><ellipse rx="186.15" ry="56.12" transform="translate(356.02 437.68) rotate(174.93)" fill="#8787db"/><ellipse rx="185.39" ry="55.88" transform="translate(356.02 437.64) rotate(174.93)" fill="#7474d6"/><ellipse rx="184.63" ry="55.65" transform="translate(356.02 437.60) rotate(174.93)" fill="#6161d0"/><ellipse rx="183.86" ry="55.42" transform="translate(356.03 437.57) rotate(174.93)" fill="#4c4cc9"/><ellipse rx="183.10" ry="55.19" transform="translate(356.03 437.53) rotate(174.93)" fill="#3636c3"/><ellipse rx="182.34" ry="54.96" transform="translate(356.03 437.50) rotate(174.93)" fill="#2020bc"/><ellipse rx="181.57" ry="54.73" transform="translate(356.03 437.46) rotate(174.93)" fill="#b22b2b"/><ellipse rx="180.81" ry="54.50" transform="translate(356.04 437.42) rotate(174.93)" fill="#bb4343"/><ellipse rx="180.05" ry="54.26" transform="translate(356.04 437.39) rotate(174.93)" fill="#c35b5b"/><ellipse rx="179.28" ry="54.03" transform="translate(356.04 437.35) rotate(174.93)" fill="#cc7171"/><ellipse rx="178.52" ry="53.80" transform="translate(356.04 437.32) rotate(174.93)" fill="#d38787"/><ellipse rx="177.76" ry="53.57" transform="translate(356.05 437.28) rotate(174.93)" fill="#db9b9b"/><ellipse rx="176.99" ry="53.34" transform="translate(356.05 437.25) rotate(174.93)" fill="#e2afaf"/><ellipse rx="176.23" ry="53.11" transform="translate(356.05 437.21) rotate(174.93)" fill="#e8c1c1"/><ellipse rx="175.47" ry="52.88" transform="translate(356.05 437.18) rotate(174.93)" fill="#eed1d1"/><ellipse rx="174.71" ry="52.65" transform="translate(356.05 437.14) rotate(174.93)" fill="#f4e1e1"/><ellipse rx="173.94" ry="52.41" transform="translate(356.06 437.11) rotate(174.93)" fill="#f9eeee"/><ellipse rx="173.18" ry="52.18" transform="translate(356.06 437.07) rotate(174.93)" fill="#fdf8f8"/><ellipse rx="172.42" ry="51.95" transform="translate(356.06 437.04) rotate(174.93)" fill="#ffffff"/><ellipse rx="143.48" ry="43.20" transform="translate(356.14 435.86) rotate(174.94)" fill="#f3f3fb"/><ellipse rx="142.72" ry="42.97" transform="translate(356.14 435.83) rotate(174.94)" fill="#eaeaf9"/><ellipse rx="141.96" ry="42.74" transform="translate(356.14 435.80) rotate(174.94)" fill="#e0e0f6"/><ellipse rx="141.20" ry="42.51" transform="translate(356.14 435.77) rotate(174.94)" fill="#d5d5f3"/><ellipse rx="140.44" ry="42.28" transform="translate(356.14 435.75) rotate(174.94)" fill="#c9c9ef"/><ellipse rx="139.67" ry="42.05" transform="translate(356.14 435.72) rotate(174.94)" fill="#bcbceb"/><ellipse rx="138.91" ry="41.82" transform="translate(356.15 435.69) rotate(174.94)" fill="#adade7"/><ellipse rx="138.15" ry="41.59" transform="translate(356.15 435.66) rotate(174.94)" fill="#9e9ee2"/><ellipse rx="137.39" ry="41.36" transform="translate(356.15 435.64) rotate(174.94)" fill="#8e8edd"/><ellipse rx="136.63" ry="41.13" transform="translate(356.15 435.61) rotate(174.94)" fill="#7d7dd8"/><ellipse rx="135.87" ry="40.90" transform="translate(356.15 435.58) rotate(174.94)" fill="#6c6cd3"/><ellipse rx="135.11" ry="40.67" transform="translate(356.15 435.56) rotate(174.94)" fill="#5a5ace"/><ellipse rx="134.35" ry="40.44" transform="translate(356.16 435.53) rotate(174.94)" fill="#4747c8"/><ellipse rx="133.59" ry="40.21" transform="translate(356.16 435.50) rotate(174.94)" fill="#3333c2"/><ellipse rx="132.83" ry="39.98" transform="translate(356.16 435.48) rotate(174.94)" fill="#1f1fbc"/><ellipse rx="132.07" ry="39.75" transform="translate(356.16 435.45) rotate(174.94)" fill="#b12828"/><ellipse rx="131.31" ry="39.52" transform="translate(356.16 435.42) rotate(174.94)" fill="#b83b3b"/><ellipse rx="130.55" ry="39.29" transform="translate(356.16 435.40) rotate(174.94)" fill="#bf4f4f"/><ellipse rx="129.79" ry="39.06" transform="translate(356.17 435.37) rotate(174.94)" fill="#c66161"/><ellipse rx="129.03" ry="38.83" transform="translate(356.17 435.35) rotate(174.94)" fill="#cc7373"/><ellipse rx="128.27" ry="38.60" transform="translate(356.17 435.32) rotate(174.94)" fill="#d28484"/><ellipse rx="127.51" ry="38.38" transform="translate(356.17 435.30) rotate(174.94)" fill="#d89595"/><ellipse rx="126.75" ry="38.15" transform="translate(356.17 435.27) rotate(174.94)" fill="#dea4a4"/><ellipse rx="125.99" ry="37.92" transform="translate(356.17 435.25) rotate(174.94)" fill="#e3b3b3"/><ellipse rx="125.23" ry="37.69" transform="translate(356.18 435.22) rotate(174.94)" fill="#e8c1c1"/><ellipse rx="124.47" ry="37.46" transform="translate(356.18 435.20) rotate(174.94)" fill="#edcece"/><ellipse rx="123.71" ry="37.23" transform="translate(356.18 435.17) rotate(174.94)" fill="#f1d9d9"/><ellipse rx="122.96" ry="37.00" transform="translate(356.18 435.15) rotate(174.94)" fill="#f5e4e4"/><ellipse rx="122.20" ry="36.77" transform="translate(356.18 435.13) rotate(174.94)" fill="#f9eeee"/><ellipse rx="121.44" ry="36.54" transform="translate(356.18 435.10) rotate(174.94)" fill="#fcf5f5"/><ellipse rx="120.68" ry="36.31" transform="translate(356.19 435.08) rotate(174.94)" fill="#ffffff"/><ellipse rx="96.39" ry="28.99" transform="translate(356.23 434.40) rotate(174.94)" fill="#f5f5fc"/><ellipse rx="95.64" ry="28.76" transform="translate(356.23 434.38) rotate(174.94)" fill="#efeffa"/><ellipse rx="94.88" ry="28.53" transform="translate(356.23 434.36) rotate(174.94)" fill="#e8e8f8"/><ellipse rx="94.12" ry="28.31" transform="translate(356.23 434.34) rotate(174.94)" fill="#e0e0f6"/><ellipse rx="93.36" ry="28.08" transform="translate(356.23 434.32) rotate(174.94)" fill="#d8d8f3"/><ellipse rx="92.60" ry="27.85" transform="translate(356.23 434.30) rotate(174.94)" fill="#cecef0"/><ellipse rx="91.84" ry="27.62" transform="translate(356.24 434.28) rotate(174.94)" fill="#c5c5ee"/><ellipse rx="91.09" ry="27.39" transform="translate(356.24 434.27) rotate(174.94)" fill="#babaea"/><ellipse rx="90.33" ry="27.16" transform="translate(356.24 434.25) rotate(174.94)" fill="#afafe7"/><ellipse rx="89.57" ry="26.94" transform="translate(356.24 434.23) rotate(174.94)" fill="#a4a4e4"/><ellipse rx="88.81" ry="26.71" transform="translate(356.24 434.21) rotate(174.94)" fill="#9898e0"/><ellipse rx="88.05" ry="26.48" transform="translate(356.24 434.20) rotate(174.94)" fill="#8b8bdc"/><ellipse rx="87.30" ry="26.25" transform="translate(356.24 434.18) rotate(174.94)" fill="#7e7ed9"/><ellipse rx="86.54" ry="26.02" transform="translate(356.24 434.16) rotate(174.94)" fill="#7171d5"/><ellipse rx="85.78" ry="25.79" transform="translate(356.24 434.15) rotate(174.94)" fill="#6363d0"/><ellipse rx="85.02" ry="25.57" transform="translate(356.25 434.13) rotate(174.94)" fill="#5555cc"/><ellipse rx="84.27" ry="25.34" transform="translate(356.25 434.11) rotate(174.94)" fill="#4646c8"/><ellipse rx="83.51" ry="25.11" transform="translate(356.25 434.10) rotate(174.94)" fill="#3737c3"/><ellipse rx="82.75" ry="24.88" transform="translate(356.25 434.08) rotate(174.94)" fill="#2828bf"/><ellipse rx="81.99" ry="24.65" transform="translate(356.25 434.06) rotate(174.94)" fill="#1818ba"/><ellipse rx="81.23" ry="24.43" transform="translate(356.25 434.05) rotate(174.94)" fill="#b22929"/><ellipse rx="80.48" ry="24.20" transform="translate(356.25 434.03) rotate(174.94)" fill="#b73838"/><ellipse rx="79.72" ry="23.97" transform="translate(356.25 434.02) rotate(174.94)" fill="#bc4747"/><ellipse rx="78.96" ry="23.74" transform="translate(356.25 434.00) rotate(174.94)" fill="#c15555"/><ellipse rx="78.20" ry="23.51" transform="translate(356.25 433.98) rotate(174.94)" fill="#c66262"/><ellipse rx="77.45" ry="23.29" transform="translate(356.26 433.97) rotate(174.94)" fill="#cb6f6f"/><ellipse rx="76.69" ry="23.06" transform="translate(356.26 433.95) rotate(174.94)" fill="#d07c7c"/><ellipse rx="75.93" ry="22.83" transform="translate(356.26 433.94) rotate(174.94)" fill="#d48888"/><ellipse rx="75.17" ry="22.60" transform="translate(356.26 433.92) rotate(174.94)" fill="#d89494"/><ellipse rx="74.42" ry="22.37" transform="translate(356.26 433.91) rotate(174.94)" fill="#dc9f9f"/><ellipse rx="73.66" ry="22.15" transform="translate(356.26 433.90) rotate(174.94)" fill="#e0aaaa"/><ellipse rx="72.90" ry="21.92" transform="translate(356.26 433.88) rotate(174.94)" fill="#e4b4b4"/><ellipse rx="72.14" ry="21.69" transform="translate(356.26 433.87) rotate(174.94)" fill="#e7bdbd"/><ellipse rx="71.39" ry="21.46" transform="translate(356.26 433.85) rotate(174.94)" fill="#eac6c6"/><ellipse rx="70.63" ry="21.23" transform="translate(356.26 433.84) rotate(174.94)" fill="#eecfcf"/><ellipse rx="69.87" ry="21.01" transform="translate(356.26 433.82) rotate(174.94)" fill="#f0d7d7"/><ellipse rx="69.11" ry="20.78" transform="translate(356.27 433.81) rotate(174.94)" fill="#f3dede"/><ellipse rx="68.36" ry="20.55" transform="translate(356.27 433.80) rotate(174.94)" fill="#f5e5e5"/><ellipse rx="67.60" ry="20.32" transform="translate(356.27 433.78) rotate(174.94)" fill="#f8ebeb"/><ellipse rx="66.84" ry="20.09" transform="translate(356.27 433.77) rotate(174.94)" fill="#faf0f0"/><ellipse rx="65.33" ry="19.64" transform="translate(356.27 433.75) rotate(174.94)" fill="#fdf9f9"/><ellipse rx="64.57" ry="19.41" transform="translate(356.27 433.73) rotate(174.94)" fill="#ffffff"/><ellipse rx="53.97" ry="16.22" transform="translate(356.28 433.57) rotate(174.94)" fill="#f5f5fc"/><ellipse rx="53.21" ry="15.99" transform="translate(356.28 433.56) rotate(174.94)" fill="#f0f0fb"/><ellipse rx="52.46" ry="15.77" transform="translate(356.28 433.55) rotate(174.94)" fill="#e9e9f9"/><ellipse rx="51.70" ry="15.54" transform="translate(356.28 433.54) rotate(174.94)" fill="#e2e2f6"/><ellipse rx="50.94" ry="15.31" transform="translate(356.28 433.53) rotate(174.94)" fill="#d9d9f4"/><ellipse rx="50.18" ry="15.08" transform="translate(356.28 433.52) rotate(174.94)" fill="#d0d0f1"/><ellipse rx="49.43" ry="14.86" transform="translate(356.28 433.51) rotate(174.94)" fill="#c7c7ee"/><ellipse rx="48.67" ry="14.63" transform="translate(356.29 433.50) rotate(174.94)" fill="#bcbceb"/><ellipse rx="47.91" ry="14.40" transform="translate(356.29 433.49) rotate(174.94)" fill="#b1b1e8"/><ellipse rx="47.16" ry="14.17" transform="translate(356.29 433.48) rotate(174.94)" fill="#a6a6e4"/><ellipse rx="46.40" ry="13.95" transform="translate(356.29 433.47) rotate(174.94)" fill="#9b9be1"/><ellipse rx="45.64" ry="13.72" transform="translate(356.29 433.46) rotate(174.94)" fill="#8f8fde"/><ellipse rx="44.89" ry="13.49" transform="translate(356.29 433.45) rotate(174.94)" fill="#8484da"/><ellipse rx="44.13" ry="13.26" transform="translate(356.29 433.44) rotate(174.94)" fill="#7878d7"/><ellipse rx="43.37" ry="13.04" transform="translate(356.29 433.44) rotate(174.94)" fill="#6d6dd3"/><ellipse rx="42.62" ry="12.81" transform="translate(356.29 433.43) rotate(174.94)" fill="#6262d0"/><ellipse rx="41.86" ry="12.58" transform="translate(356.29 433.42) rotate(174.94)" fill="#5757cd"/><ellipse rx="41.10" ry="12.35" transform="translate(356.29 433.41) rotate(174.94)" fill="#4d4dca"/><ellipse rx="40.35" ry="12.13" transform="translate(356.29 433.40) rotate(174.94)" fill="#4444c7"/><ellipse rx="39.59" ry="11.90" transform="translate(356.29 433.40) rotate(174.94)" fill="#3b3bc4"/><ellipse rx="38.83" ry="11.67" transform="translate(356.29 433.39) rotate(174.94)" fill="#3333c2"/><ellipse rx="38.08" ry="11.44" transform="translate(356.29 433.38) rotate(174.94)" fill="#2b2bc0"/><ellipse rx="37.32" ry="11.22" transform="translate(356.29 433.37) rotate(174.94)" fill="#2525be"/><ellipse rx="36.56" ry="10.99" transform="translate(356.29 433.37) rotate(174.94)" fill="#2020bc"/><ellipse rx="35.05" ry="10.53" transform="translate(356.29 433.35) rotate(174.94)" fill="#1919ba"/><ellipse rx="32.78" ry="9.85" transform="translate(356.30 433.33) rotate(174.94)" fill="#2929bf"/><ellipse rx="32.02" ry="9.62" transform="translate(356.30 433.33) rotate(174.94)" fill="#4141c6"/><ellipse rx="31.27" ry="9.40" transform="translate(356.30 433.32) rotate(174.94)" fill="#5e5ecf"/><ellipse rx="30.51" ry="9.17" transform="translate(356.30 433.31) rotate(174.94)" fill="#8080d9"/><ellipse rx="29.75" ry="8.94" transform="translate(356.30 433.31) rotate(174.94)" fill="#a2a2e3"/><ellipse rx="29.00" ry="8.71" transform="translate(356.30 433.30) rotate(174.94)" fill="#c3c3ed"/><ellipse rx="28.24" ry="8.49" transform="translate(356.30 433.30) rotate(174.94)" fill="#dfdff5"/><ellipse rx="27.48" ry="8.26" transform="translate(356.30 433.29) rotate(174.94)" fill="#f4f4fc"/><ellipse rx="26.73" ry="8.03" transform="translate(356.30 433.29) rotate(174.94)" fill="#ffffff"/><ellipse rx="25.21" ry="7.58" transform="translate(356.30 433.28) rotate(174.94)" fill="#f9efef"/><ellipse rx="24.46" ry="7.35" transform="translate(356.30 433.27) rotate(174.94)" fill="#f1d9d9"/><ellipse rx="23.70" ry="7.12" transform="translate(356.30 433.27) rotate(174.94)" fill="#e7bdbd"/><ellipse rx="22.94" ry="6.90" transform="translate(356.30 433.26) rotate(174.94)" fill="#dc9d9d"/><ellipse rx="22.19" ry="6.67" transform="translate(356.30 433.26) rotate(174.94)" fill="#d07d7d"/><ellipse rx="21.43" ry="6.44" transform="translate(356.30 433.25) rotate(174.94)" fill="#c55e5e"/><ellipse rx="20.68" ry="6.21" transform="translate(356.30 433.25) rotate(174.94)" fill="#bb4343"/><ellipse rx="19.92" ry="5.99" transform="translate(356.30 433.24) rotate(174.94)" fill="#b43030"/><ellipse rx="19.16" ry="5.76" transform="translate(356.30 433.24) rotate(174.94)" fill="#b02626"/></g>
<path d="M502.10 541.00L672.70 373.70" stroke="#5f5f5f" stroke-width="1.4"/>
<path d="M3.30 503.40L501.70 541.10" stroke="#665e5e" stroke-width="1.5"/>
<path d="M243.50 351.70L673.30 370.30L664.30 385.30L225.50 368.70Z" fill="url(#gFade)"/>
<path d="M2.80 501.70L247.50 353.70" stroke="#fff" stroke-width="2.2"/>
<path d="M5.30 501.90L235.50 361.70" stroke="#e2e2e2" stroke-width="0.7"/>
<text transform="translate(90.2 535.6) rotate(4.40)" font-size="32.5" font-family="Liberation Sans, Arial, sans-serif" fill="#fff" fill-opacity="0.96" textLength="127.5" lengthAdjust="spacingAndGlyphs">50nm Co</text>
<text x="30.00" y="450.90" font-size="39.00" text-anchor="start" font-family="Liberation Sans, Arial, sans-serif" fill="#000" >A</text>
<path d="M105.70 390.00V346.00M105.10 389.40H158.00M105.70 389.40L137.50 367.60" stroke="#000" stroke-width="1.25" fill="none"/>
<path d="M105.7 337.6l5.7 11h-11.4z"/>
<path d="M167.6 389.4l-11 -5.7v11.4z"/>
<path d="M144.6 362.8l-6.2 10.7l-6.5 -9.4z"/>
<text font-size="32" font-style="italic" font-family="Liberation Serif, Times New Roman, serif"><tspan x="111.5" y="344">z</tspan><tspan x="147" y="355.5">y</tspan><tspan x="167.5" y="386.6">x</tspan></text></svg></body></html>
